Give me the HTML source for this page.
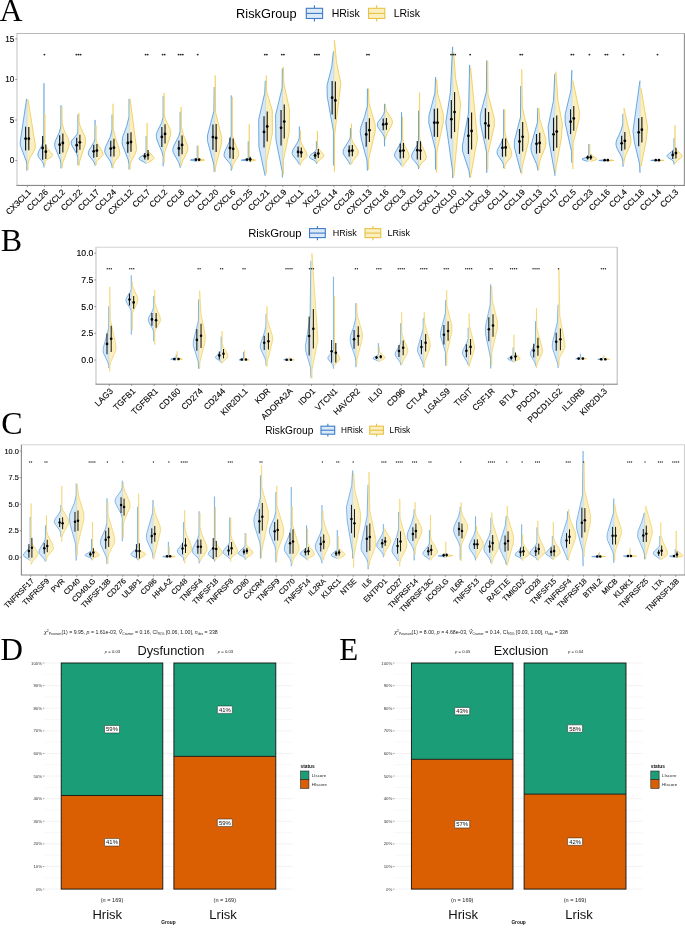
<!DOCTYPE html>
<html><head><meta charset="utf-8"><style>
html,body{margin:0;padding:0;background:#fff;width:685px;height:928px;overflow:hidden}
svg{display:block;font-family:"Liberation Sans", sans-serif}
</style></head><body>
<svg width="685" height="928" viewBox="0 0 685 928">
<rect width="685" height="928" fill="#fff"/>
<line x1="314.45" y1="5.24" x2="314.45" y2="21.56" stroke="#3c7cc8" stroke-width="1.1"/>
<rect x="306.3" y="8.3" width="16.3" height="10.2" fill="#dce9f7" stroke="#3c7cc8" stroke-width="1.1"/>
<line x1="306.3" y1="13.4" x2="322.6" y2="13.4" stroke="#3c7cc8" stroke-width="1.1"/>
<line x1="376.65" y1="5.24" x2="376.65" y2="21.56" stroke="#e8c244" stroke-width="1.1"/>
<rect x="368.5" y="8.3" width="16.3" height="10.2" fill="#f9efc0" stroke="#e8c244" stroke-width="1.1"/>
<line x1="368.5" y1="13.4" x2="384.8" y2="13.4" stroke="#e8c244" stroke-width="1.1"/>
<line x1="16.5" y1="33.5" x2="684.9" y2="33.5" stroke="#b8b8b8" stroke-width="1.1"/>
<line x1="17" y1="33.5" x2="17" y2="185.4" stroke="#c6c6c6" stroke-width="1.1"/>
<line x1="684.4" y1="33.5" x2="684.4" y2="185.4" stroke="#8f8f8f" stroke-width="1.1"/>
<line x1="16.5" y1="185.4" x2="684.9" y2="185.4" stroke="#7a7a7a" stroke-width="1.0"/>
<line x1="15.2" y1="160.5" x2="17" y2="160.5" stroke="#777" stroke-width="0.7"/>
<line x1="15.2" y1="120" x2="17" y2="120" stroke="#777" stroke-width="0.7"/>
<line x1="15.2" y1="79.5" x2="17" y2="79.5" stroke="#777" stroke-width="0.7"/>
<line x1="15.2" y1="38.9" x2="17" y2="38.9" stroke="#777" stroke-width="0.7"/>
<path d="M27.4 98.9L26.6 98.9L20.2 141.9L20.3 145.4L26.2 160.9L26.8 164.4L26.8 170.5L27.4 170.5Z" fill="#d5e8f8"/>
<path d="M26.6 98.9L20.2 141.9L20.3 145.4L26.2 160.9L26.8 164.4L26.8 170.5" fill="none" stroke="#3f8fd6" stroke-width="0.75" stroke-linejoin="round"/>
<line x1="27.25" y1="98.9" x2="27.25" y2="170.5" stroke="#3f8fd6" stroke-width="0.3" stroke-opacity="0.5"/>
<path d="M27.4 99.9L28.1 99.9L35.2 144.4L35.2 147.9L34.6 149.9L29.4 158.9L28 163.4L27.9 170L27.4 170Z" fill="#faefc2"/>
<path d="M28.1 99.9L35.2 144.4L35.2 147.9L34.6 149.9L29.4 158.9L28 163.4L27.9 170" fill="none" stroke="#efc63f" stroke-width="0.75" stroke-linejoin="round"/>
<line x1="27.55" y1="99.9" x2="27.55" y2="170" stroke="#efc63f" stroke-width="0.3" stroke-opacity="0.5"/>
<path d="M44.4 83.2L43.9 83.2L43.9 139.7L42.5 144.2L38.6 151.7L38 153.7L37.9 155.2L38.2 156.2L39 157.7L42.3 161.7L43.4 163.7L43.9 165.2L43.9 167.3L44.4 167.3Z" fill="#d5e8f8"/>
<path d="M43.9 83.2L43.9 139.7L42.5 144.2L38.6 151.7L38 153.7L37.9 155.2L38.2 156.2L39 157.7L42.3 161.7L43.4 163.7L43.9 165.2L43.9 167.3" fill="none" stroke="#3f8fd6" stroke-width="0.75" stroke-linejoin="round"/>
<line x1="44.28" y1="83.2" x2="44.28" y2="167.3" stroke="#3f8fd6" stroke-width="0.3" stroke-opacity="0.5"/>
<path d="M44.4 114L45 114L45 144.5L45.4 146L46.3 147.5L48 149.5L51.1 152.5L51.9 153.5L52.4 154.5L52.5 155.5L52.3 156L51.9 156.5L51.3 157L47.2 159.5L46 160.5L45.2 161.5L45 162L45 165L44.4 165Z" fill="#faefc2"/>
<path d="M45 114L45 144.5L45.4 146L46.3 147.5L48 149.5L51.1 152.5L51.9 153.5L52.4 154.5L52.5 155.5L52.3 156L51.9 156.5L51.3 157L47.2 159.5L46 160.5L45.2 161.5L45 162L45 165" fill="none" stroke="#efc63f" stroke-width="0.75" stroke-linejoin="round"/>
<line x1="44.58" y1="114" x2="44.58" y2="165" stroke="#efc63f" stroke-width="0.3" stroke-opacity="0.5"/>
<path d="M61.5 105.3L60.9 105.3L60.9 126.3L59.3 132.3L55.2 141.3L54.7 144.3L55 147.3L60 159.3L60.9 163.3L60.9 168.4L61.5 168.4Z" fill="#d5e8f8"/>
<path d="M60.9 105.3L60.9 126.3L59.3 132.3L55.2 141.3L54.7 144.3L55 147.3L60 159.3L60.9 163.3L60.9 168.4" fill="none" stroke="#3f8fd6" stroke-width="0.75" stroke-linejoin="round"/>
<line x1="61.31" y1="105.3" x2="61.31" y2="168.4" stroke="#3f8fd6" stroke-width="0.3" stroke-opacity="0.5"/>
<path d="M61.5 106.9L62 106.9L62.1 122.9L63.8 129.4L68.5 139.4L69.2 142.4L69.1 145.9L62.8 162.4L62 166.9L62 167.8L61.5 167.8Z" fill="#faefc2"/>
<path d="M62 106.9L62.1 122.9L63.8 129.4L68.5 139.4L69.2 142.4L69.1 145.9L62.8 162.4L62 166.9L62 167.8" fill="none" stroke="#efc63f" stroke-width="0.75" stroke-linejoin="round"/>
<line x1="61.61" y1="106.9" x2="61.61" y2="167.8" stroke="#efc63f" stroke-width="0.3" stroke-opacity="0.5"/>
<path d="M78.5 114.5L77.9 114.5L77.9 132L77.1 134L75.7 136L72.2 140L71.6 141L71.2 142L71.3 143.5L71.9 145.5L76.5 153.5L77.9 157.5L77.9 165.1L78.5 165.1Z" fill="#d5e8f8"/>
<path d="M77.9 114.5L77.9 132L77.1 134L75.7 136L72.2 140L71.6 141L71.2 142L71.3 143.5L71.9 145.5L76.5 153.5L77.9 157.5L77.9 165.1" fill="none" stroke="#3f8fd6" stroke-width="0.75" stroke-linejoin="round"/>
<line x1="78.34" y1="114.5" x2="78.34" y2="165.1" stroke="#3f8fd6" stroke-width="0.3" stroke-opacity="0.5"/>
<path d="M78.5 112.9L79 112.9L79.1 121.9L80.6 127.4L84.9 136.4L85.6 139.4L85.3 143.9L79.6 161.4L79 165.4L79 166.2L78.5 166.2Z" fill="#faefc2"/>
<path d="M79 112.9L79.1 121.9L80.6 127.4L84.9 136.4L85.6 139.4L85.3 143.9L79.6 161.4L79 165.4L79 166.2" fill="none" stroke="#efc63f" stroke-width="0.75" stroke-linejoin="round"/>
<line x1="78.64" y1="112.9" x2="78.64" y2="166.2" stroke="#efc63f" stroke-width="0.3" stroke-opacity="0.5"/>
<path d="M95.5 119.9L95 119.9L94.9 138.9L93.8 142.4L89 150.4L88.4 152.4L88.4 153.9L88.7 154.9L89.6 156.4L93.2 160.9L94.4 162.9L94.9 164.4L95 165.7L95.5 165.7Z" fill="#d5e8f8"/>
<path d="M95 119.9L94.9 138.9L93.8 142.4L89 150.4L88.4 152.4L88.4 153.9L88.7 154.9L89.6 156.4L93.2 160.9L94.4 162.9L94.9 164.4L95 165.7" fill="none" stroke="#3f8fd6" stroke-width="0.75" stroke-linejoin="round"/>
<line x1="95.37" y1="119.9" x2="95.37" y2="165.7" stroke="#3f8fd6" stroke-width="0.3" stroke-opacity="0.5"/>
<path d="M95.5 125.3L96.1 125.3L96.1 139.8L97.2 143.3L102.2 151.3L102.9 153.3L103 154.3L103 154.8L102.8 155.3L102.1 156.3L98 159.8L97.1 160.8L96.2 162.3L96.1 162.8L96.1 165.1L95.5 165.1Z" fill="#faefc2"/>
<path d="M96.1 125.3L96.1 139.8L97.2 143.3L102.2 151.3L102.9 153.3L103 154.3L103 154.8L102.8 155.3L102.1 156.3L98 159.8L97.1 160.8L96.2 162.3L96.1 162.8L96.1 165.1" fill="none" stroke="#efc63f" stroke-width="0.75" stroke-linejoin="round"/>
<line x1="95.67" y1="125.3" x2="95.67" y2="165.1" stroke="#efc63f" stroke-width="0.3" stroke-opacity="0.5"/>
<path d="M112.6 114.5L112 114.5L112 130L110.4 136.5L105.5 147L104.8 150L104.8 152L105.5 154L110.4 161.5L111.8 165L112 166L112 167.8L112.6 167.8Z" fill="#d5e8f8"/>
<path d="M112 114.5L112 130L110.4 136.5L105.5 147L104.8 150L104.8 152L105.5 154L110.4 161.5L111.8 165L112 166L112 167.8" fill="none" stroke="#3f8fd6" stroke-width="0.75" stroke-linejoin="round"/>
<line x1="112.4" y1="114.5" x2="112.4" y2="167.8" stroke="#3f8fd6" stroke-width="0.3" stroke-opacity="0.5"/>
<path d="M112.6 103.7L113.1 103.7L113.2 128.7L115.8 139.2L119.4 149.2L119.8 153.2L119.6 154.7L118.9 156.2L114.8 161.7L113.5 164.2L113.1 165.7L113.1 168.4L112.6 168.4Z" fill="#faefc2"/>
<path d="M113.1 103.7L113.2 128.7L115.8 139.2L119.4 149.2L119.8 153.2L119.6 154.7L118.9 156.2L114.8 161.7L113.5 164.2L113.1 165.7L113.1 168.4" fill="none" stroke="#efc63f" stroke-width="0.75" stroke-linejoin="round"/>
<line x1="112.7" y1="103.7" x2="112.7" y2="168.4" stroke="#efc63f" stroke-width="0.3" stroke-opacity="0.5"/>
<path d="M129.6 98.9L129 98.9L129 116.9L126.6 126.4L122.7 136.9L122.1 141.4L122.6 145.4L128.2 159.9L129 164.4L129 169.4L129.6 169.4Z" fill="#d5e8f8"/>
<path d="M129 98.9L129 116.9L126.6 126.4L122.7 136.9L122.1 141.4L122.6 145.4L128.2 159.9L129 164.4L129 169.4" fill="none" stroke="#3f8fd6" stroke-width="0.75" stroke-linejoin="round"/>
<line x1="129.43" y1="98.9" x2="129.43" y2="169.4" stroke="#3f8fd6" stroke-width="0.3" stroke-opacity="0.5"/>
<path d="M129.6 98.9L130.1 98.9L136.6 148.4L136.3 150.9L134.9 154.4L131.4 160.9L130.1 165.4L130.1 169.4L129.6 169.4Z" fill="#faefc2"/>
<path d="M130.1 98.9L136.6 148.4L136.3 150.9L134.9 154.4L131.4 160.9L130.1 165.4L130.1 169.4" fill="none" stroke="#efc63f" stroke-width="0.75" stroke-linejoin="round"/>
<line x1="129.73" y1="98.9" x2="129.73" y2="169.4" stroke="#efc63f" stroke-width="0.3" stroke-opacity="0.5"/>
<path d="M146.6 136L146.1 136L146.1 152L146 152.5L145.3 153.5L144.1 154.5L140.3 157L139.7 157.5L139.2 158L139 158.5L139.1 159L139.5 159.5L140.1 160L143.9 162L144.7 162.5L145.3 163L145.8 163.5L146.6 163.5Z" fill="#d5e8f8"/>
<path d="M146.1 136L146.1 152L146 152.5L145.3 153.5L144.1 154.5L140.3 157L139.7 157.5L139.2 158L139 158.5L139.1 159L139.5 159.5L140.1 160L143.9 162L144.7 162.5L145.3 163L145.8 163.5" fill="none" stroke="#3f8fd6" stroke-width="0.75" stroke-linejoin="round"/>
<line x1="146.46" y1="136" x2="146.46" y2="163.5" stroke="#3f8fd6" stroke-width="0.3" stroke-opacity="0.5"/>
<path d="M146.6 123.1L147.2 123.1L147.2 148.6L147.4 149.6L148.3 151.1L150 153.1L152.6 155.6L153.3 156.6L153.8 157.6L153.8 158.1L153.7 158.6L153.4 159.1L152.8 159.6L149.2 162.1L148.2 163L146.6 163Z" fill="#faefc2"/>
<path d="M147.2 123.1L147.2 148.6L147.4 149.6L148.3 151.1L150 153.1L152.6 155.6L153.3 156.6L153.8 157.6L153.8 158.1L153.7 158.6L153.4 159.1L152.8 159.6L149.2 162.1L148.2 163" fill="none" stroke="#efc63f" stroke-width="0.75" stroke-linejoin="round"/>
<line x1="146.76" y1="123.1" x2="146.76" y2="163" stroke="#efc63f" stroke-width="0.3" stroke-opacity="0.5"/>
<path d="M163.6 96.2L163.1 96.2L163.1 117.2L161.6 122.7L157 132.2L156.3 134.7L156.4 137.7L157.8 142.2L161.9 151.7L163.1 156.7L163.1 166.2L163.6 166.2Z" fill="#d5e8f8"/>
<path d="M163.1 96.2L163.1 117.2L161.6 122.7L157 132.2L156.3 134.7L156.4 137.7L157.8 142.2L161.9 151.7L163.1 156.7L163.1 166.2" fill="none" stroke="#3f8fd6" stroke-width="0.75" stroke-linejoin="round"/>
<line x1="163.49" y1="96.2" x2="163.49" y2="166.2" stroke="#3f8fd6" stroke-width="0.3" stroke-opacity="0.5"/>
<path d="M163.6 92.9L164.2 92.9L164.2 114.4L165.7 119.9L170 128.9L170.7 131.9L170.4 135.9L164.8 151.9L164.2 155.9L164.2 163L163.6 163Z" fill="#faefc2"/>
<path d="M164.2 92.9L164.2 114.4L165.7 119.9L170 128.9L170.7 131.9L170.4 135.9L164.8 151.9L164.2 155.9L164.2 163" fill="none" stroke="#efc63f" stroke-width="0.75" stroke-linejoin="round"/>
<line x1="163.79" y1="92.9" x2="163.79" y2="163" stroke="#efc63f" stroke-width="0.3" stroke-opacity="0.5"/>
<path d="M180.7 111.8L180.1 111.8L180.1 131.3L178.7 136.3L173.5 146.3L172.9 148.8L172.8 150.8L173.3 152.8L178.7 162.3L180.1 166.8L180.1 167.8L180.7 167.8Z" fill="#d5e8f8"/>
<path d="M180.1 111.8L180.1 131.3L178.7 136.3L173.5 146.3L172.9 148.8L172.8 150.8L173.3 152.8L178.7 162.3L180.1 166.8L180.1 167.8" fill="none" stroke="#3f8fd6" stroke-width="0.75" stroke-linejoin="round"/>
<line x1="180.52" y1="111.8" x2="180.52" y2="167.8" stroke="#3f8fd6" stroke-width="0.3" stroke-opacity="0.5"/>
<path d="M180.7 106.9L181.2 106.9L181.3 126.4L183.4 134.9L187.3 144.9L187.9 148.9L187.6 150.9L186.1 154.4L182.6 160.9L181.2 165.4L181.2 166.2L180.7 166.2Z" fill="#faefc2"/>
<path d="M181.2 106.9L181.3 126.4L183.4 134.9L187.3 144.9L187.9 148.9L187.6 150.9L186.1 154.4L182.6 160.9L181.2 165.4L181.2 166.2" fill="none" stroke="#efc63f" stroke-width="0.75" stroke-linejoin="round"/>
<line x1="180.82" y1="106.9" x2="180.82" y2="166.2" stroke="#efc63f" stroke-width="0.3" stroke-opacity="0.5"/>
<path d="M197.7 145.7L197.2 145.7L197.2 158.2L196.5 158.7L193.9 159.2L190.8 159.7L190.4 160.2L196.1 161.2L196.8 161.4L197.7 161.4Z" fill="#d5e8f8"/>
<path d="M197.2 145.7L197.2 158.2L196.5 158.7L193.9 159.2L190.8 159.7L190.4 160.2L196.1 161.2L196.8 161.4" fill="none" stroke="#3f8fd6" stroke-width="0.75" stroke-linejoin="round"/>
<line x1="197.55" y1="145.7" x2="197.55" y2="161.4" stroke="#3f8fd6" stroke-width="0.3" stroke-opacity="0.5"/>
<path d="M197.7 145.7L198.3 145.7L198.3 158.2L198.8 158.7L201.3 159.2L204.1 159.7L204.5 160.2L199.2 161.2L198.5 161.4L197.7 161.4Z" fill="#faefc2"/>
<path d="M198.3 145.7L198.3 158.2L198.8 158.7L201.3 159.2L204.1 159.7L204.5 160.2L199.2 161.2L198.5 161.4" fill="none" stroke="#efc63f" stroke-width="0.75" stroke-linejoin="round"/>
<line x1="197.85" y1="145.7" x2="197.85" y2="161.4" stroke="#efc63f" stroke-width="0.3" stroke-opacity="0.5"/>
<path d="M214.7 87L214.2 87L213.9 111L207.6 135L207.4 140.5L213.8 164.5L214.2 172.1L214.7 172.1Z" fill="#d5e8f8"/>
<path d="M214.2 87L213.9 111L207.6 135L207.4 140.5L213.8 164.5L214.2 172.1" fill="none" stroke="#3f8fd6" stroke-width="0.75" stroke-linejoin="round"/>
<line x1="214.58" y1="87" x2="214.58" y2="172.1" stroke="#3f8fd6" stroke-width="0.3" stroke-opacity="0.5"/>
<path d="M214.7 75.4L215.3 75.4L215.6 112.4L221.6 136.9L221.7 142.9L215.6 166.9L215.3 171.6L214.7 171.6Z" fill="#faefc2"/>
<path d="M215.3 75.4L215.6 112.4L221.6 136.9L221.7 142.9L215.6 166.9L215.3 171.6" fill="none" stroke="#efc63f" stroke-width="0.75" stroke-linejoin="round"/>
<line x1="214.88" y1="75.4" x2="214.88" y2="171.6" stroke="#efc63f" stroke-width="0.3" stroke-opacity="0.5"/>
<path d="M231.8 95.4L231.2 95.4L231.2 135.4L229.6 141.4L224.8 151.4L224.1 154.4L224.1 155.9L224.5 156.9L225.5 158.4L229.1 162.4L230.4 164.4L231.2 166.4L231.2 170.6L231.8 170.6Z" fill="#d5e8f8"/>
<path d="M231.2 95.4L231.2 135.4L229.6 141.4L224.8 151.4L224.1 154.4L224.1 155.9L224.5 156.9L225.5 158.4L229.1 162.4L230.4 164.4L231.2 166.4L231.2 170.6" fill="none" stroke="#3f8fd6" stroke-width="0.75" stroke-linejoin="round"/>
<line x1="231.61" y1="95.4" x2="231.61" y2="170.6" stroke="#3f8fd6" stroke-width="0.3" stroke-opacity="0.5"/>
<path d="M231.8 97.1L232.3 97.1L232.3 134.6L233.8 140.6L238.2 150.6L238.7 153.6L238.7 155.1L238.2 156.6L233.6 163.6L232.5 166.6L232.3 168.9L231.8 168.9Z" fill="#faefc2"/>
<path d="M232.3 97.1L232.3 134.6L233.8 140.6L238.2 150.6L238.7 153.6L238.7 155.1L238.2 156.6L233.6 163.6L232.5 166.6L232.3 168.9" fill="none" stroke="#efc63f" stroke-width="0.75" stroke-linejoin="round"/>
<line x1="231.91" y1="97.1" x2="231.91" y2="168.9" stroke="#efc63f" stroke-width="0.3" stroke-opacity="0.5"/>
<path d="M248.8 141.2L248.2 141.2L248.2 158.7L247.2 159.2L243.2 159.7L241.4 160.2L246 160.7L248 161L248.8 161Z" fill="#d5e8f8"/>
<path d="M248.2 141.2L248.2 158.7L247.2 159.2L243.2 159.7L241.4 160.2L246 160.7L248 161" fill="none" stroke="#3f8fd6" stroke-width="0.75" stroke-linejoin="round"/>
<line x1="248.64" y1="141.2" x2="248.64" y2="161" stroke="#3f8fd6" stroke-width="0.3" stroke-opacity="0.5"/>
<path d="M248.8 124.2L249.3 124.2L249.3 158.2L249.6 158.7L251.7 159.2L254.6 159.7L255.6 160.2L252.9 160.7L250 161.2L248.8 161.2Z" fill="#faefc2"/>
<path d="M249.3 124.2L249.3 158.2L249.6 158.7L251.7 159.2L254.6 159.7L255.6 160.2L252.9 160.7L250 161.2" fill="none" stroke="#efc63f" stroke-width="0.75" stroke-linejoin="round"/>
<line x1="248.94" y1="124.2" x2="248.94" y2="161.2" stroke="#efc63f" stroke-width="0.3" stroke-opacity="0.5"/>
<path d="M265.8 80.8L265.3 80.8L264.7 93.3L258.7 119.3L258.9 146.8L265.1 175.7L265.8 175.7Z" fill="#d5e8f8"/>
<path d="M265.3 80.8L264.7 93.3L258.7 119.3L258.9 146.8L265.1 175.7" fill="none" stroke="#3f8fd6" stroke-width="0.75" stroke-linejoin="round"/>
<line x1="265.67" y1="80.8" x2="265.67" y2="175.7" stroke="#3f8fd6" stroke-width="0.3" stroke-opacity="0.5"/>
<path d="M265.8 75.5L266.4 75.5L266.4 90.5L272.3 110.5L272.4 133.5L266.4 162L266.4 173.4L265.8 173.4Z" fill="#faefc2"/>
<path d="M266.4 75.5L266.4 90.5L272.3 110.5L272.4 133.5L266.4 162L266.4 173.4" fill="none" stroke="#efc63f" stroke-width="0.75" stroke-linejoin="round"/>
<line x1="265.97" y1="75.5" x2="265.97" y2="173.4" stroke="#efc63f" stroke-width="0.3" stroke-opacity="0.5"/>
<path d="M282.9 68.5L282.3 68.5L282.1 88L275.6 115L275.9 139.5L282.3 172L282.3 177.4L282.9 177.4Z" fill="#d5e8f8"/>
<path d="M282.3 68.5L282.1 88L275.6 115L275.9 139.5L282.3 172L282.3 177.4" fill="none" stroke="#3f8fd6" stroke-width="0.75" stroke-linejoin="round"/>
<line x1="282.7" y1="68.5" x2="282.7" y2="177.4" stroke="#3f8fd6" stroke-width="0.3" stroke-opacity="0.5"/>
<path d="M282.9 66.8L283.4 66.8L283.8 82.8L289.5 109.8L289.2 132.3L283.4 160.3L283.4 174.5L282.9 174.5Z" fill="#faefc2"/>
<path d="M283.4 66.8L283.8 82.8L289.5 109.8L289.2 132.3L283.4 160.3L283.4 174.5" fill="none" stroke="#efc63f" stroke-width="0.75" stroke-linejoin="round"/>
<line x1="283" y1="66.8" x2="283" y2="174.5" stroke="#efc63f" stroke-width="0.3" stroke-opacity="0.5"/>
<path d="M299.9 126.5L299.3 126.5L299.3 137.5L298.3 141L292.9 150L292.3 152L292.2 153.5L292.5 154.5L293.3 156L297.4 161L298.8 163.5L299.1 164.4L299.9 164.4Z" fill="#d5e8f8"/>
<path d="M299.3 126.5L299.3 137.5L298.3 141L292.9 150L292.3 152L292.2 153.5L292.5 154.5L293.3 156L297.4 161L298.8 163.5L299.1 164.4" fill="none" stroke="#3f8fd6" stroke-width="0.75" stroke-linejoin="round"/>
<line x1="299.73" y1="126.5" x2="299.73" y2="164.4" stroke="#3f8fd6" stroke-width="0.3" stroke-opacity="0.5"/>
<path d="M299.9 130.4L300.4 130.4L300.5 140.4L301.6 143.9L306.2 151.9L306.9 153.9L307.1 155.4L306.8 156.4L306.1 157.4L302.3 160.9L301.2 162.4L300.5 163.9L300.4 165.5L299.9 165.5Z" fill="#faefc2"/>
<path d="M300.4 130.4L300.5 140.4L301.6 143.9L306.2 151.9L306.9 153.9L307.1 155.4L306.8 156.4L306.1 157.4L302.3 160.9L301.2 162.4L300.5 163.9L300.4 165.5" fill="none" stroke="#efc63f" stroke-width="0.75" stroke-linejoin="round"/>
<line x1="300.03" y1="130.4" x2="300.03" y2="165.5" stroke="#efc63f" stroke-width="0.3" stroke-opacity="0.5"/>
<path d="M316.9 141.2L316.4 141.2L316.4 149.2L315.9 150.2L315.1 151.2L314.1 152.2L310.9 154.7L309.8 155.7L309.5 156.2L309.3 156.7L309.3 157.2L309.6 157.7L310.2 158.2L311 158.7L313.8 160.2L314.6 160.7L315.3 161.2L315.8 161.7L316.2 162.2L316.4 162.7L316.4 163.8L316.9 163.8Z" fill="#d5e8f8"/>
<path d="M316.4 141.2L316.4 149.2L315.9 150.2L315.1 151.2L314.1 152.2L310.9 154.7L309.8 155.7L309.5 156.2L309.3 156.7L309.3 157.2L309.6 157.7L310.2 158.2L311 158.7L313.8 160.2L314.6 160.7L315.3 161.2L315.8 161.7L316.2 162.2L316.4 162.7L316.4 163.8" fill="none" stroke="#3f8fd6" stroke-width="0.75" stroke-linejoin="round"/>
<line x1="316.76" y1="141.2" x2="316.76" y2="163.8" stroke="#3f8fd6" stroke-width="0.3" stroke-opacity="0.5"/>
<path d="M316.9 131L317.5 131L317.5 146L318 147.5L318.9 149L322.8 153.5L323.5 154.5L323.8 155.5L323.8 156L323.7 156.5L323.3 157L322.8 157.5L319.4 160L318.4 161L317.7 162L317.5 162.5L317.5 163.2L316.9 163.2Z" fill="#faefc2"/>
<path d="M317.5 131L317.5 146L318 147.5L318.9 149L322.8 153.5L323.5 154.5L323.8 155.5L323.8 156L323.7 156.5L323.3 157L322.8 157.5L319.4 160L318.4 161L317.7 162L317.5 162.5L317.5 163.2" fill="none" stroke="#efc63f" stroke-width="0.75" stroke-linejoin="round"/>
<line x1="317.06" y1="131" x2="317.06" y2="163.2" stroke="#efc63f" stroke-width="0.3" stroke-opacity="0.5"/>
<path d="M333.9 51.5L333.4 51.5L331.7 67L327 85.5L327.3 97L333.4 131L333.4 165.5L333.9 165.5Z" fill="#d5e8f8"/>
<path d="M333.4 51.5L331.7 67L327 85.5L327.3 97L333.4 131L333.4 165.5" fill="none" stroke="#3f8fd6" stroke-width="0.75" stroke-linejoin="round"/>
<line x1="333.79" y1="51.5" x2="333.79" y2="165.5" stroke="#3f8fd6" stroke-width="0.3" stroke-opacity="0.5"/>
<path d="M333.9 40.3L334.5 40.3L336.5 62.3L340.9 83.3L334.5 135.8L334.5 171.7L333.9 171.7Z" fill="#faefc2"/>
<path d="M334.5 40.3L336.5 62.3L340.9 83.3L334.5 135.8L334.5 171.7" fill="none" stroke="#efc63f" stroke-width="0.75" stroke-linejoin="round"/>
<line x1="334.09" y1="40.3" x2="334.09" y2="171.7" stroke="#efc63f" stroke-width="0.3" stroke-opacity="0.5"/>
<path d="M351 128.2L350.4 128.2L350.4 136.7L349.2 140.2L343.9 148.7L343.2 150.7L343.1 152.2L343.4 153.7L344.4 155.7L348.6 161.7L349.9 164.4L351 164.4Z" fill="#d5e8f8"/>
<path d="M350.4 128.2L350.4 136.7L349.2 140.2L343.9 148.7L343.2 150.7L343.1 152.2L343.4 153.7L344.4 155.7L348.6 161.7L349.9 164.4" fill="none" stroke="#3f8fd6" stroke-width="0.75" stroke-linejoin="round"/>
<line x1="350.82" y1="128.2" x2="350.82" y2="164.4" stroke="#3f8fd6" stroke-width="0.3" stroke-opacity="0.5"/>
<path d="M351 123.6L351.5 123.6L351.5 138.1L352.4 141.1L357.6 149.6L358.2 151.1L358.4 152.6L358.2 153.6L357.5 155.1L353.2 160.6L351.9 163.1L351.5 164.4L351 164.4Z" fill="#faefc2"/>
<path d="M351.5 123.6L351.5 138.1L352.4 141.1L357.6 149.6L358.2 151.1L358.4 152.6L358.2 153.6L357.5 155.1L353.2 160.6L351.9 163.1L351.5 164.4" fill="none" stroke="#efc63f" stroke-width="0.75" stroke-linejoin="round"/>
<line x1="351.12" y1="123.6" x2="351.12" y2="164.4" stroke="#efc63f" stroke-width="0.3" stroke-opacity="0.5"/>
<path d="M368 88.6L367.4 88.6L367.3 106.1L364.6 116.6L360.8 127.1L360.2 131.6L361.5 140.1L366.9 160.1L367.4 170.6L368 170.6Z" fill="#d5e8f8"/>
<path d="M367.4 88.6L367.3 106.1L364.6 116.6L360.8 127.1L360.2 131.6L361.5 140.1L366.9 160.1L367.4 170.6" fill="none" stroke="#3f8fd6" stroke-width="0.75" stroke-linejoin="round"/>
<line x1="367.85" y1="88.6" x2="367.85" y2="170.6" stroke="#3f8fd6" stroke-width="0.3" stroke-opacity="0.5"/>
<path d="M368 88.6L368.6 88.6L368.9 102.6L375.2 124.6L375.3 131.1L368.8 158.6L368.6 169.5L368 169.5Z" fill="#faefc2"/>
<path d="M368.6 88.6L368.9 102.6L375.2 124.6L375.3 131.1L368.8 158.6L368.6 169.5" fill="none" stroke="#efc63f" stroke-width="0.75" stroke-linejoin="round"/>
<line x1="368.15" y1="88.6" x2="368.15" y2="169.5" stroke="#efc63f" stroke-width="0.3" stroke-opacity="0.5"/>
<path d="M385 103.8L384.5 103.8L384.4 111.8L383.6 114.3L381.7 117.3L378.3 121.8L377.6 123.3L377.3 124.8L377.6 126.3L378.3 127.8L382.7 133.8L384 136.3L384.4 137.8L384.5 146.3L385 146.3Z" fill="#d5e8f8"/>
<path d="M384.5 103.8L384.4 111.8L383.6 114.3L381.7 117.3L378.3 121.8L377.6 123.3L377.3 124.8L377.6 126.3L378.3 127.8L382.7 133.8L384 136.3L384.4 137.8L384.5 146.3" fill="none" stroke="#3f8fd6" stroke-width="0.75" stroke-linejoin="round"/>
<line x1="384.88" y1="103.8" x2="384.88" y2="146.3" stroke="#3f8fd6" stroke-width="0.3" stroke-opacity="0.5"/>
<path d="M385 104.4L385.6 104.4L385.6 107.9L386.8 111.4L391.6 118.9L392.2 120.4L392.4 121.9L392.2 123.9L390.9 126.9L387.1 133.4L385.6 137.9L385.6 139.5L385 139.5Z" fill="#faefc2"/>
<path d="M385.6 104.4L385.6 107.9L386.8 111.4L391.6 118.9L392.2 120.4L392.4 121.9L392.2 123.9L390.9 126.9L387.1 133.4L385.6 137.9L385.6 139.5" fill="none" stroke="#efc63f" stroke-width="0.75" stroke-linejoin="round"/>
<line x1="385.18" y1="104.4" x2="385.18" y2="139.5" stroke="#efc63f" stroke-width="0.3" stroke-opacity="0.5"/>
<path d="M402.1 112.3L401.5 112.3L401.5 139.8L400.5 143.3L395.3 152.3L394.6 154.3L394.6 155.8L394.9 156.8L395.9 158.3L399.8 162.8L401 164.8L401.2 165.5L402.1 165.5Z" fill="#d5e8f8"/>
<path d="M401.5 112.3L401.5 139.8L400.5 143.3L395.3 152.3L394.6 154.3L394.6 155.8L394.9 156.8L395.9 158.3L399.8 162.8L401 164.8L401.2 165.5" fill="none" stroke="#3f8fd6" stroke-width="0.75" stroke-linejoin="round"/>
<line x1="401.91" y1="112.3" x2="401.91" y2="165.5" stroke="#3f8fd6" stroke-width="0.3" stroke-opacity="0.5"/>
<path d="M402.1 116.9L402.6 116.9L402.7 139.4L404.2 144.4L408.5 152.9L409.2 155.4L409.2 156.9L408.9 157.9L408 159.4L404.2 163.9L403.1 165.9L402.7 167.2L402.1 167.2Z" fill="#faefc2"/>
<path d="M402.6 116.9L402.7 139.4L404.2 144.4L408.5 152.9L409.2 155.4L409.2 156.9L408.9 157.9L408 159.4L404.2 163.9L403.1 165.9L402.7 167.2" fill="none" stroke="#efc63f" stroke-width="0.75" stroke-linejoin="round"/>
<line x1="402.21" y1="116.9" x2="402.21" y2="167.2" stroke="#efc63f" stroke-width="0.3" stroke-opacity="0.5"/>
<path d="M419.1 110.6L418.5 110.6L418.5 141.1L417.5 144.6L412.4 153.1L411.7 155.1L411.6 156.6L411.8 157.6L412.3 158.6L417 164.1L418.1 166.1L418.5 167.6L418.5 168.9L419.1 168.9Z" fill="#d5e8f8"/>
<path d="M418.5 110.6L418.5 141.1L417.5 144.6L412.4 153.1L411.7 155.1L411.6 156.6L411.8 157.6L412.3 158.6L417 164.1L418.1 166.1L418.5 167.6L418.5 168.9" fill="none" stroke="#3f8fd6" stroke-width="0.75" stroke-linejoin="round"/>
<line x1="418.94" y1="110.6" x2="418.94" y2="168.9" stroke="#3f8fd6" stroke-width="0.3" stroke-opacity="0.5"/>
<path d="M419.1 92.5L419.6 92.5L419.6 138L421.2 144L425.7 154L426.3 157L426.3 158L425.8 159L425 160L421.7 163L420.5 164.5L419.7 166L419.6 167.8L419.1 167.8Z" fill="#faefc2"/>
<path d="M419.6 92.5L419.6 138L421.2 144L425.7 154L426.3 157L426.3 158L425.8 159L425 160L421.7 163L420.5 164.5L419.7 166L419.6 167.8" fill="none" stroke="#efc63f" stroke-width="0.75" stroke-linejoin="round"/>
<line x1="419.24" y1="92.5" x2="419.24" y2="167.8" stroke="#efc63f" stroke-width="0.3" stroke-opacity="0.5"/>
<path d="M436.1 77L435.6 77L434.9 93L428.9 116L428.8 123L435.3 149.5L435.6 169.7L436.1 169.7Z" fill="#d5e8f8"/>
<path d="M435.6 77L434.9 93L428.9 116L428.8 123L435.3 149.5L435.6 169.7" fill="none" stroke="#3f8fd6" stroke-width="0.75" stroke-linejoin="round"/>
<line x1="435.97" y1="77" x2="435.97" y2="169.7" stroke="#3f8fd6" stroke-width="0.3" stroke-opacity="0.5"/>
<path d="M436.1 79.2L436.7 79.2L437.6 93.2L443.3 114.2L443.4 121.7L436.8 152.2L436.7 172.7L436.1 172.7Z" fill="#faefc2"/>
<path d="M436.7 79.2L437.6 93.2L443.3 114.2L443.4 121.7L436.8 152.2L436.7 172.7" fill="none" stroke="#efc63f" stroke-width="0.75" stroke-linejoin="round"/>
<line x1="436.27" y1="79.2" x2="436.27" y2="172.7" stroke="#efc63f" stroke-width="0.3" stroke-opacity="0.5"/>
<path d="M453.1 46.8L452.6 46.8L450.3 92.8L445.8 122.3L452.6 171.3L452.6 178L453.1 178Z" fill="#d5e8f8"/>
<path d="M452.6 46.8L450.3 92.8L445.8 122.3L452.6 171.3L452.6 178" fill="none" stroke="#3f8fd6" stroke-width="0.75" stroke-linejoin="round"/>
<line x1="453" y1="46.8" x2="453" y2="178" stroke="#3f8fd6" stroke-width="0.3" stroke-opacity="0.5"/>
<path d="M453.1 52L453.7 52L455.6 78.5L460.7 104L453.7 177.3L453.1 177.3Z" fill="#faefc2"/>
<path d="M453.7 52L455.6 78.5L460.7 104L453.7 177.3" fill="none" stroke="#efc63f" stroke-width="0.75" stroke-linejoin="round"/>
<line x1="453.3" y1="52" x2="453.3" y2="177.3" stroke="#efc63f" stroke-width="0.3" stroke-opacity="0.5"/>
<path d="M470.2 64.9L469.6 64.9L468.5 112.9L462.5 144.9L462.5 150.9L469 170.9L469.6 175.4L469.6 177.3L470.2 177.3Z" fill="#d5e8f8"/>
<path d="M469.6 64.9L468.5 112.9L462.5 144.9L462.5 150.9L469 170.9L469.6 175.4L469.6 177.3" fill="none" stroke="#3f8fd6" stroke-width="0.75" stroke-linejoin="round"/>
<line x1="470.03" y1="64.9" x2="470.03" y2="177.3" stroke="#3f8fd6" stroke-width="0.3" stroke-opacity="0.5"/>
<path d="M470.2 67.9L470.7 67.9L477.4 138.9L470.8 175.4L470.7 178L470.2 178Z" fill="#faefc2"/>
<path d="M470.7 67.9L477.4 138.9L470.8 175.4L470.7 178" fill="none" stroke="#efc63f" stroke-width="0.75" stroke-linejoin="round"/>
<line x1="470.33" y1="67.9" x2="470.33" y2="178" stroke="#efc63f" stroke-width="0.3" stroke-opacity="0.5"/>
<path d="M487.2 60.4L486.7 60.4L486.4 91.4L480.3 114.9L480.3 122.9L486.5 151.9L486.7 172.7L487.2 172.7Z" fill="#d5e8f8"/>
<path d="M486.7 60.4L486.4 91.4L480.3 114.9L480.3 122.9L486.5 151.9L486.7 172.7" fill="none" stroke="#3f8fd6" stroke-width="0.75" stroke-linejoin="round"/>
<line x1="487.06" y1="60.4" x2="487.06" y2="172.7" stroke="#3f8fd6" stroke-width="0.3" stroke-opacity="0.5"/>
<path d="M487.2 61.1L487.8 61.1L488 94.1L494.3 118.6L494.4 125.6L488 153.6L487.8 169.7L487.2 169.7Z" fill="#faefc2"/>
<path d="M487.8 61.1L488 94.1L494.3 118.6L494.4 125.6L488 153.6L487.8 169.7" fill="none" stroke="#efc63f" stroke-width="0.75" stroke-linejoin="round"/>
<line x1="487.36" y1="61.1" x2="487.36" y2="169.7" stroke="#efc63f" stroke-width="0.3" stroke-opacity="0.5"/>
<path d="M504.2 109.4L503.7 109.4L503.7 136.4L502.5 140.4L497.7 149.4L497.1 151.4L497.1 152.9L497.5 154.4L498.9 156.9L502.1 161.4L503.4 164.4L503.7 165.4L503.7 168.2L504.2 168.2Z" fill="#d5e8f8"/>
<path d="M503.7 109.4L503.7 136.4L502.5 140.4L497.7 149.4L497.1 151.4L497.1 152.9L497.5 154.4L498.9 156.9L502.1 161.4L503.4 164.4L503.7 165.4L503.7 168.2" fill="none" stroke="#3f8fd6" stroke-width="0.75" stroke-linejoin="round"/>
<line x1="504.09" y1="109.4" x2="504.09" y2="168.2" stroke="#3f8fd6" stroke-width="0.3" stroke-opacity="0.5"/>
<path d="M504.2 109.4L504.8 109.4L504.8 131.4L506.7 139.4L511.1 150.4L511.7 154.4L511.7 155.4L511 156.9L506.3 162.9L505.1 165.4L504.8 166.4L504.8 169L504.2 169Z" fill="#faefc2"/>
<path d="M504.8 109.4L504.8 131.4L506.7 139.4L511.1 150.4L511.7 154.4L511.7 155.4L511 156.9L506.3 162.9L505.1 165.4L504.8 166.4L504.8 169" fill="none" stroke="#efc63f" stroke-width="0.75" stroke-linejoin="round"/>
<line x1="504.39" y1="109.4" x2="504.39" y2="169" stroke="#efc63f" stroke-width="0.3" stroke-opacity="0.5"/>
<path d="M521.3 86L520.7 86L520.5 117L514.4 141L514.3 147L520.4 170.5L520.7 172.7L521.3 172.7Z" fill="#d5e8f8"/>
<path d="M520.7 86L520.5 117L514.4 141L514.3 147L520.4 170.5L520.7 172.7" fill="none" stroke="#3f8fd6" stroke-width="0.75" stroke-linejoin="round"/>
<line x1="521.12" y1="86" x2="521.12" y2="172.7" stroke="#3f8fd6" stroke-width="0.3" stroke-opacity="0.5"/>
<path d="M521.3 69.4L521.8 69.4L522.3 107.4L528.6 134.4L528.6 141.4L522.1 167.4L521.8 174.2L521.3 174.2Z" fill="#faefc2"/>
<path d="M521.8 69.4L522.3 107.4L528.6 134.4L528.6 141.4L522.1 167.4L521.8 174.2" fill="none" stroke="#efc63f" stroke-width="0.75" stroke-linejoin="round"/>
<line x1="521.42" y1="69.4" x2="521.42" y2="174.2" stroke="#efc63f" stroke-width="0.3" stroke-opacity="0.5"/>
<path d="M538.3 107.9L537.8 107.9L537.4 122.4L531.2 144.9L530.9 149.4L531.7 152.9L536.7 164.4L537.7 168.9L537.8 170.5L538.3 170.5Z" fill="#d5e8f8"/>
<path d="M537.8 107.9L537.4 122.4L531.2 144.9L530.9 149.4L531.7 152.9L536.7 164.4L537.7 168.9L537.8 170.5" fill="none" stroke="#3f8fd6" stroke-width="0.75" stroke-linejoin="round"/>
<line x1="538.15" y1="107.9" x2="538.15" y2="170.5" stroke="#3f8fd6" stroke-width="0.3" stroke-opacity="0.5"/>
<path d="M538.3 107.9L538.9 107.9L539.7 118.9L545.6 138.4L546 143.4L545 147.9L540 160.4L538.9 165.9L538.9 169.7L538.3 169.7Z" fill="#faefc2"/>
<path d="M538.9 107.9L539.7 118.9L545.6 138.4L546 143.4L545 147.9L540 160.4L538.9 165.9L538.9 169.7" fill="none" stroke="#efc63f" stroke-width="0.75" stroke-linejoin="round"/>
<line x1="538.45" y1="107.9" x2="538.45" y2="169.7" stroke="#efc63f" stroke-width="0.3" stroke-opacity="0.5"/>
<path d="M555.3 73.9L554.8 73.9L553.5 100.4L548.1 126.9L549.1 141.9L554.8 173.9L554.8 175.7L555.3 175.7Z" fill="#d5e8f8"/>
<path d="M554.8 73.9L553.5 100.4L548.1 126.9L549.1 141.9L554.8 173.9L554.8 175.7" fill="none" stroke="#3f8fd6" stroke-width="0.75" stroke-linejoin="round"/>
<line x1="555.18" y1="73.9" x2="555.18" y2="175.7" stroke="#3f8fd6" stroke-width="0.3" stroke-opacity="0.5"/>
<path d="M555.3 71.7L555.9 71.7L557.9 100.2L562.4 124.2L561.5 137.7L555.9 168.2L555.9 172.7L555.3 172.7Z" fill="#faefc2"/>
<path d="M555.9 71.7L557.9 100.2L562.4 124.2L561.5 137.7L555.9 168.2L555.9 172.7" fill="none" stroke="#efc63f" stroke-width="0.75" stroke-linejoin="round"/>
<line x1="555.48" y1="71.7" x2="555.48" y2="172.7" stroke="#efc63f" stroke-width="0.3" stroke-opacity="0.5"/>
<path d="M572.4 70.2L571.8 70.2L571 89.7L565.1 114.7L565.1 122.7L571.6 151.7L571.8 162.9L572.4 162.9Z" fill="#d5e8f8"/>
<path d="M571.8 70.2L571 89.7L565.1 114.7L565.1 122.7L571.6 151.7L571.8 162.9" fill="none" stroke="#3f8fd6" stroke-width="0.75" stroke-linejoin="round"/>
<line x1="572.21" y1="70.2" x2="572.21" y2="162.9" stroke="#3f8fd6" stroke-width="0.3" stroke-opacity="0.5"/>
<path d="M572.4 80.7L572.9 80.7L579.4 111.2L579.2 118.7L573.2 143.2L572.9 169L572.4 169Z" fill="#faefc2"/>
<path d="M572.9 80.7L579.4 111.2L579.2 118.7L573.2 143.2L572.9 169" fill="none" stroke="#efc63f" stroke-width="0.75" stroke-linejoin="round"/>
<line x1="572.51" y1="80.7" x2="572.51" y2="169" stroke="#efc63f" stroke-width="0.3" stroke-opacity="0.5"/>
<path d="M589.4 144.1L588.8 144.1L588.8 156.1L588.2 156.6L587.1 157.1L585.7 157.6L584.1 158.1L582.7 158.6L582 159.1L582.3 159.6L583.6 160.1L587 161.1L587.7 161.4L589.4 161.4Z" fill="#d5e8f8"/>
<path d="M588.8 144.1L588.8 156.1L588.2 156.6L587.1 157.1L585.7 157.6L584.1 158.1L582.7 158.6L582 159.1L582.3 159.6L583.6 160.1L587 161.1L587.7 161.4" fill="none" stroke="#3f8fd6" stroke-width="0.75" stroke-linejoin="round"/>
<line x1="589.24" y1="144.1" x2="589.24" y2="161.4" stroke="#3f8fd6" stroke-width="0.3" stroke-opacity="0.5"/>
<path d="M589.4 144.1L589.9 144.1L589.9 153.1L590.2 153.6L591 154.6L592.3 155.6L595.6 157.6L596.3 158.1L596.7 158.6L596.9 159.1L596.5 159.6L595.2 160.1L591.9 161.1L591.1 161.4L589.4 161.4Z" fill="#faefc2"/>
<path d="M589.9 144.1L589.9 153.1L590.2 153.6L591 154.6L592.3 155.6L595.6 157.6L596.3 158.1L596.7 158.6L596.9 159.1L596.5 159.6L595.2 160.1L591.9 161.1L591.1 161.4" fill="none" stroke="#efc63f" stroke-width="0.75" stroke-linejoin="round"/>
<line x1="589.54" y1="144.1" x2="589.54" y2="161.4" stroke="#efc63f" stroke-width="0.3" stroke-opacity="0.5"/>
<path d="M606.4 159.9L602.7 159.9L598.9 160.4L602.7 160.9L603.7 161L606.4 161Z" fill="#d5e8f8"/>
<path d="M602.7 159.9L598.9 160.4L602.7 160.9L603.7 161" fill="none" stroke="#3f8fd6" stroke-width="0.75" stroke-linejoin="round"/>
<line x1="606.27" y1="159.9" x2="606.27" y2="161" stroke="#3f8fd6" stroke-width="0.3" stroke-opacity="0.5"/>
<path d="M606.4 159.9L610.2 159.9L613.9 160.4L610.2 160.9L609.2 161L606.4 161Z" fill="#faefc2"/>
<path d="M610.2 159.9L613.9 160.4L610.2 160.9L609.2 161" fill="none" stroke="#efc63f" stroke-width="0.75" stroke-linejoin="round"/>
<line x1="606.57" y1="159.9" x2="606.57" y2="161" stroke="#efc63f" stroke-width="0.3" stroke-opacity="0.5"/>
<path d="M623.5 113.9L622.9 113.9L622.8 123.9L621.1 130.4L616.7 139.9L616 142.9L616.1 145.4L616.8 147.9L621.6 156.9L622.9 161.4L622.9 166.7L623.5 166.7Z" fill="#d5e8f8"/>
<path d="M622.9 113.9L622.8 123.9L621.1 130.4L616.7 139.9L616 142.9L616.1 145.4L616.8 147.9L621.6 156.9L622.9 161.4L622.9 166.7" fill="none" stroke="#3f8fd6" stroke-width="0.75" stroke-linejoin="round"/>
<line x1="623.3" y1="113.9" x2="623.3" y2="166.7" stroke="#3f8fd6" stroke-width="0.3" stroke-opacity="0.5"/>
<path d="M623.5 107.9L624 107.9L630.8 138.4L630.9 142.4L629.9 145.9L625.2 156.4L624 161.4L624 163.7L623.5 163.7Z" fill="#faefc2"/>
<path d="M624 107.9L630.8 138.4L630.9 142.4L629.9 145.9L625.2 156.4L624 161.4L624 163.7" fill="none" stroke="#efc63f" stroke-width="0.75" stroke-linejoin="round"/>
<line x1="623.6" y1="107.9" x2="623.6" y2="163.7" stroke="#efc63f" stroke-width="0.3" stroke-opacity="0.5"/>
<path d="M640.5 80.7L639.9 80.7L633 131.2L634.3 141.7L639.6 164.2L639.9 172.7L640.5 172.7Z" fill="#d5e8f8"/>
<path d="M639.9 80.7L633 131.2L634.3 141.7L639.6 164.2L639.9 172.7" fill="none" stroke="#3f8fd6" stroke-width="0.75" stroke-linejoin="round"/>
<line x1="640.33" y1="80.7" x2="640.33" y2="172.7" stroke="#3f8fd6" stroke-width="0.3" stroke-opacity="0.5"/>
<path d="M640.5 88.3L641 88.3L647.6 127.3L646.2 140.3L641 166.7L640.5 166.7Z" fill="#faefc2"/>
<path d="M641 88.3L647.6 127.3L646.2 140.3L641 166.7" fill="none" stroke="#efc63f" stroke-width="0.75" stroke-linejoin="round"/>
<line x1="640.63" y1="88.3" x2="640.63" y2="166.7" stroke="#efc63f" stroke-width="0.3" stroke-opacity="0.5"/>
<path d="M657.5 159.9L653.8 159.9L650.8 160.4L654.7 160.8L657.5 160.8Z" fill="#d5e8f8"/>
<path d="M653.8 159.9L650.8 160.4L654.7 160.8" fill="none" stroke="#3f8fd6" stroke-width="0.75" stroke-linejoin="round"/>
<line x1="657.36" y1="159.9" x2="657.36" y2="160.8" stroke="#3f8fd6" stroke-width="0.3" stroke-opacity="0.5"/>
<path d="M657.5 159.9L661.1 159.9L664 160.4L660.2 160.8L657.5 160.8Z" fill="#faefc2"/>
<path d="M661.1 159.9L664 160.4L660.2 160.8" fill="none" stroke="#efc63f" stroke-width="0.75" stroke-linejoin="round"/>
<line x1="657.66" y1="159.9" x2="657.66" y2="160.8" stroke="#efc63f" stroke-width="0.3" stroke-opacity="0.5"/>
<path d="M674.5 138L674 138L674 149L673.4 150L672.5 151L671.3 152L668.5 154L668 154.5L667.5 155L667.2 155.5L667 156L667.1 156.5L667.5 157L668 157.5L672 160L673.2 161L673.9 162L674 164.4L674.5 164.4Z" fill="#d5e8f8"/>
<path d="M674 138L674 149L673.4 150L672.5 151L671.3 152L668.5 154L668 154.5L667.5 155L667.2 155.5L667 156L667.1 156.5L667.5 157L668 157.5L672 160L673.2 161L673.9 162L674 164.4" fill="none" stroke="#3f8fd6" stroke-width="0.75" stroke-linejoin="round"/>
<line x1="674.39" y1="138" x2="674.39" y2="164.4" stroke="#3f8fd6" stroke-width="0.3" stroke-opacity="0.5"/>
<path d="M674.5 125.2L675.1 125.2L675.1 147.2L675.4 148.2L676.4 149.7L677.8 151.2L680.7 153.7L681.6 154.7L682 155.7L682 156.2L681.9 156.7L681.6 157.2L680.6 158.2L677.3 160.7L676.2 161.7L675.5 162.7L675.2 163.2L675.1 163.7L674.5 163.7Z" fill="#faefc2"/>
<path d="M675.1 125.2L675.1 147.2L675.4 148.2L676.4 149.7L677.8 151.2L680.7 153.7L681.6 154.7L682 155.7L682 156.2L681.9 156.7L681.6 157.2L680.6 158.2L677.3 160.7L676.2 161.7L675.5 162.7L675.2 163.2L675.1 163.7" fill="none" stroke="#efc63f" stroke-width="0.75" stroke-linejoin="round"/>
<line x1="674.69" y1="125.2" x2="674.69" y2="163.7" stroke="#efc63f" stroke-width="0.3" stroke-opacity="0.5"/>
<line x1="25.6" y1="126.8" x2="25.6" y2="150.6" stroke="#000" stroke-width="1.15" stroke-opacity="0.9"/>
<circle cx="25.6" cy="138.7" r="1.4" fill="#000"/>
<line x1="28.8" y1="127.1" x2="28.8" y2="150.3" stroke="#000" stroke-width="1.15" stroke-opacity="0.9"/>
<circle cx="28.8" cy="138.7" r="1.4" fill="#000"/>
<line x1="42.63" y1="136.1" x2="42.63" y2="159.7" stroke="#000" stroke-width="1.15" stroke-opacity="0.9"/>
<circle cx="42.63" cy="147.9" r="1.4" fill="#000"/>
<line x1="45.83" y1="144.4" x2="45.83" y2="159" stroke="#000" stroke-width="1.15" stroke-opacity="0.9"/>
<circle cx="45.83" cy="151.7" r="1.4" fill="#000"/>
<line x1="59.66" y1="135.3" x2="59.66" y2="154.1" stroke="#000" stroke-width="1.15" stroke-opacity="0.9"/>
<circle cx="59.66" cy="144.7" r="1.4" fill="#000"/>
<line x1="62.86" y1="133.6" x2="62.86" y2="152.4" stroke="#000" stroke-width="1.15" stroke-opacity="0.9"/>
<circle cx="62.86" cy="143" r="1.4" fill="#000"/>
<line x1="76.69" y1="137.7" x2="76.69" y2="152.7" stroke="#000" stroke-width="1.15" stroke-opacity="0.9"/>
<circle cx="76.69" cy="145.2" r="1.4" fill="#000"/>
<line x1="79.89" y1="134.8" x2="79.89" y2="149.8" stroke="#000" stroke-width="1.15" stroke-opacity="0.9"/>
<circle cx="79.89" cy="142.3" r="1.4" fill="#000"/>
<line x1="93.72" y1="144.8" x2="93.72" y2="157.8" stroke="#000" stroke-width="1.15" stroke-opacity="0.9"/>
<circle cx="93.72" cy="151.3" r="1.4" fill="#000"/>
<line x1="96.92" y1="144.1" x2="96.92" y2="157.1" stroke="#000" stroke-width="1.15" stroke-opacity="0.9"/>
<circle cx="96.92" cy="150.6" r="1.4" fill="#000"/>
<line x1="110.75" y1="140.8" x2="110.75" y2="156.4" stroke="#000" stroke-width="1.15" stroke-opacity="0.9"/>
<circle cx="110.75" cy="148.6" r="1.4" fill="#000"/>
<line x1="113.95" y1="138.8" x2="113.95" y2="156.6" stroke="#000" stroke-width="1.15" stroke-opacity="0.9"/>
<circle cx="113.95" cy="147.7" r="1.4" fill="#000"/>
<line x1="127.78" y1="133.3" x2="127.78" y2="152.7" stroke="#000" stroke-width="1.15" stroke-opacity="0.9"/>
<circle cx="127.78" cy="143" r="1.4" fill="#000"/>
<line x1="130.98" y1="132.3" x2="130.98" y2="151.7" stroke="#000" stroke-width="1.15" stroke-opacity="0.9"/>
<circle cx="130.98" cy="142" r="1.4" fill="#000"/>
<line x1="144.81" y1="153.1" x2="144.81" y2="159.5" stroke="#000" stroke-width="1.15" stroke-opacity="0.9"/>
<circle cx="144.81" cy="156.3" r="1.4" fill="#000"/>
<line x1="148.01" y1="150.1" x2="148.01" y2="159.7" stroke="#000" stroke-width="1.15" stroke-opacity="0.9"/>
<circle cx="148.01" cy="154.9" r="1.4" fill="#000"/>
<line x1="161.84" y1="126.9" x2="161.84" y2="146.9" stroke="#000" stroke-width="1.15" stroke-opacity="0.9"/>
<circle cx="161.84" cy="136.9" r="1.4" fill="#000"/>
<line x1="165.04" y1="124.2" x2="165.04" y2="143.6" stroke="#000" stroke-width="1.15" stroke-opacity="0.9"/>
<circle cx="165.04" cy="133.9" r="1.4" fill="#000"/>
<line x1="178.87" y1="140.6" x2="178.87" y2="156.2" stroke="#000" stroke-width="1.15" stroke-opacity="0.9"/>
<circle cx="178.87" cy="148.4" r="1.4" fill="#000"/>
<line x1="182.07" y1="135.5" x2="182.07" y2="154.3" stroke="#000" stroke-width="1.15" stroke-opacity="0.9"/>
<circle cx="182.07" cy="144.9" r="1.4" fill="#000"/>
<circle cx="195.9" cy="159.7" r="1.4" fill="#000"/>
<circle cx="199.1" cy="159.7" r="1.4" fill="#000"/>
<line x1="212.93" y1="124.4" x2="212.93" y2="149.8" stroke="#000" stroke-width="1.15" stroke-opacity="0.9"/>
<circle cx="212.93" cy="137.1" r="1.4" fill="#000"/>
<line x1="216.13" y1="124" x2="216.13" y2="152" stroke="#000" stroke-width="1.15" stroke-opacity="0.9"/>
<circle cx="216.13" cy="138" r="1.4" fill="#000"/>
<line x1="229.96" y1="137.8" x2="229.96" y2="158.2" stroke="#000" stroke-width="1.15" stroke-opacity="0.9"/>
<circle cx="229.96" cy="148" r="1.4" fill="#000"/>
<line x1="233.16" y1="138.6" x2="233.16" y2="159" stroke="#000" stroke-width="1.15" stroke-opacity="0.9"/>
<circle cx="233.16" cy="148.8" r="1.4" fill="#000"/>
<circle cx="246.99" cy="159.6" r="1.4" fill="#000"/>
<line x1="250.19" y1="156.8" x2="250.19" y2="161.8" stroke="#000" stroke-width="1.15" stroke-opacity="0.9"/>
<circle cx="250.19" cy="159.3" r="1.4" fill="#000"/>
<line x1="264.02" y1="116.3" x2="264.02" y2="147.5" stroke="#000" stroke-width="1.15" stroke-opacity="0.9"/>
<circle cx="264.02" cy="131.9" r="1.4" fill="#000"/>
<line x1="267.22" y1="111.5" x2="267.22" y2="141.5" stroke="#000" stroke-width="1.15" stroke-opacity="0.9"/>
<circle cx="267.22" cy="126.5" r="1.4" fill="#000"/>
<line x1="281.05" y1="110" x2="281.05" y2="145.6" stroke="#000" stroke-width="1.15" stroke-opacity="0.9"/>
<circle cx="281.05" cy="127.8" r="1.4" fill="#000"/>
<line x1="284.25" y1="104.6" x2="284.25" y2="138.6" stroke="#000" stroke-width="1.15" stroke-opacity="0.9"/>
<circle cx="284.25" cy="121.6" r="1.4" fill="#000"/>
<line x1="298.08" y1="146.5" x2="298.08" y2="157.3" stroke="#000" stroke-width="1.15" stroke-opacity="0.9"/>
<circle cx="298.08" cy="151.9" r="1.4" fill="#000"/>
<line x1="301.28" y1="147.4" x2="301.28" y2="157.6" stroke="#000" stroke-width="1.15" stroke-opacity="0.9"/>
<circle cx="301.28" cy="152.5" r="1.4" fill="#000"/>
<line x1="315.11" y1="152" x2="315.11" y2="159" stroke="#000" stroke-width="1.15" stroke-opacity="0.9"/>
<circle cx="315.11" cy="155.5" r="1.4" fill="#000"/>
<line x1="318.31" y1="149.1" x2="318.31" y2="158.1" stroke="#000" stroke-width="1.15" stroke-opacity="0.9"/>
<circle cx="318.31" cy="153.6" r="1.4" fill="#000"/>
<line x1="332.14" y1="80.9" x2="332.14" y2="114.5" stroke="#000" stroke-width="1.15" stroke-opacity="0.9"/>
<circle cx="332.14" cy="97.7" r="1.4" fill="#000"/>
<line x1="335.34" y1="81.6" x2="335.34" y2="119.2" stroke="#000" stroke-width="1.15" stroke-opacity="0.9"/>
<circle cx="335.34" cy="100.4" r="1.4" fill="#000"/>
<line x1="349.17" y1="145.6" x2="349.17" y2="156.4" stroke="#000" stroke-width="1.15" stroke-opacity="0.9"/>
<circle cx="349.17" cy="151" r="1.4" fill="#000"/>
<line x1="352.37" y1="144.9" x2="352.37" y2="156.3" stroke="#000" stroke-width="1.15" stroke-opacity="0.9"/>
<circle cx="352.37" cy="150.6" r="1.4" fill="#000"/>
<line x1="366.2" y1="122" x2="366.2" y2="146.8" stroke="#000" stroke-width="1.15" stroke-opacity="0.9"/>
<circle cx="366.2" cy="134.4" r="1.4" fill="#000"/>
<line x1="369.4" y1="118.3" x2="369.4" y2="142.1" stroke="#000" stroke-width="1.15" stroke-opacity="0.9"/>
<circle cx="369.4" cy="130.2" r="1.4" fill="#000"/>
<line x1="383.23" y1="118.5" x2="383.23" y2="130.3" stroke="#000" stroke-width="1.15" stroke-opacity="0.9"/>
<circle cx="383.23" cy="124.4" r="1.4" fill="#000"/>
<line x1="386.43" y1="118" x2="386.43" y2="129.8" stroke="#000" stroke-width="1.15" stroke-opacity="0.9"/>
<circle cx="386.43" cy="123.9" r="1.4" fill="#000"/>
<line x1="400.26" y1="143.4" x2="400.26" y2="158.6" stroke="#000" stroke-width="1.15" stroke-opacity="0.9"/>
<circle cx="400.26" cy="151" r="1.4" fill="#000"/>
<line x1="403.46" y1="143" x2="403.46" y2="158.2" stroke="#000" stroke-width="1.15" stroke-opacity="0.9"/>
<circle cx="403.46" cy="150.6" r="1.4" fill="#000"/>
<line x1="417.29" y1="140.9" x2="417.29" y2="159.5" stroke="#000" stroke-width="1.15" stroke-opacity="0.9"/>
<circle cx="417.29" cy="150.2" r="1.4" fill="#000"/>
<line x1="420.49" y1="141.3" x2="420.49" y2="159.9" stroke="#000" stroke-width="1.15" stroke-opacity="0.9"/>
<circle cx="420.49" cy="150.6" r="1.4" fill="#000"/>
<line x1="434.32" y1="108.7" x2="434.32" y2="136.7" stroke="#000" stroke-width="1.15" stroke-opacity="0.9"/>
<circle cx="434.32" cy="122.7" r="1.4" fill="#000"/>
<line x1="437.52" y1="108.4" x2="437.52" y2="137" stroke="#000" stroke-width="1.15" stroke-opacity="0.9"/>
<circle cx="437.52" cy="122.7" r="1.4" fill="#000"/>
<line x1="451.35" y1="100" x2="451.35" y2="138.4" stroke="#000" stroke-width="1.15" stroke-opacity="0.9"/>
<circle cx="451.35" cy="119.2" r="1.4" fill="#000"/>
<line x1="454.55" y1="92.1" x2="454.55" y2="132.1" stroke="#000" stroke-width="1.15" stroke-opacity="0.9"/>
<circle cx="454.55" cy="112.1" r="1.4" fill="#000"/>
<line x1="468.38" y1="117.7" x2="468.38" y2="153.9" stroke="#000" stroke-width="1.15" stroke-opacity="0.9"/>
<circle cx="468.38" cy="135.8" r="1.4" fill="#000"/>
<line x1="471.58" y1="112.4" x2="471.58" y2="149.6" stroke="#000" stroke-width="1.15" stroke-opacity="0.9"/>
<circle cx="471.58" cy="131" r="1.4" fill="#000"/>
<line x1="485.41" y1="108.2" x2="485.41" y2="138.4" stroke="#000" stroke-width="1.15" stroke-opacity="0.9"/>
<circle cx="485.41" cy="123.3" r="1.4" fill="#000"/>
<line x1="488.61" y1="112" x2="488.61" y2="139.4" stroke="#000" stroke-width="1.15" stroke-opacity="0.9"/>
<circle cx="488.61" cy="125.7" r="1.4" fill="#000"/>
<line x1="502.44" y1="138.8" x2="502.44" y2="156.8" stroke="#000" stroke-width="1.15" stroke-opacity="0.9"/>
<circle cx="502.44" cy="147.8" r="1.4" fill="#000"/>
<line x1="505.64" y1="138.5" x2="505.64" y2="156.5" stroke="#000" stroke-width="1.15" stroke-opacity="0.9"/>
<circle cx="505.64" cy="147.5" r="1.4" fill="#000"/>
<line x1="519.47" y1="129" x2="519.47" y2="153.8" stroke="#000" stroke-width="1.15" stroke-opacity="0.9"/>
<circle cx="519.47" cy="141.4" r="1.4" fill="#000"/>
<line x1="522.67" y1="122.1" x2="522.67" y2="151.5" stroke="#000" stroke-width="1.15" stroke-opacity="0.9"/>
<circle cx="522.67" cy="136.8" r="1.4" fill="#000"/>
<line x1="536.5" y1="134" x2="536.5" y2="153.6" stroke="#000" stroke-width="1.15" stroke-opacity="0.9"/>
<circle cx="536.5" cy="143.8" r="1.4" fill="#000"/>
<line x1="539.7" y1="132.7" x2="539.7" y2="153.1" stroke="#000" stroke-width="1.15" stroke-opacity="0.9"/>
<circle cx="539.7" cy="142.9" r="1.4" fill="#000"/>
<line x1="553.53" y1="117.7" x2="553.53" y2="150.9" stroke="#000" stroke-width="1.15" stroke-opacity="0.9"/>
<circle cx="553.53" cy="134.3" r="1.4" fill="#000"/>
<line x1="556.73" y1="115.5" x2="556.73" y2="147.7" stroke="#000" stroke-width="1.15" stroke-opacity="0.9"/>
<circle cx="556.73" cy="131.6" r="1.4" fill="#000"/>
<line x1="570.56" y1="109.3" x2="570.56" y2="134.1" stroke="#000" stroke-width="1.15" stroke-opacity="0.9"/>
<circle cx="570.56" cy="121.7" r="1.4" fill="#000"/>
<line x1="573.76" y1="106" x2="573.76" y2="130.8" stroke="#000" stroke-width="1.15" stroke-opacity="0.9"/>
<circle cx="573.76" cy="118.4" r="1.4" fill="#000"/>
<line x1="587.59" y1="155.6" x2="587.59" y2="159.6" stroke="#000" stroke-width="1.15" stroke-opacity="0.9"/>
<circle cx="587.59" cy="157.6" r="1.4" fill="#000"/>
<line x1="590.79" y1="154.8" x2="590.79" y2="159.8" stroke="#000" stroke-width="1.15" stroke-opacity="0.9"/>
<circle cx="590.79" cy="157.3" r="1.4" fill="#000"/>
<circle cx="604.62" cy="160.2" r="1.4" fill="#000"/>
<circle cx="607.82" cy="160.2" r="1.4" fill="#000"/>
<line x1="621.65" y1="135.8" x2="621.65" y2="150.8" stroke="#000" stroke-width="1.15" stroke-opacity="0.9"/>
<circle cx="621.65" cy="143.3" r="1.4" fill="#000"/>
<line x1="624.85" y1="132.1" x2="624.85" y2="149.5" stroke="#000" stroke-width="1.15" stroke-opacity="0.9"/>
<circle cx="624.85" cy="140.8" r="1.4" fill="#000"/>
<line x1="638.68" y1="118.3" x2="638.68" y2="146.3" stroke="#000" stroke-width="1.15" stroke-opacity="0.9"/>
<circle cx="638.68" cy="132.3" r="1.4" fill="#000"/>
<line x1="641.88" y1="116.9" x2="641.88" y2="142.5" stroke="#000" stroke-width="1.15" stroke-opacity="0.9"/>
<circle cx="641.88" cy="129.7" r="1.4" fill="#000"/>
<circle cx="655.71" cy="160.2" r="1.4" fill="#000"/>
<circle cx="658.91" cy="160.2" r="1.4" fill="#000"/>
<line x1="672.74" y1="150.8" x2="672.74" y2="159" stroke="#000" stroke-width="1.15" stroke-opacity="0.9"/>
<circle cx="672.74" cy="154.9" r="1.4" fill="#000"/>
<line x1="675.94" y1="147.8" x2="675.94" y2="158.4" stroke="#000" stroke-width="1.15" stroke-opacity="0.9"/>
<circle cx="675.94" cy="153.1" r="1.4" fill="#000"/>
<ellipse cx="44.43" cy="54.6" rx="0.95" ry="0.855" fill="#262626"/>
<ellipse cx="76.39" cy="54.6" rx="0.95" ry="0.855" fill="#262626"/>
<ellipse cx="78.49" cy="54.6" rx="0.95" ry="0.855" fill="#262626"/>
<ellipse cx="80.59" cy="54.6" rx="0.95" ry="0.855" fill="#262626"/>
<ellipse cx="145.56" cy="54.6" rx="0.95" ry="0.855" fill="#262626"/>
<ellipse cx="147.66" cy="54.6" rx="0.95" ry="0.855" fill="#262626"/>
<ellipse cx="162.59" cy="54.6" rx="0.95" ry="0.855" fill="#262626"/>
<ellipse cx="164.69" cy="54.6" rx="0.95" ry="0.855" fill="#262626"/>
<ellipse cx="178.57" cy="54.6" rx="0.95" ry="0.855" fill="#262626"/>
<ellipse cx="180.67" cy="54.6" rx="0.95" ry="0.855" fill="#262626"/>
<ellipse cx="182.77" cy="54.6" rx="0.95" ry="0.855" fill="#262626"/>
<ellipse cx="197.7" cy="54.6" rx="0.95" ry="0.855" fill="#262626"/>
<ellipse cx="264.77" cy="54.6" rx="0.95" ry="0.855" fill="#262626"/>
<ellipse cx="266.87" cy="54.6" rx="0.95" ry="0.855" fill="#262626"/>
<ellipse cx="281.8" cy="54.6" rx="0.95" ry="0.855" fill="#262626"/>
<ellipse cx="283.9" cy="54.6" rx="0.95" ry="0.855" fill="#262626"/>
<ellipse cx="314.81" cy="54.6" rx="0.95" ry="0.855" fill="#262626"/>
<ellipse cx="316.91" cy="54.6" rx="0.95" ry="0.855" fill="#262626"/>
<ellipse cx="319.01" cy="54.6" rx="0.95" ry="0.855" fill="#262626"/>
<ellipse cx="366.95" cy="54.6" rx="0.95" ry="0.855" fill="#262626"/>
<ellipse cx="369.05" cy="54.6" rx="0.95" ry="0.855" fill="#262626"/>
<ellipse cx="451.05" cy="54.6" rx="0.95" ry="0.855" fill="#262626"/>
<ellipse cx="453.15" cy="54.6" rx="0.95" ry="0.855" fill="#262626"/>
<ellipse cx="455.25" cy="54.6" rx="0.95" ry="0.855" fill="#262626"/>
<ellipse cx="470.18" cy="54.6" rx="0.95" ry="0.855" fill="#262626"/>
<ellipse cx="520.22" cy="54.6" rx="0.95" ry="0.855" fill="#262626"/>
<ellipse cx="522.32" cy="54.6" rx="0.95" ry="0.855" fill="#262626"/>
<ellipse cx="571.31" cy="54.6" rx="0.95" ry="0.855" fill="#262626"/>
<ellipse cx="573.41" cy="54.6" rx="0.95" ry="0.855" fill="#262626"/>
<ellipse cx="589.39" cy="54.6" rx="0.95" ry="0.855" fill="#262626"/>
<ellipse cx="605.37" cy="54.6" rx="0.95" ry="0.855" fill="#262626"/>
<ellipse cx="607.47" cy="54.6" rx="0.95" ry="0.855" fill="#262626"/>
<ellipse cx="623.45" cy="54.6" rx="0.95" ry="0.855" fill="#262626"/>
<ellipse cx="657.51" cy="54.6" rx="0.95" ry="0.855" fill="#262626"/>
<line x1="27.4" y1="185.4" x2="27.4" y2="187.2" stroke="#777" stroke-width="0.7"/>
<line x1="44.43" y1="185.4" x2="44.43" y2="187.2" stroke="#777" stroke-width="0.7"/>
<line x1="61.46" y1="185.4" x2="61.46" y2="187.2" stroke="#777" stroke-width="0.7"/>
<line x1="78.49" y1="185.4" x2="78.49" y2="187.2" stroke="#777" stroke-width="0.7"/>
<line x1="95.52" y1="185.4" x2="95.52" y2="187.2" stroke="#777" stroke-width="0.7"/>
<line x1="112.55" y1="185.4" x2="112.55" y2="187.2" stroke="#777" stroke-width="0.7"/>
<line x1="129.58" y1="185.4" x2="129.58" y2="187.2" stroke="#777" stroke-width="0.7"/>
<line x1="146.61" y1="185.4" x2="146.61" y2="187.2" stroke="#777" stroke-width="0.7"/>
<line x1="163.64" y1="185.4" x2="163.64" y2="187.2" stroke="#777" stroke-width="0.7"/>
<line x1="180.67" y1="185.4" x2="180.67" y2="187.2" stroke="#777" stroke-width="0.7"/>
<line x1="197.7" y1="185.4" x2="197.7" y2="187.2" stroke="#777" stroke-width="0.7"/>
<line x1="214.73" y1="185.4" x2="214.73" y2="187.2" stroke="#777" stroke-width="0.7"/>
<line x1="231.76" y1="185.4" x2="231.76" y2="187.2" stroke="#777" stroke-width="0.7"/>
<line x1="248.79" y1="185.4" x2="248.79" y2="187.2" stroke="#777" stroke-width="0.7"/>
<line x1="265.82" y1="185.4" x2="265.82" y2="187.2" stroke="#777" stroke-width="0.7"/>
<line x1="282.85" y1="185.4" x2="282.85" y2="187.2" stroke="#777" stroke-width="0.7"/>
<line x1="299.88" y1="185.4" x2="299.88" y2="187.2" stroke="#777" stroke-width="0.7"/>
<line x1="316.91" y1="185.4" x2="316.91" y2="187.2" stroke="#777" stroke-width="0.7"/>
<line x1="333.94" y1="185.4" x2="333.94" y2="187.2" stroke="#777" stroke-width="0.7"/>
<line x1="350.97" y1="185.4" x2="350.97" y2="187.2" stroke="#777" stroke-width="0.7"/>
<line x1="368" y1="185.4" x2="368" y2="187.2" stroke="#777" stroke-width="0.7"/>
<line x1="385.03" y1="185.4" x2="385.03" y2="187.2" stroke="#777" stroke-width="0.7"/>
<line x1="402.06" y1="185.4" x2="402.06" y2="187.2" stroke="#777" stroke-width="0.7"/>
<line x1="419.09" y1="185.4" x2="419.09" y2="187.2" stroke="#777" stroke-width="0.7"/>
<line x1="436.12" y1="185.4" x2="436.12" y2="187.2" stroke="#777" stroke-width="0.7"/>
<line x1="453.15" y1="185.4" x2="453.15" y2="187.2" stroke="#777" stroke-width="0.7"/>
<line x1="470.18" y1="185.4" x2="470.18" y2="187.2" stroke="#777" stroke-width="0.7"/>
<line x1="487.21" y1="185.4" x2="487.21" y2="187.2" stroke="#777" stroke-width="0.7"/>
<line x1="504.24" y1="185.4" x2="504.24" y2="187.2" stroke="#777" stroke-width="0.7"/>
<line x1="521.27" y1="185.4" x2="521.27" y2="187.2" stroke="#777" stroke-width="0.7"/>
<line x1="538.3" y1="185.4" x2="538.3" y2="187.2" stroke="#777" stroke-width="0.7"/>
<line x1="555.33" y1="185.4" x2="555.33" y2="187.2" stroke="#777" stroke-width="0.7"/>
<line x1="572.36" y1="185.4" x2="572.36" y2="187.2" stroke="#777" stroke-width="0.7"/>
<line x1="589.39" y1="185.4" x2="589.39" y2="187.2" stroke="#777" stroke-width="0.7"/>
<line x1="606.42" y1="185.4" x2="606.42" y2="187.2" stroke="#777" stroke-width="0.7"/>
<line x1="623.45" y1="185.4" x2="623.45" y2="187.2" stroke="#777" stroke-width="0.7"/>
<line x1="640.48" y1="185.4" x2="640.48" y2="187.2" stroke="#777" stroke-width="0.7"/>
<line x1="657.51" y1="185.4" x2="657.51" y2="187.2" stroke="#777" stroke-width="0.7"/>
<line x1="674.54" y1="185.4" x2="674.54" y2="187.2" stroke="#777" stroke-width="0.7"/>
<line x1="317.4" y1="225.9" x2="317.4" y2="240.3" stroke="#3c7cc8" stroke-width="1.1"/>
<rect x="309.5" y="228.6" width="15.8" height="9" fill="#dce9f7" stroke="#3c7cc8" stroke-width="1.1"/>
<line x1="309.5" y1="233.1" x2="325.3" y2="233.1" stroke="#3c7cc8" stroke-width="1.1"/>
<line x1="372.9" y1="225.9" x2="372.9" y2="240.3" stroke="#e8c244" stroke-width="1.1"/>
<rect x="365" y="228.6" width="15.8" height="9" fill="#f9efc0" stroke="#e8c244" stroke-width="1.1"/>
<line x1="365" y1="233.1" x2="380.8" y2="233.1" stroke="#e8c244" stroke-width="1.1"/>
<line x1="95.5" y1="247.2" x2="617.7" y2="247.2" stroke="#d2d2d2" stroke-width="1.1"/>
<line x1="96" y1="247.2" x2="96" y2="384.2" stroke="#c2c2c2" stroke-width="1.1"/>
<line x1="617.2" y1="247.2" x2="617.2" y2="384.2" stroke="#bcbcbc" stroke-width="1.1"/>
<line x1="95.5" y1="384.2" x2="617.7" y2="384.2" stroke="#7c7c7c" stroke-width="1.0"/>
<line x1="94.2" y1="360" x2="96" y2="360" stroke="#777" stroke-width="0.7"/>
<line x1="94.2" y1="333.3" x2="96" y2="333.3" stroke="#777" stroke-width="0.7"/>
<line x1="94.2" y1="306.6" x2="96" y2="306.6" stroke="#777" stroke-width="0.7"/>
<line x1="94.2" y1="279.9" x2="96" y2="279.9" stroke="#777" stroke-width="0.7"/>
<line x1="94.2" y1="253.2" x2="96" y2="253.2" stroke="#777" stroke-width="0.7"/>
<path d="M109.3 306.2L108.8 306.2L108.7 328.2L103.3 347.7L103.1 351.2L103.7 353.7L107.8 362.2L108.7 365.7L108.8 368.1L109.3 368.1Z" fill="#d5e8f8"/>
<path d="M108.8 306.2L108.7 328.2L103.3 347.7L103.1 351.2L103.7 353.7L107.8 362.2L108.7 365.7L108.8 368.1" fill="none" stroke="#3f8fd6" stroke-width="0.6" stroke-linejoin="round"/>
<line x1="109.15" y1="306.2" x2="109.15" y2="368.1" stroke="#3f8fd6" stroke-width="0.3" stroke-opacity="0.5"/>
<path d="M109.3 286.7L109.8 286.7L110.3 319.2L115.8 344.7L116 348.7L115.3 351.7L110.9 361.7L109.9 365.7L109.8 371.5L109.3 371.5Z" fill="#faefc2"/>
<path d="M109.8 286.7L110.3 319.2L115.8 344.7L116 348.7L115.3 351.7L110.9 361.7L109.9 365.7L109.8 371.5" fill="none" stroke="#efc63f" stroke-width="0.6" stroke-linejoin="round"/>
<line x1="109.45" y1="286.7" x2="109.45" y2="371.5" stroke="#efc63f" stroke-width="0.3" stroke-opacity="0.5"/>
<path d="M131.8 275.2L131.2 275.2L131.2 289.2L130.3 291.7L126.6 297.7L126 299.2L126 300.7L126.4 302.2L130.3 308.7L131.2 311.2L131.2 334.5L131.8 334.5Z" fill="#d5e8f8"/>
<path d="M131.2 275.2L131.2 289.2L130.3 291.7L126.6 297.7L126 299.2L126 300.7L126.4 302.2L130.3 308.7L131.2 311.2L131.2 334.5" fill="none" stroke="#3f8fd6" stroke-width="0.6" stroke-linejoin="round"/>
<line x1="131.61" y1="275.2" x2="131.61" y2="334.5" stroke="#3f8fd6" stroke-width="0.3" stroke-opacity="0.5"/>
<path d="M131.8 281.3L132.3 281.3L132.3 284.3L133.6 288.8L137.2 296.3L137.8 298.8L137.7 300.8L136.8 303.8L133.3 310.8L132.3 314.3L132.3 330.4L131.8 330.4Z" fill="#faefc2"/>
<path d="M132.3 281.3L132.3 284.3L133.6 288.8L137.2 296.3L137.8 298.8L137.7 300.8L136.8 303.8L133.3 310.8L132.3 314.3L132.3 330.4" fill="none" stroke="#efc63f" stroke-width="0.6" stroke-linejoin="round"/>
<line x1="131.91" y1="281.3" x2="131.91" y2="330.4" stroke="#efc63f" stroke-width="0.3" stroke-opacity="0.5"/>
<path d="M154.2 296.1L153.7 296.1L153.7 307.1L152.5 310.6L148.9 317.1L148.4 319.1L148.4 320.6L149 322.6L152.7 329.1L153.7 332.1L153.7 341.2L154.2 341.2Z" fill="#d5e8f8"/>
<path d="M153.7 296.1L153.7 307.1L152.5 310.6L148.9 317.1L148.4 319.1L148.4 320.6L149 322.6L152.7 329.1L153.7 332.1L153.7 341.2" fill="none" stroke="#3f8fd6" stroke-width="0.6" stroke-linejoin="round"/>
<line x1="154.07" y1="296.1" x2="154.07" y2="341.2" stroke="#3f8fd6" stroke-width="0.3" stroke-opacity="0.5"/>
<path d="M154.2 290L154.8 290L154.8 302L156.4 308L160 316.5L160.4 319.5L160.3 321L159.5 323L155.9 329L154.8 332L154.8 344.6L154.2 344.6Z" fill="#faefc2"/>
<path d="M154.8 290L154.8 302L156.4 308L160 316.5L160.4 319.5L160.3 321L159.5 323L155.9 329L154.8 332L154.8 344.6" fill="none" stroke="#efc63f" stroke-width="0.6" stroke-linejoin="round"/>
<line x1="154.37" y1="290" x2="154.37" y2="344.6" stroke="#efc63f" stroke-width="0.3" stroke-opacity="0.5"/>
<path d="M176.7 354.7L176.1 354.7L176.1 357.7L174.7 358.2L171.8 358.7L170.7 359.2L173 359.7L175.6 360.2L175.9 360.3L176.7 360.3Z" fill="#d5e8f8"/>
<path d="M176.1 354.7L176.1 357.7L174.7 358.2L171.8 358.7L170.7 359.2L173 359.7L175.6 360.2L175.9 360.3" fill="none" stroke="#3f8fd6" stroke-width="0.6" stroke-linejoin="round"/>
<line x1="176.53" y1="354.7" x2="176.53" y2="360.3" stroke="#3f8fd6" stroke-width="0.3" stroke-opacity="0.5"/>
<path d="M176.7 351.3L177.2 351.3L177.2 357.8L179.1 358.3L182.1 358.8L182.4 359.3L179.7 359.8L177.5 360.3L176.7 360.3Z" fill="#faefc2"/>
<path d="M177.2 351.3L177.2 357.8L179.1 358.3L182.1 358.8L182.4 359.3L179.7 359.8L177.5 360.3" fill="none" stroke="#efc63f" stroke-width="0.6" stroke-linejoin="round"/>
<line x1="176.83" y1="351.3" x2="176.83" y2="360.3" stroke="#efc63f" stroke-width="0.3" stroke-opacity="0.5"/>
<path d="M199.1 299.5L198.6 299.5L198.4 320.5L193.4 341L193.3 345.5L198.3 362L198.6 368.8L199.1 368.8Z" fill="#d5e8f8"/>
<path d="M198.6 299.5L198.4 320.5L193.4 341L193.3 345.5L198.3 362L198.6 368.8" fill="none" stroke="#3f8fd6" stroke-width="0.6" stroke-linejoin="round"/>
<line x1="198.99" y1="299.5" x2="198.99" y2="368.8" stroke="#3f8fd6" stroke-width="0.3" stroke-opacity="0.5"/>
<path d="M199.1 290.7L199.7 290.7L200.9 313.2L205.2 335.2L205.1 341.7L199.9 362.2L199.7 368.8L199.1 368.8Z" fill="#faefc2"/>
<path d="M199.7 290.7L200.9 313.2L205.2 335.2L205.1 341.7L199.9 362.2L199.7 368.8" fill="none" stroke="#efc63f" stroke-width="0.6" stroke-linejoin="round"/>
<line x1="199.29" y1="290.7" x2="199.29" y2="368.8" stroke="#efc63f" stroke-width="0.3" stroke-opacity="0.5"/>
<path d="M221.6 336.5L221.1 336.5L221.1 351L220.5 352L219.7 353L216.7 355.5L216.2 356L215.8 356.5L215.6 357L215.5 357.5L215.7 358L216.2 358.5L219.2 360.5L219.8 361L220.4 361.5L220.8 362L221.1 362.5L221.1 362.8L221.6 362.8Z" fill="#d5e8f8"/>
<path d="M221.1 336.5L221.1 351L220.5 352L219.7 353L216.7 355.5L216.2 356L215.8 356.5L215.6 357L215.5 357.5L215.7 358L216.2 358.5L219.2 360.5L219.8 361L220.4 361.5L220.8 362L221.1 362.5L221.1 362.8" fill="none" stroke="#3f8fd6" stroke-width="0.6" stroke-linejoin="round"/>
<line x1="221.45" y1="336.5" x2="221.45" y2="362.8" stroke="#3f8fd6" stroke-width="0.3" stroke-opacity="0.5"/>
<path d="M221.6 331.1L222.2 331.1L222.2 343.6L223.2 346.6L227.1 353.1L227.7 354.6L227.9 356.1L227.8 356.6L227.3 357.6L223.8 361.1L222.6 362.6L222.3 363.4L221.6 363.4Z" fill="#faefc2"/>
<path d="M222.2 331.1L222.2 343.6L223.2 346.6L227.1 353.1L227.7 354.6L227.9 356.1L227.8 356.6L227.3 357.6L223.8 361.1L222.6 362.6L222.3 363.4" fill="none" stroke="#efc63f" stroke-width="0.6" stroke-linejoin="round"/>
<line x1="221.75" y1="331.1" x2="221.75" y2="363.4" stroke="#efc63f" stroke-width="0.3" stroke-opacity="0.5"/>
<path d="M244.1 352L243.5 352L243.5 358.5L243.1 359L239.6 359.5L239 360L242.6 360.5L243.5 360.7L244.1 360.7Z" fill="#d5e8f8"/>
<path d="M243.5 352L243.5 358.5L243.1 359L239.6 359.5L239 360L242.6 360.5L243.5 360.7" fill="none" stroke="#3f8fd6" stroke-width="0.6" stroke-linejoin="round"/>
<line x1="243.91" y1="352" x2="243.91" y2="360.7" stroke="#3f8fd6" stroke-width="0.3" stroke-opacity="0.5"/>
<path d="M244.1 350L244.6 350L244.6 358.5L245 359L248.6 359.5L249.3 360L245.6 360.5L244.7 360.7L244.1 360.7Z" fill="#faefc2"/>
<path d="M244.6 350L244.6 358.5L245 359L248.6 359.5L249.3 360L245.6 360.5L244.7 360.7" fill="none" stroke="#efc63f" stroke-width="0.6" stroke-linejoin="round"/>
<line x1="244.21" y1="350" x2="244.21" y2="360.7" stroke="#efc63f" stroke-width="0.3" stroke-opacity="0.5"/>
<path d="M266.5 313.6L266 313.6L265.9 326.6L263.6 335.1L260.7 343.1L260.2 346.6L260.5 348.6L265.1 358.6L265.9 361.6L266 365.5L266.5 365.5Z" fill="#d5e8f8"/>
<path d="M266 313.6L265.9 326.6L263.6 335.1L260.7 343.1L260.2 346.6L260.5 348.6L265.1 358.6L265.9 361.6L266 365.5" fill="none" stroke="#3f8fd6" stroke-width="0.6" stroke-linejoin="round"/>
<line x1="266.37" y1="313.6" x2="266.37" y2="365.5" stroke="#3f8fd6" stroke-width="0.3" stroke-opacity="0.5"/>
<path d="M266.5 306.2L267.1 306.2L267.1 318.7L272.4 335.7L272.7 340.2L267.2 362.7L267.1 366.8L266.5 366.8Z" fill="#faefc2"/>
<path d="M267.1 306.2L267.1 318.7L272.4 335.7L272.7 340.2L267.2 362.7L267.1 366.8" fill="none" stroke="#efc63f" stroke-width="0.6" stroke-linejoin="round"/>
<line x1="266.67" y1="306.2" x2="266.67" y2="366.8" stroke="#efc63f" stroke-width="0.3" stroke-opacity="0.5"/>
<path d="M289 358.7L288.4 358.7L287.8 359.2L283.7 359.7L286.2 360.2L288.4 360.7L289 360.7Z" fill="#d5e8f8"/>
<path d="M288.4 358.7L287.8 359.2L283.7 359.7L286.2 360.2L288.4 360.7" fill="none" stroke="#3f8fd6" stroke-width="0.6" stroke-linejoin="round"/>
<line x1="288.83" y1="358.7" x2="288.83" y2="360.7" stroke="#3f8fd6" stroke-width="0.3" stroke-opacity="0.5"/>
<path d="M289 357.4L289.5 357.4L289.5 358.9L291.8 359.4L294.4 359.9L290.2 360.4L289.5 360.7L289 360.7Z" fill="#faefc2"/>
<path d="M289.5 357.4L289.5 358.9L291.8 359.4L294.4 359.9L290.2 360.4L289.5 360.7" fill="none" stroke="#efc63f" stroke-width="0.6" stroke-linejoin="round"/>
<line x1="289.13" y1="357.4" x2="289.13" y2="360.7" stroke="#efc63f" stroke-width="0.3" stroke-opacity="0.5"/>
<path d="M311.4 260.8L310.9 260.8L310 317.3L305.5 345.3L305.7 350.8L310.6 367.8L310.9 377.7L311.4 377.7Z" fill="#d5e8f8"/>
<path d="M310.9 260.8L310 317.3L305.5 345.3L305.7 350.8L310.6 367.8L310.9 377.7" fill="none" stroke="#3f8fd6" stroke-width="0.6" stroke-linejoin="round"/>
<line x1="311.29" y1="260.8" x2="311.29" y2="377.7" stroke="#3f8fd6" stroke-width="0.3" stroke-opacity="0.5"/>
<path d="M311.4 253.3L312 253.3L317.9 340.3L312 369.8L312 378.5L311.4 378.5Z" fill="#faefc2"/>
<path d="M312 253.3L317.9 340.3L312 369.8L312 378.5" fill="none" stroke="#efc63f" stroke-width="0.6" stroke-linejoin="round"/>
<line x1="311.59" y1="253.3" x2="311.59" y2="378.5" stroke="#efc63f" stroke-width="0.3" stroke-opacity="0.5"/>
<path d="M333.9 276.7L333.4 276.7L333.4 349.7L332.7 351.2L331.7 352.7L329 355.7L328.3 356.7L327.9 357.7L328 358.7L328.4 359.7L332.2 364.2L333.1 365.7L333.4 366.7L333.4 368.7L333.9 368.7Z" fill="#d5e8f8"/>
<path d="M333.4 276.7L333.4 349.7L332.7 351.2L331.7 352.7L329 355.7L328.3 356.7L327.9 357.7L328 358.7L328.4 359.7L332.2 364.2L333.1 365.7L333.4 366.7L333.4 368.7" fill="none" stroke="#3f8fd6" stroke-width="0.6" stroke-linejoin="round"/>
<line x1="333.75" y1="276.7" x2="333.75" y2="368.7" stroke="#3f8fd6" stroke-width="0.3" stroke-opacity="0.5"/>
<path d="M333.9 296.3L334.5 296.3L334.5 348.8L334.9 350.3L335.9 352.3L339 356.3L339.7 357.8L339.9 358.8L339.9 359.3L339.7 359.8L338.9 360.8L336.2 363.3L335.3 364.3L334.5 365.7L333.9 365.7Z" fill="#faefc2"/>
<path d="M334.5 296.3L334.5 348.8L334.9 350.3L335.9 352.3L339 356.3L339.7 357.8L339.9 358.8L339.9 359.3L339.7 359.8L338.9 360.8L336.2 363.3L335.3 364.3L334.5 365.7" fill="none" stroke="#efc63f" stroke-width="0.6" stroke-linejoin="round"/>
<line x1="334.05" y1="296.3" x2="334.05" y2="365.7" stroke="#efc63f" stroke-width="0.3" stroke-opacity="0.5"/>
<path d="M356.4 303.1L355.8 303.1L355.8 318.1L353.4 327.6L350.5 335.6L350.1 339.6L350.8 344.1L355.2 357.1L355.8 360.6L355.8 367.2L356.4 367.2Z" fill="#d5e8f8"/>
<path d="M355.8 303.1L355.8 318.1L353.4 327.6L350.5 335.6L350.1 339.6L350.8 344.1L355.2 357.1L355.8 360.6L355.8 367.2" fill="none" stroke="#3f8fd6" stroke-width="0.6" stroke-linejoin="round"/>
<line x1="356.21" y1="303.1" x2="356.21" y2="367.2" stroke="#3f8fd6" stroke-width="0.3" stroke-opacity="0.5"/>
<path d="M356.4 303.8L356.9 303.8L357 313.8L362.3 332.8L362.4 337.8L357 359.8L356.9 365.7L356.4 365.7Z" fill="#faefc2"/>
<path d="M356.9 303.8L357 313.8L362.3 332.8L362.4 337.8L357 359.8L356.9 365.7" fill="none" stroke="#efc63f" stroke-width="0.6" stroke-linejoin="round"/>
<line x1="356.51" y1="303.8" x2="356.51" y2="365.7" stroke="#efc63f" stroke-width="0.3" stroke-opacity="0.5"/>
<path d="M378.8 343.2L378.3 343.2L378.3 354.2L378 354.7L377.5 355.2L376.7 355.7L374 357.2L373.3 357.7L373 358.2L373.1 358.7L373.9 359.2L376.4 360.2L377.4 360.7L378.2 361.3L378.8 361.3Z" fill="#d5e8f8"/>
<path d="M378.3 343.2L378.3 354.2L378 354.7L377.5 355.2L376.7 355.7L374 357.2L373.3 357.7L373 358.2L373.1 358.7L373.9 359.2L376.4 360.2L377.4 360.7L378.2 361.3" fill="none" stroke="#3f8fd6" stroke-width="0.6" stroke-linejoin="round"/>
<line x1="378.67" y1="343.2" x2="378.67" y2="361.3" stroke="#3f8fd6" stroke-width="0.3" stroke-opacity="0.5"/>
<path d="M378.8 346.5L379.4 346.5L379.4 351L379.8 352L380.6 353L383.9 356L384.4 356.5L384.7 357L384.9 357.5L384.9 358L384.5 358.5L383.8 359L381 360.5L380.2 361L379.7 361.5L379.4 362L378.8 362Z" fill="#faefc2"/>
<path d="M379.4 346.5L379.4 351L379.8 352L380.6 353L383.9 356L384.4 356.5L384.7 357L384.9 357.5L384.9 358L384.5 358.5L383.8 359L381 360.5L380.2 361L379.7 361.5L379.4 362" fill="none" stroke="#efc63f" stroke-width="0.6" stroke-linejoin="round"/>
<line x1="378.97" y1="346.5" x2="378.97" y2="362" stroke="#efc63f" stroke-width="0.3" stroke-opacity="0.5"/>
<path d="M401.3 323.2L400.7 323.2L400.7 342.2L399.7 345.2L395.8 351.7L395.3 353.2L395.2 354.2L395.3 355.2L396.1 356.7L399.5 361.2L400.5 363.2L400.7 364.2L400.7 365.2L401.3 365.2Z" fill="#d5e8f8"/>
<path d="M400.7 323.2L400.7 342.2L399.7 345.2L395.8 351.7L395.3 353.2L395.2 354.2L395.3 355.2L396.1 356.7L399.5 361.2L400.5 363.2L400.7 364.2L400.7 365.2" fill="none" stroke="#3f8fd6" stroke-width="0.6" stroke-linejoin="round"/>
<line x1="401.13" y1="323.2" x2="401.13" y2="365.2" stroke="#3f8fd6" stroke-width="0.3" stroke-opacity="0.5"/>
<path d="M401.3 312.2L401.8 312.2L401.8 332.7L403.4 338.7L407.3 347.7L407.8 350.7L407.7 352.2L406.9 354.2L403.1 360.7L401.9 364.2L401.8 365.2L401.3 365.2Z" fill="#faefc2"/>
<path d="M401.8 312.2L401.8 332.7L403.4 338.7L407.3 347.7L407.8 350.7L407.7 352.2L406.9 354.2L403.1 360.7L401.9 364.2L401.8 365.2" fill="none" stroke="#efc63f" stroke-width="0.6" stroke-linejoin="round"/>
<line x1="401.43" y1="312.2" x2="401.43" y2="365.2" stroke="#efc63f" stroke-width="0.3" stroke-opacity="0.5"/>
<path d="M423.7 318L423.2 318L423.1 329L417.8 347.5L417.5 350.5L417.9 352.5L422.4 362L423.2 365L423.2 367.2L423.7 367.2Z" fill="#d5e8f8"/>
<path d="M423.2 318L423.1 329L417.8 347.5L417.5 350.5L417.9 352.5L422.4 362L423.2 365L423.2 367.2" fill="none" stroke="#3f8fd6" stroke-width="0.6" stroke-linejoin="round"/>
<line x1="423.59" y1="318" x2="423.59" y2="367.2" stroke="#3f8fd6" stroke-width="0.3" stroke-opacity="0.5"/>
<path d="M423.7 312.2L424.3 312.2L424.6 322.7L430 342.2L430.2 346.2L429.3 350.2L425.1 360.7L424.3 364.7L424.3 367.8L423.7 367.8Z" fill="#faefc2"/>
<path d="M424.3 312.2L424.6 322.7L430 342.2L430.2 346.2L429.3 350.2L425.1 360.7L424.3 364.7L424.3 367.8" fill="none" stroke="#efc63f" stroke-width="0.6" stroke-linejoin="round"/>
<line x1="423.89" y1="312.2" x2="423.89" y2="367.8" stroke="#efc63f" stroke-width="0.3" stroke-opacity="0.5"/>
<path d="M446.2 299.9L445.7 299.9L445.5 312.4L440.6 331.9L440.4 335.9L445.4 352.4L445.7 365.9L446.2 365.9Z" fill="#d5e8f8"/>
<path d="M445.7 299.9L445.5 312.4L440.6 331.9L440.4 335.9L445.4 352.4L445.7 365.9" fill="none" stroke="#3f8fd6" stroke-width="0.6" stroke-linejoin="round"/>
<line x1="446.05" y1="299.9" x2="446.05" y2="365.9" stroke="#3f8fd6" stroke-width="0.3" stroke-opacity="0.5"/>
<path d="M446.2 290.2L446.8 290.2L446.9 305.7L451.9 325.7L451.9 331.7L446.8 354.2L446.8 365.2L446.2 365.2Z" fill="#faefc2"/>
<path d="M446.8 290.2L446.9 305.7L451.9 325.7L451.9 331.7L446.8 354.2L446.8 365.2" fill="none" stroke="#efc63f" stroke-width="0.6" stroke-linejoin="round"/>
<line x1="446.35" y1="290.2" x2="446.35" y2="365.2" stroke="#efc63f" stroke-width="0.3" stroke-opacity="0.5"/>
<path d="M468.7 327.7L468.1 327.7L468.1 338.7L466.8 342.7L463.2 349.7L462.6 351.7L462.5 353.2L462.8 354.7L467.2 362.2L468 364.7L468.1 365.2L468.7 365.2Z" fill="#d5e8f8"/>
<path d="M468.1 327.7L468.1 338.7L466.8 342.7L463.2 349.7L462.6 351.7L462.5 353.2L462.8 354.7L467.2 362.2L468 364.7L468.1 365.2" fill="none" stroke="#3f8fd6" stroke-width="0.6" stroke-linejoin="round"/>
<line x1="468.51" y1="327.7" x2="468.51" y2="365.2" stroke="#3f8fd6" stroke-width="0.3" stroke-opacity="0.5"/>
<path d="M468.7 313.5L469.2 313.5L469.4 325.5L474.3 345L474.4 349L469.5 365L469.2 367.2L468.7 367.2Z" fill="#faefc2"/>
<path d="M469.2 313.5L469.4 325.5L474.3 345L474.4 349L469.5 365L469.2 367.2" fill="none" stroke="#efc63f" stroke-width="0.6" stroke-linejoin="round"/>
<line x1="468.81" y1="313.5" x2="468.81" y2="367.2" stroke="#efc63f" stroke-width="0.3" stroke-opacity="0.5"/>
<path d="M491.1 284.4L490.6 284.4L490.1 304.9L485.4 326.9L485.7 334.9L490.6 358.4L490.6 368.5L491.1 368.5Z" fill="#d5e8f8"/>
<path d="M490.6 284.4L490.1 304.9L485.4 326.9L485.7 334.9L490.6 358.4L490.6 368.5" fill="none" stroke="#3f8fd6" stroke-width="0.6" stroke-linejoin="round"/>
<line x1="490.97" y1="284.4" x2="490.97" y2="368.5" stroke="#3f8fd6" stroke-width="0.3" stroke-opacity="0.5"/>
<path d="M491.1 286.3L491.7 286.3L492.3 300.3L497.4 321.3L497.4 328.3L491.8 352.8L491.7 365.9L491.1 365.9Z" fill="#faefc2"/>
<path d="M491.7 286.3L492.3 300.3L497.4 321.3L497.4 328.3L491.8 352.8L491.7 365.9" fill="none" stroke="#efc63f" stroke-width="0.6" stroke-linejoin="round"/>
<line x1="491.27" y1="286.3" x2="491.27" y2="365.9" stroke="#efc63f" stroke-width="0.3" stroke-opacity="0.5"/>
<path d="M513.6 347.6L513 347.6L513 354.6L512.7 355.1L512.2 355.6L511.5 356.1L508.9 357.6L508.2 358.1L507.7 358.6L507.8 359.1L508.5 359.6L511.2 360.6L512.3 361.1L513 361.6L513 361.9L513.6 361.9Z" fill="#d5e8f8"/>
<path d="M513 347.6L513 354.6L512.7 355.1L512.2 355.6L511.5 356.1L508.9 357.6L508.2 358.1L507.7 358.6L507.8 359.1L508.5 359.6L511.2 360.6L512.3 361.1L513 361.6L513 361.9" fill="none" stroke="#3f8fd6" stroke-width="0.6" stroke-linejoin="round"/>
<line x1="513.43" y1="347.6" x2="513.43" y2="361.9" stroke="#3f8fd6" stroke-width="0.3" stroke-opacity="0.5"/>
<path d="M513.6 334.7L514.1 334.7L514.1 352.2L514.7 353.2L515.7 354.2L519 356.7L519.5 357.2L519.9 357.7L520.1 358.2L520 358.7L519.4 359.2L518.4 359.7L516.2 360.7L515.3 361.2L514.6 361.7L514.1 362.2L514.1 362.6L513.6 362.6Z" fill="#faefc2"/>
<path d="M514.1 334.7L514.1 352.2L514.7 353.2L515.7 354.2L519 356.7L519.5 357.2L519.9 357.7L520.1 358.2L520 358.7L519.4 359.2L518.4 359.7L516.2 360.7L515.3 361.2L514.6 361.7L514.1 362.2L514.1 362.6" fill="none" stroke="#efc63f" stroke-width="0.6" stroke-linejoin="round"/>
<line x1="513.73" y1="334.7" x2="513.73" y2="362.6" stroke="#efc63f" stroke-width="0.3" stroke-opacity="0.5"/>
<path d="M536 321.2L535.5 321.2L535.5 342.7L534.3 345.7L530.9 351.2L530.4 352.7L530.4 354.2L530.8 355.7L534.7 362.2L535.5 364.7L535.5 365.7L536 365.7Z" fill="#d5e8f8"/>
<path d="M535.5 321.2L535.5 342.7L534.3 345.7L530.9 351.2L530.4 352.7L530.4 354.2L530.8 355.7L534.7 362.2L535.5 364.7L535.5 365.7" fill="none" stroke="#3f8fd6" stroke-width="0.6" stroke-linejoin="round"/>
<line x1="535.89" y1="321.2" x2="535.89" y2="365.7" stroke="#3f8fd6" stroke-width="0.3" stroke-opacity="0.5"/>
<path d="M536 308.3L536.6 308.3L536.7 327.8L542.3 348.3L542.5 351.8L542.1 353.8L537.6 362.3L536.7 365.3L536.6 367.9L536 367.9Z" fill="#faefc2"/>
<path d="M536.6 308.3L536.7 327.8L542.3 348.3L542.5 351.8L542.1 353.8L537.6 362.3L536.7 365.3L536.6 367.9" fill="none" stroke="#efc63f" stroke-width="0.6" stroke-linejoin="round"/>
<line x1="536.19" y1="308.3" x2="536.19" y2="367.9" stroke="#efc63f" stroke-width="0.3" stroke-opacity="0.5"/>
<path d="M558.5 304.6L558 304.6L557.5 321.6L552.4 343.1L552.3 347.6L557.5 363.1L558 366.1L558 367.9L558.5 367.9Z" fill="#d5e8f8"/>
<path d="M558 304.6L557.5 321.6L552.4 343.1L552.3 347.6L557.5 363.1L558 366.1L558 367.9" fill="none" stroke="#3f8fd6" stroke-width="0.6" stroke-linejoin="round"/>
<line x1="558.35" y1="304.6" x2="558.35" y2="367.9" stroke="#3f8fd6" stroke-width="0.3" stroke-opacity="0.5"/>
<path d="M558.5 268.4L559 268.4L559.8 315.9L564.9 343.4L564.9 346.9L564.4 348.9L560 356.9L559.1 359.9L559 365.7L558.5 365.7Z" fill="#faefc2"/>
<path d="M559 268.4L559.8 315.9L564.9 343.4L564.9 346.9L564.4 348.9L560 356.9L559.1 359.9L559 365.7" fill="none" stroke="#efc63f" stroke-width="0.6" stroke-linejoin="round"/>
<line x1="558.65" y1="268.4" x2="558.65" y2="365.7" stroke="#efc63f" stroke-width="0.3" stroke-opacity="0.5"/>
<path d="M581 353.8L580.4 353.8L580.4 357.8L577 358.3L575.7 358.8L579.4 359.3L580.4 359.8L581 359.8Z" fill="#d5e8f8"/>
<path d="M580.4 353.8L580.4 357.8L577 358.3L575.7 358.8L579.4 359.3L580.4 359.8" fill="none" stroke="#3f8fd6" stroke-width="0.6" stroke-linejoin="round"/>
<line x1="580.81" y1="353.8" x2="580.81" y2="359.8" stroke="#3f8fd6" stroke-width="0.3" stroke-opacity="0.5"/>
<path d="M581 357.2L581.5 357.2L581.5 357.7L583.8 358.2L586.5 358.7L583.1 359.2L581.5 359.7L581.5 359.8L581 359.8Z" fill="#faefc2"/>
<path d="M581.5 357.2L581.5 357.7L583.8 358.2L586.5 358.7L583.1 359.2L581.5 359.7L581.5 359.8" fill="none" stroke="#efc63f" stroke-width="0.6" stroke-linejoin="round"/>
<line x1="581.11" y1="357.2" x2="581.11" y2="359.8" stroke="#efc63f" stroke-width="0.3" stroke-opacity="0.5"/>
<path d="M603.4 357.2L602.9 357.2L602.9 358.2L602.2 358.7L597.8 359.2L600.5 359.7L602.9 360.2L603.4 360.2Z" fill="#d5e8f8"/>
<path d="M602.9 357.2L602.9 358.2L602.2 358.7L597.8 359.2L600.5 359.7L602.9 360.2" fill="none" stroke="#3f8fd6" stroke-width="0.6" stroke-linejoin="round"/>
<line x1="603.27" y1="357.2" x2="603.27" y2="360.2" stroke="#3f8fd6" stroke-width="0.3" stroke-opacity="0.5"/>
<path d="M603.4 355.2L604 355.2L604 358.2L604.8 358.7L609.6 359.2L606.7 359.7L604 360.2L603.4 360.2Z" fill="#faefc2"/>
<path d="M604 355.2L604 358.2L604.8 358.7L609.6 359.2L606.7 359.7L604 360.2" fill="none" stroke="#efc63f" stroke-width="0.6" stroke-linejoin="round"/>
<line x1="603.57" y1="355.2" x2="603.57" y2="360.2" stroke="#efc63f" stroke-width="0.3" stroke-opacity="0.5"/>
<line x1="107" y1="333.5" x2="107" y2="354.3" stroke="#000" stroke-width="1.05" stroke-opacity="0.9"/>
<circle cx="107" cy="343.9" r="1.3" fill="#000"/>
<line x1="111.2" y1="325.7" x2="111.2" y2="351.9" stroke="#000" stroke-width="1.05" stroke-opacity="0.9"/>
<circle cx="111.2" cy="338.8" r="1.3" fill="#000"/>
<line x1="129.46" y1="293.4" x2="129.46" y2="305.6" stroke="#000" stroke-width="1.05" stroke-opacity="0.9"/>
<circle cx="129.46" cy="299.5" r="1.3" fill="#000"/>
<line x1="133.66" y1="296" x2="133.66" y2="308.8" stroke="#000" stroke-width="1.05" stroke-opacity="0.9"/>
<circle cx="133.66" cy="302.4" r="1.3" fill="#000"/>
<line x1="151.92" y1="313" x2="151.92" y2="325.8" stroke="#000" stroke-width="1.05" stroke-opacity="0.9"/>
<circle cx="151.92" cy="319.4" r="1.3" fill="#000"/>
<line x1="156.12" y1="312.9" x2="156.12" y2="327.7" stroke="#000" stroke-width="1.05" stroke-opacity="0.9"/>
<circle cx="156.12" cy="320.3" r="1.3" fill="#000"/>
<circle cx="174.38" cy="359" r="1.3" fill="#000"/>
<circle cx="178.58" cy="359" r="1.3" fill="#000"/>
<line x1="196.84" y1="329.1" x2="196.84" y2="350.7" stroke="#000" stroke-width="1.05" stroke-opacity="0.9"/>
<circle cx="196.84" cy="339.9" r="1.3" fill="#000"/>
<line x1="201.04" y1="323.7" x2="201.04" y2="347.9" stroke="#000" stroke-width="1.05" stroke-opacity="0.9"/>
<circle cx="201.04" cy="335.8" r="1.3" fill="#000"/>
<line x1="219.3" y1="351.4" x2="219.3" y2="359.4" stroke="#000" stroke-width="1.05" stroke-opacity="0.9"/>
<circle cx="219.3" cy="355.4" r="1.3" fill="#000"/>
<line x1="223.5" y1="349" x2="223.5" y2="358.4" stroke="#000" stroke-width="1.05" stroke-opacity="0.9"/>
<circle cx="223.5" cy="353.7" r="1.3" fill="#000"/>
<circle cx="241.76" cy="359.5" r="1.3" fill="#000"/>
<circle cx="245.96" cy="359.5" r="1.3" fill="#000"/>
<line x1="264.22" y1="335.7" x2="264.22" y2="349.9" stroke="#000" stroke-width="1.05" stroke-opacity="0.9"/>
<circle cx="264.22" cy="342.8" r="1.3" fill="#000"/>
<line x1="268.42" y1="332.8" x2="268.42" y2="349.6" stroke="#000" stroke-width="1.05" stroke-opacity="0.9"/>
<circle cx="268.42" cy="341.2" r="1.3" fill="#000"/>
<circle cx="286.68" cy="359.8" r="1.3" fill="#000"/>
<circle cx="290.88" cy="359.8" r="1.3" fill="#000"/>
<line x1="309.14" y1="316.6" x2="309.14" y2="355.4" stroke="#000" stroke-width="1.05" stroke-opacity="0.9"/>
<circle cx="309.14" cy="336" r="1.3" fill="#000"/>
<line x1="313.34" y1="308.9" x2="313.34" y2="348.5" stroke="#000" stroke-width="1.05" stroke-opacity="0.9"/>
<circle cx="313.34" cy="328.7" r="1.3" fill="#000"/>
<line x1="331.6" y1="340" x2="331.6" y2="362.6" stroke="#000" stroke-width="1.05" stroke-opacity="0.9"/>
<circle cx="331.6" cy="351.3" r="1.3" fill="#000"/>
<line x1="335.8" y1="343" x2="335.8" y2="362.6" stroke="#000" stroke-width="1.05" stroke-opacity="0.9"/>
<circle cx="335.8" cy="352.8" r="1.3" fill="#000"/>
<line x1="354.06" y1="329.9" x2="354.06" y2="348.7" stroke="#000" stroke-width="1.05" stroke-opacity="0.9"/>
<circle cx="354.06" cy="339.3" r="1.3" fill="#000"/>
<line x1="358.26" y1="326.3" x2="358.26" y2="345.7" stroke="#000" stroke-width="1.05" stroke-opacity="0.9"/>
<circle cx="358.26" cy="336" r="1.3" fill="#000"/>
<line x1="376.52" y1="356" x2="376.52" y2="359" stroke="#000" stroke-width="1.05" stroke-opacity="0.9"/>
<circle cx="376.52" cy="357.5" r="1.3" fill="#000"/>
<line x1="380.72" y1="355" x2="380.72" y2="358.6" stroke="#000" stroke-width="1.05" stroke-opacity="0.9"/>
<circle cx="380.72" cy="356.8" r="1.3" fill="#000"/>
<line x1="398.98" y1="344.9" x2="398.98" y2="357.1" stroke="#000" stroke-width="1.05" stroke-opacity="0.9"/>
<circle cx="398.98" cy="351" r="1.3" fill="#000"/>
<line x1="403.18" y1="340.4" x2="403.18" y2="355.2" stroke="#000" stroke-width="1.05" stroke-opacity="0.9"/>
<circle cx="403.18" cy="347.8" r="1.3" fill="#000"/>
<line x1="421.44" y1="340" x2="421.44" y2="354.2" stroke="#000" stroke-width="1.05" stroke-opacity="0.9"/>
<circle cx="421.44" cy="347.1" r="1.3" fill="#000"/>
<line x1="425.64" y1="334.1" x2="425.64" y2="351.5" stroke="#000" stroke-width="1.05" stroke-opacity="0.9"/>
<circle cx="425.64" cy="342.8" r="1.3" fill="#000"/>
<line x1="443.9" y1="325.1" x2="443.9" y2="344.5" stroke="#000" stroke-width="1.05" stroke-opacity="0.9"/>
<circle cx="443.9" cy="334.8" r="1.3" fill="#000"/>
<line x1="448.1" y1="321.3" x2="448.1" y2="340.7" stroke="#000" stroke-width="1.05" stroke-opacity="0.9"/>
<circle cx="448.1" cy="331" r="1.3" fill="#000"/>
<line x1="466.36" y1="344.2" x2="466.36" y2="357.2" stroke="#000" stroke-width="1.05" stroke-opacity="0.9"/>
<circle cx="466.36" cy="350.7" r="1.3" fill="#000"/>
<line x1="470.56" y1="339.1" x2="470.56" y2="354.7" stroke="#000" stroke-width="1.05" stroke-opacity="0.9"/>
<circle cx="470.56" cy="346.9" r="1.3" fill="#000"/>
<line x1="488.82" y1="317.3" x2="488.82" y2="341.3" stroke="#000" stroke-width="1.05" stroke-opacity="0.9"/>
<circle cx="488.82" cy="329.3" r="1.3" fill="#000"/>
<line x1="493.02" y1="314.2" x2="493.02" y2="336.8" stroke="#000" stroke-width="1.05" stroke-opacity="0.9"/>
<circle cx="493.02" cy="325.5" r="1.3" fill="#000"/>
<line x1="511.28" y1="355.8" x2="511.28" y2="359.8" stroke="#000" stroke-width="1.05" stroke-opacity="0.9"/>
<circle cx="511.28" cy="357.8" r="1.3" fill="#000"/>
<line x1="515.48" y1="352.5" x2="515.48" y2="360.7" stroke="#000" stroke-width="1.05" stroke-opacity="0.9"/>
<circle cx="515.48" cy="356.6" r="1.3" fill="#000"/>
<line x1="533.74" y1="343.8" x2="533.74" y2="357.4" stroke="#000" stroke-width="1.05" stroke-opacity="0.9"/>
<circle cx="533.74" cy="350.6" r="1.3" fill="#000"/>
<line x1="537.94" y1="337.8" x2="537.94" y2="355.8" stroke="#000" stroke-width="1.05" stroke-opacity="0.9"/>
<circle cx="537.94" cy="346.8" r="1.3" fill="#000"/>
<line x1="556.2" y1="332.8" x2="556.2" y2="350.8" stroke="#000" stroke-width="1.05" stroke-opacity="0.9"/>
<circle cx="556.2" cy="341.8" r="1.3" fill="#000"/>
<line x1="560.4" y1="328.4" x2="560.4" y2="350.2" stroke="#000" stroke-width="1.05" stroke-opacity="0.9"/>
<circle cx="560.4" cy="339.3" r="1.3" fill="#000"/>
<circle cx="578.66" cy="358.6" r="1.3" fill="#000"/>
<circle cx="582.86" cy="358.6" r="1.3" fill="#000"/>
<circle cx="601.12" cy="359.3" r="1.3" fill="#000"/>
<circle cx="605.32" cy="359.3" r="1.3" fill="#000"/>
<ellipse cx="107.3" cy="268.7" rx="0.75" ry="0.675" fill="#262626"/>
<ellipse cx="109.3" cy="268.7" rx="0.75" ry="0.675" fill="#262626"/>
<ellipse cx="111.3" cy="268.7" rx="0.75" ry="0.675" fill="#262626"/>
<ellipse cx="129.76" cy="268.7" rx="0.75" ry="0.675" fill="#262626"/>
<ellipse cx="131.76" cy="268.7" rx="0.75" ry="0.675" fill="#262626"/>
<ellipse cx="133.76" cy="268.7" rx="0.75" ry="0.675" fill="#262626"/>
<ellipse cx="198.14" cy="268.7" rx="0.75" ry="0.675" fill="#262626"/>
<ellipse cx="200.14" cy="268.7" rx="0.75" ry="0.675" fill="#262626"/>
<ellipse cx="220.6" cy="268.7" rx="0.75" ry="0.675" fill="#262626"/>
<ellipse cx="222.6" cy="268.7" rx="0.75" ry="0.675" fill="#262626"/>
<ellipse cx="243.06" cy="268.7" rx="0.75" ry="0.675" fill="#262626"/>
<ellipse cx="245.06" cy="268.7" rx="0.75" ry="0.675" fill="#262626"/>
<ellipse cx="285.98" cy="268.7" rx="0.75" ry="0.675" fill="#262626"/>
<ellipse cx="287.98" cy="268.7" rx="0.75" ry="0.675" fill="#262626"/>
<ellipse cx="289.98" cy="268.7" rx="0.75" ry="0.675" fill="#262626"/>
<ellipse cx="291.98" cy="268.7" rx="0.75" ry="0.675" fill="#262626"/>
<ellipse cx="309.44" cy="268.7" rx="0.75" ry="0.675" fill="#262626"/>
<ellipse cx="311.44" cy="268.7" rx="0.75" ry="0.675" fill="#262626"/>
<ellipse cx="313.44" cy="268.7" rx="0.75" ry="0.675" fill="#262626"/>
<ellipse cx="355.36" cy="268.7" rx="0.75" ry="0.675" fill="#262626"/>
<ellipse cx="357.36" cy="268.7" rx="0.75" ry="0.675" fill="#262626"/>
<ellipse cx="376.82" cy="268.7" rx="0.75" ry="0.675" fill="#262626"/>
<ellipse cx="378.82" cy="268.7" rx="0.75" ry="0.675" fill="#262626"/>
<ellipse cx="380.82" cy="268.7" rx="0.75" ry="0.675" fill="#262626"/>
<ellipse cx="398.28" cy="268.7" rx="0.75" ry="0.675" fill="#262626"/>
<ellipse cx="400.28" cy="268.7" rx="0.75" ry="0.675" fill="#262626"/>
<ellipse cx="402.28" cy="268.7" rx="0.75" ry="0.675" fill="#262626"/>
<ellipse cx="404.28" cy="268.7" rx="0.75" ry="0.675" fill="#262626"/>
<ellipse cx="420.74" cy="268.7" rx="0.75" ry="0.675" fill="#262626"/>
<ellipse cx="422.74" cy="268.7" rx="0.75" ry="0.675" fill="#262626"/>
<ellipse cx="424.74" cy="268.7" rx="0.75" ry="0.675" fill="#262626"/>
<ellipse cx="426.74" cy="268.7" rx="0.75" ry="0.675" fill="#262626"/>
<ellipse cx="444.2" cy="268.7" rx="0.75" ry="0.675" fill="#262626"/>
<ellipse cx="446.2" cy="268.7" rx="0.75" ry="0.675" fill="#262626"/>
<ellipse cx="448.2" cy="268.7" rx="0.75" ry="0.675" fill="#262626"/>
<ellipse cx="465.66" cy="268.7" rx="0.75" ry="0.675" fill="#262626"/>
<ellipse cx="467.66" cy="268.7" rx="0.75" ry="0.675" fill="#262626"/>
<ellipse cx="469.66" cy="268.7" rx="0.75" ry="0.675" fill="#262626"/>
<ellipse cx="471.66" cy="268.7" rx="0.75" ry="0.675" fill="#262626"/>
<ellipse cx="490.12" cy="268.7" rx="0.75" ry="0.675" fill="#262626"/>
<ellipse cx="492.12" cy="268.7" rx="0.75" ry="0.675" fill="#262626"/>
<ellipse cx="510.58" cy="268.7" rx="0.75" ry="0.675" fill="#262626"/>
<ellipse cx="512.58" cy="268.7" rx="0.75" ry="0.675" fill="#262626"/>
<ellipse cx="514.58" cy="268.7" rx="0.75" ry="0.675" fill="#262626"/>
<ellipse cx="516.58" cy="268.7" rx="0.75" ry="0.675" fill="#262626"/>
<ellipse cx="533.04" cy="268.7" rx="0.75" ry="0.675" fill="#262626"/>
<ellipse cx="535.04" cy="268.7" rx="0.75" ry="0.675" fill="#262626"/>
<ellipse cx="537.04" cy="268.7" rx="0.75" ry="0.675" fill="#262626"/>
<ellipse cx="539.04" cy="268.7" rx="0.75" ry="0.675" fill="#262626"/>
<ellipse cx="558.5" cy="268.7" rx="0.75" ry="0.675" fill="#262626"/>
<ellipse cx="601.42" cy="268.7" rx="0.75" ry="0.675" fill="#262626"/>
<ellipse cx="603.42" cy="268.7" rx="0.75" ry="0.675" fill="#262626"/>
<ellipse cx="605.42" cy="268.7" rx="0.75" ry="0.675" fill="#262626"/>
<line x1="109.3" y1="384.2" x2="109.3" y2="386" stroke="#777" stroke-width="0.7"/>
<line x1="131.76" y1="384.2" x2="131.76" y2="386" stroke="#777" stroke-width="0.7"/>
<line x1="154.22" y1="384.2" x2="154.22" y2="386" stroke="#777" stroke-width="0.7"/>
<line x1="176.68" y1="384.2" x2="176.68" y2="386" stroke="#777" stroke-width="0.7"/>
<line x1="199.14" y1="384.2" x2="199.14" y2="386" stroke="#777" stroke-width="0.7"/>
<line x1="221.6" y1="384.2" x2="221.6" y2="386" stroke="#777" stroke-width="0.7"/>
<line x1="244.06" y1="384.2" x2="244.06" y2="386" stroke="#777" stroke-width="0.7"/>
<line x1="266.52" y1="384.2" x2="266.52" y2="386" stroke="#777" stroke-width="0.7"/>
<line x1="288.98" y1="384.2" x2="288.98" y2="386" stroke="#777" stroke-width="0.7"/>
<line x1="311.44" y1="384.2" x2="311.44" y2="386" stroke="#777" stroke-width="0.7"/>
<line x1="333.9" y1="384.2" x2="333.9" y2="386" stroke="#777" stroke-width="0.7"/>
<line x1="356.36" y1="384.2" x2="356.36" y2="386" stroke="#777" stroke-width="0.7"/>
<line x1="378.82" y1="384.2" x2="378.82" y2="386" stroke="#777" stroke-width="0.7"/>
<line x1="401.28" y1="384.2" x2="401.28" y2="386" stroke="#777" stroke-width="0.7"/>
<line x1="423.74" y1="384.2" x2="423.74" y2="386" stroke="#777" stroke-width="0.7"/>
<line x1="446.2" y1="384.2" x2="446.2" y2="386" stroke="#777" stroke-width="0.7"/>
<line x1="468.66" y1="384.2" x2="468.66" y2="386" stroke="#777" stroke-width="0.7"/>
<line x1="491.12" y1="384.2" x2="491.12" y2="386" stroke="#777" stroke-width="0.7"/>
<line x1="513.58" y1="384.2" x2="513.58" y2="386" stroke="#777" stroke-width="0.7"/>
<line x1="536.04" y1="384.2" x2="536.04" y2="386" stroke="#777" stroke-width="0.7"/>
<line x1="558.5" y1="384.2" x2="558.5" y2="386" stroke="#777" stroke-width="0.7"/>
<line x1="580.96" y1="384.2" x2="580.96" y2="386" stroke="#777" stroke-width="0.7"/>
<line x1="603.42" y1="384.2" x2="603.42" y2="386" stroke="#777" stroke-width="0.7"/>
<line x1="327.85" y1="423.8" x2="327.85" y2="436.6" stroke="#3c7cc8" stroke-width="1.1"/>
<rect x="321" y="426.2" width="13.7" height="8" fill="#dce9f7" stroke="#3c7cc8" stroke-width="1.1"/>
<line x1="321" y1="430.2" x2="334.7" y2="430.2" stroke="#3c7cc8" stroke-width="1.1"/>
<line x1="376.55" y1="423.8" x2="376.55" y2="436.6" stroke="#e8c244" stroke-width="1.1"/>
<rect x="369.7" y="426.2" width="13.7" height="8" fill="#f9efc0" stroke="#e8c244" stroke-width="1.1"/>
<line x1="369.7" y1="430.2" x2="383.4" y2="430.2" stroke="#e8c244" stroke-width="1.1"/>
<line x1="20.9" y1="444.8" x2="685" y2="444.8" stroke="#d4d4d4" stroke-width="1.1"/>
<line x1="21.4" y1="444.8" x2="21.4" y2="575" stroke="#8a8a8a" stroke-width="1.1"/>
<line x1="684.5" y1="444.8" x2="684.5" y2="575" stroke="#cfcfcf" stroke-width="1.1"/>
<line x1="20.9" y1="575" x2="685" y2="575" stroke="#858585" stroke-width="1.0"/>
<line x1="19.6" y1="557.2" x2="21.4" y2="557.2" stroke="#777" stroke-width="0.7"/>
<line x1="19.6" y1="530.7" x2="21.4" y2="530.7" stroke="#777" stroke-width="0.7"/>
<line x1="19.6" y1="504.2" x2="21.4" y2="504.2" stroke="#777" stroke-width="0.7"/>
<line x1="19.6" y1="477.6" x2="21.4" y2="477.6" stroke="#777" stroke-width="0.7"/>
<line x1="19.6" y1="451" x2="21.4" y2="451" stroke="#777" stroke-width="0.7"/>
<path d="M30.6 517L30.1 517L30.1 545.5L29.5 547L28.6 548.5L24.4 553L23.8 554L23.4 555L23.4 555.5L23.6 556L24.1 556.5L24.8 557L28.1 559L28.8 559.5L29.3 560L29.8 560.5L30.6 560.5Z" fill="#d5e8f8"/>
<path d="M30.1 517L30.1 545.5L29.5 547L28.6 548.5L24.4 553L23.8 554L23.4 555L23.4 555.5L23.6 556L24.1 556.5L24.8 557L28.1 559L28.8 559.5L29.3 560L29.8 560.5" fill="none" stroke="#3f8fd6" stroke-width="0.6" stroke-linejoin="round"/>
<line x1="30.45" y1="517" x2="30.45" y2="560.5" stroke="#3f8fd6" stroke-width="0.3" stroke-opacity="0.5"/>
<path d="M30.6 503.4L31.2 503.4L31.2 540.4L31.9 542.9L33.5 545.9L36.7 550.4L37.5 551.9L37.8 553.4L37.7 554.4L37.4 555.4L36.4 556.9L33 560.9L31.8 562.9L31.2 564.5L30.6 564.5Z" fill="#faefc2"/>
<path d="M31.2 503.4L31.2 540.4L31.9 542.9L33.5 545.9L36.7 550.4L37.5 551.9L37.8 553.4L37.7 554.4L37.4 555.4L36.4 556.9L33 560.9L31.8 562.9L31.2 564.5" fill="none" stroke="#efc63f" stroke-width="0.6" stroke-linejoin="round"/>
<line x1="30.75" y1="503.4" x2="30.75" y2="564.5" stroke="#efc63f" stroke-width="0.3" stroke-opacity="0.5"/>
<path d="M46 525.4L45.4 525.4L45.4 537.9L44.6 540.9L39.8 548.9L39.1 550.9L39 552.4L39.3 553.4L40.4 554.9L43.6 558.4L44.6 559.9L45.4 561.6L46 561.6Z" fill="#d5e8f8"/>
<path d="M45.4 525.4L45.4 537.9L44.6 540.9L39.8 548.9L39.1 550.9L39 552.4L39.3 553.4L40.4 554.9L43.6 558.4L44.6 559.9L45.4 561.6" fill="none" stroke="#3f8fd6" stroke-width="0.6" stroke-linejoin="round"/>
<line x1="45.81" y1="525.4" x2="45.81" y2="561.6" stroke="#3f8fd6" stroke-width="0.3" stroke-opacity="0.5"/>
<path d="M46 515.3L46.5 515.3L46.5 530.3L47.7 534.8L52.8 544.8L53.4 547.3L53.5 548.3L53.2 549.3L52.7 550.3L48.3 555.3L47.1 557.3L46.6 558.8L46.5 560.5L46 560.5Z" fill="#faefc2"/>
<path d="M46.5 515.3L46.5 530.3L47.7 534.8L52.8 544.8L53.4 547.3L53.5 548.3L53.2 549.3L52.7 550.3L48.3 555.3L47.1 557.3L46.6 558.8L46.5 560.5" fill="none" stroke="#efc63f" stroke-width="0.6" stroke-linejoin="round"/>
<line x1="46.11" y1="515.3" x2="46.11" y2="560.5" stroke="#efc63f" stroke-width="0.3" stroke-opacity="0.5"/>
<path d="M61.3 505.1L60.8 505.1L60.8 509.6L59.9 512.1L58 515.1L55.3 518.6L54.6 520.1L54.3 521.1L54.4 522.1L54.9 523.6L59.5 530.1L60.6 532.6L60.8 533.6L60.8 536.8L61.3 536.8Z" fill="#d5e8f8"/>
<path d="M60.8 505.1L60.8 509.6L59.9 512.1L58 515.1L55.3 518.6L54.6 520.1L54.3 521.1L54.4 522.1L54.9 523.6L59.5 530.1L60.6 532.6L60.8 533.6L60.8 536.8" fill="none" stroke="#3f8fd6" stroke-width="0.6" stroke-linejoin="round"/>
<line x1="61.17" y1="505.1" x2="61.17" y2="536.8" stroke="#3f8fd6" stroke-width="0.3" stroke-opacity="0.5"/>
<path d="M61.3 485.8L61.9 485.8L61.9 506.8L63 510.3L68 518.8L68.7 520.8L68.8 522.3L68.4 524.3L63.2 533.3L61.9 537.3L61.9 541.8L61.3 541.8Z" fill="#faefc2"/>
<path d="M61.9 485.8L61.9 506.8L63 510.3L68 518.8L68.7 520.8L68.8 522.3L68.4 524.3L63.2 533.3L61.9 537.3L61.9 541.8" fill="none" stroke="#efc63f" stroke-width="0.6" stroke-linejoin="round"/>
<line x1="61.47" y1="485.8" x2="61.47" y2="541.8" stroke="#efc63f" stroke-width="0.3" stroke-opacity="0.5"/>
<path d="M76.7 483.6L76.1 483.6L76.1 495.6L74.5 502.6L69.9 513.6L69.3 517.1L70.2 524.6L75.6 544.1L76.1 560.5L76.7 560.5Z" fill="#d5e8f8"/>
<path d="M76.1 483.6L76.1 495.6L74.5 502.6L69.9 513.6L69.3 517.1L70.2 524.6L75.6 544.1L76.1 560.5" fill="none" stroke="#3f8fd6" stroke-width="0.6" stroke-linejoin="round"/>
<line x1="76.53" y1="483.6" x2="76.53" y2="560.5" stroke="#3f8fd6" stroke-width="0.3" stroke-opacity="0.5"/>
<path d="M76.7 483.6L77.2 483.6L78.6 495.6L83.7 513.1L84 519.1L77.5 546.1L77.2 556L76.7 556Z" fill="#faefc2"/>
<path d="M77.2 483.6L78.6 495.6L83.7 513.1L84 519.1L77.5 546.1L77.2 556" fill="none" stroke="#efc63f" stroke-width="0.6" stroke-linejoin="round"/>
<line x1="76.83" y1="483.6" x2="76.83" y2="556" stroke="#efc63f" stroke-width="0.3" stroke-opacity="0.5"/>
<path d="M92 539L91.5 539L91.5 550L91.2 550.5L90.8 551L90.2 551.5L88.8 552.5L86.2 554L85.6 554.5L85.2 555L85.2 555.5L85.7 556L86.9 556.5L89.6 557.5L90.7 558L91.4 558.5L91.5 559L91.5 559.4L92 559.4Z" fill="#d5e8f8"/>
<path d="M91.5 539L91.5 550L91.2 550.5L90.8 551L90.2 551.5L88.8 552.5L86.2 554L85.6 554.5L85.2 555L85.2 555.5L85.7 556L86.9 556.5L89.6 557.5L90.7 558L91.4 558.5L91.5 559L91.5 559.4" fill="none" stroke="#3f8fd6" stroke-width="0.6" stroke-linejoin="round"/>
<line x1="91.89" y1="539" x2="91.89" y2="559.4" stroke="#3f8fd6" stroke-width="0.3" stroke-opacity="0.5"/>
<path d="M92 522L92.6 522L92.6 548L92.7 548.5L93.3 549.5L94.3 550.5L97.8 553L98.4 553.5L98.9 554L99.2 554.5L99.2 555L98.9 555.5L98.1 556L94.8 557.5L93.9 558L93.2 558.5L92.7 559L92.6 560.5L92 560.5Z" fill="#faefc2"/>
<path d="M92.6 522L92.6 548L92.7 548.5L93.3 549.5L94.3 550.5L97.8 553L98.4 553.5L98.9 554L99.2 554.5L99.2 555L98.9 555.5L98.1 556L94.8 557.5L93.9 558L93.2 558.5L92.7 559L92.6 560.5" fill="none" stroke="#efc63f" stroke-width="0.6" stroke-linejoin="round"/>
<line x1="92.19" y1="522" x2="92.19" y2="560.5" stroke="#efc63f" stroke-width="0.3" stroke-opacity="0.5"/>
<path d="M107.4 498.3L106.9 498.3L106.9 522.8L105.4 528.8L101 538.8L100.4 541.8L100.6 544.3L106 556.3L106.8 559.8L106.9 563.9L107.4 563.9Z" fill="#d5e8f8"/>
<path d="M106.9 498.3L106.9 522.8L105.4 528.8L101 538.8L100.4 541.8L100.6 544.3L106 556.3L106.8 559.8L106.9 563.9" fill="none" stroke="#3f8fd6" stroke-width="0.6" stroke-linejoin="round"/>
<line x1="107.25" y1="498.3" x2="107.25" y2="563.9" stroke="#3f8fd6" stroke-width="0.3" stroke-opacity="0.5"/>
<path d="M107.4 501.7L108 501.7L108.1 515.2L114.6 537.2L114.8 540.7L114.3 543.2L109.1 553.2L108 557.7L108 563.9L107.4 563.9Z" fill="#faefc2"/>
<path d="M108 501.7L108.1 515.2L114.6 537.2L114.8 540.7L114.3 543.2L109.1 553.2L108 557.7L108 563.9" fill="none" stroke="#efc63f" stroke-width="0.6" stroke-linejoin="round"/>
<line x1="107.55" y1="501.7" x2="107.55" y2="563.9" stroke="#efc63f" stroke-width="0.3" stroke-opacity="0.5"/>
<path d="M122.8 480.7L122.2 480.7L122.1 487.7L121.3 490.2L119.4 493.2L116.3 497.2L115.4 498.7L115.1 500.2L115.2 502.2L116.4 505.2L120.8 513.2L122.2 518.2L122.2 541.3L122.8 541.3Z" fill="#d5e8f8"/>
<path d="M122.2 480.7L122.1 487.7L121.3 490.2L119.4 493.2L116.3 497.2L115.4 498.7L115.1 500.2L115.2 502.2L116.4 505.2L120.8 513.2L122.2 518.2L122.2 541.3" fill="none" stroke="#3f8fd6" stroke-width="0.6" stroke-linejoin="round"/>
<line x1="122.61" y1="480.7" x2="122.61" y2="541.3" stroke="#3f8fd6" stroke-width="0.3" stroke-opacity="0.5"/>
<path d="M122.8 482.4L123.3 482.4L123.3 485.4L124.9 491.4L129.5 501.4L130.1 504.4L129.9 507.4L124.2 520.9L123.3 524.9L123.3 537.9L122.8 537.9Z" fill="#faefc2"/>
<path d="M123.3 482.4L123.3 485.4L124.9 491.4L129.5 501.4L130.1 504.4L129.9 507.4L124.2 520.9L123.3 524.9L123.3 537.9" fill="none" stroke="#efc63f" stroke-width="0.6" stroke-linejoin="round"/>
<line x1="122.91" y1="482.4" x2="122.91" y2="537.9" stroke="#efc63f" stroke-width="0.3" stroke-opacity="0.5"/>
<path d="M138.1 506.8L137.6 506.8L137.6 546.3L137.5 546.8L137 547.8L136.2 548.8L134.6 550.3L132.1 552.3L131.3 553.3L131.1 553.8L131 554.3L131.2 554.8L131.6 555.3L132.3 555.8L135.7 557.8L136.4 558.3L136.9 558.8L137.3 559.3L137.6 559.8L137.6 560L138.1 560Z" fill="#d5e8f8"/>
<path d="M137.6 506.8L137.6 546.3L137.5 546.8L137 547.8L136.2 548.8L134.6 550.3L132.1 552.3L131.3 553.3L131.1 553.8L131 554.3L131.2 554.8L131.6 555.3L132.3 555.8L135.7 557.8L136.4 558.3L136.9 558.8L137.3 559.3L137.6 559.8L137.6 560" fill="none" stroke="#3f8fd6" stroke-width="0.6" stroke-linejoin="round"/>
<line x1="137.97" y1="506.8" x2="137.97" y2="560" stroke="#3f8fd6" stroke-width="0.3" stroke-opacity="0.5"/>
<path d="M138.1 493.8L138.7 493.8L138.7 548.8L139 549.3L139.4 549.8L140 550.3L140.7 550.8L144.3 552.8L145.1 553.3L145.6 553.8L145.7 554.3L145.6 554.8L145.1 555.3L144.3 555.8L140.7 557.8L140 558.3L139.4 558.8L139 559.3L138.7 559.8L138.7 560.5L138.1 560.5Z" fill="#faefc2"/>
<path d="M138.7 493.8L138.7 548.8L139 549.3L139.4 549.8L140 550.3L140.7 550.8L144.3 552.8L145.1 553.3L145.6 553.8L145.7 554.3L145.6 554.8L145.1 555.3L144.3 555.8L140.7 557.8L140 558.3L139.4 558.8L139 559.3L138.7 559.8L138.7 560.5" fill="none" stroke="#efc63f" stroke-width="0.6" stroke-linejoin="round"/>
<line x1="138.27" y1="493.8" x2="138.27" y2="560.5" stroke="#efc63f" stroke-width="0.3" stroke-opacity="0.5"/>
<path d="M153.5 500L152.9 500L152.7 512.5L146.7 533.5L146.4 537.5L147 540.5L152 552L152.9 556L152.9 558.3L153.5 558.3Z" fill="#d5e8f8"/>
<path d="M152.9 500L152.7 512.5L146.7 533.5L146.4 537.5L147 540.5L152 552L152.9 556L152.9 558.3" fill="none" stroke="#3f8fd6" stroke-width="0.6" stroke-linejoin="round"/>
<line x1="153.33" y1="500" x2="153.33" y2="558.3" stroke="#3f8fd6" stroke-width="0.3" stroke-opacity="0.5"/>
<path d="M153.5 506.2L154 506.2L154.8 512.2L160.2 526.7L160.6 530.7L154.2 556.7L154 559.4L153.5 559.4Z" fill="#faefc2"/>
<path d="M154 506.2L154.8 512.2L160.2 526.7L160.6 530.7L154.2 556.7L154 559.4" fill="none" stroke="#efc63f" stroke-width="0.6" stroke-linejoin="round"/>
<line x1="153.63" y1="506.2" x2="153.63" y2="559.4" stroke="#efc63f" stroke-width="0.3" stroke-opacity="0.5"/>
<path d="M168.8 541.8L168.3 541.8L168.3 555.3L166.9 555.8L163.1 556.3L162.8 556.8L167.1 557.3L168.3 557.6L168.8 557.6Z" fill="#d5e8f8"/>
<path d="M168.3 541.8L168.3 555.3L166.9 555.8L163.1 556.3L162.8 556.8L167.1 557.3L168.3 557.6" fill="none" stroke="#3f8fd6" stroke-width="0.6" stroke-linejoin="round"/>
<line x1="168.69" y1="541.8" x2="168.69" y2="557.6" stroke="#3f8fd6" stroke-width="0.3" stroke-opacity="0.5"/>
<path d="M168.8 546.4L169.4 546.4L169.4 555.4L171.6 555.9L175.3 556.4L174.3 556.9L170 557.4L169.4 557.6L168.8 557.6Z" fill="#faefc2"/>
<path d="M169.4 546.4L169.4 555.4L171.6 555.9L175.3 556.4L174.3 556.9L170 557.4L169.4 557.6" fill="none" stroke="#efc63f" stroke-width="0.6" stroke-linejoin="round"/>
<line x1="168.99" y1="546.4" x2="168.99" y2="557.6" stroke="#efc63f" stroke-width="0.3" stroke-opacity="0.5"/>
<path d="M184.2 522L183.6 522L183.6 540.5L183 542.5L181.8 544.5L178.2 549L177.6 550L177.3 551L177.4 552L177.6 552.5L178.4 553.5L182 556.5L182.9 557.5L183.5 558.5L183.6 559L183.6 560.5L184.2 560.5Z" fill="#d5e8f8"/>
<path d="M183.6 522L183.6 540.5L183 542.5L181.8 544.5L178.2 549L177.6 550L177.3 551L177.4 552L177.6 552.5L178.4 553.5L182 556.5L182.9 557.5L183.5 558.5L183.6 559L183.6 560.5" fill="none" stroke="#3f8fd6" stroke-width="0.6" stroke-linejoin="round"/>
<line x1="184.05" y1="522" x2="184.05" y2="560.5" stroke="#3f8fd6" stroke-width="0.3" stroke-opacity="0.5"/>
<path d="M184.2 510.2L184.8 510.2L184.8 527.7L186.6 534.7L191.1 545.2L191.7 548.7L191.7 549.7L191.3 550.7L190.4 552.2L186.5 556.7L185.3 558.7L184.8 560.2L184.8 563.3L184.2 563.3Z" fill="#faefc2"/>
<path d="M184.8 510.2L184.8 527.7L186.6 534.7L191.1 545.2L191.7 548.7L191.7 549.7L191.3 550.7L190.4 552.2L186.5 556.7L185.3 558.7L184.8 560.2L184.8 563.3" fill="none" stroke="#efc63f" stroke-width="0.6" stroke-linejoin="round"/>
<line x1="184.35" y1="510.2" x2="184.35" y2="563.3" stroke="#efc63f" stroke-width="0.3" stroke-opacity="0.5"/>
<path d="M199.6 511.3L199 511.3L199 534.3L197.5 539.3L193.1 547.8L192.4 550.3L192.4 551.8L192.8 552.8L193.6 553.8L197.3 557.3L198.4 558.8L198.9 559.8L199 560.3L199 563.3L199.6 563.3Z" fill="#d5e8f8"/>
<path d="M199 511.3L199 534.3L197.5 539.3L193.1 547.8L192.4 550.3L192.4 551.8L192.8 552.8L193.6 553.8L197.3 557.3L198.4 558.8L198.9 559.8L199 560.3L199 563.3" fill="none" stroke="#3f8fd6" stroke-width="0.6" stroke-linejoin="round"/>
<line x1="199.41" y1="511.3" x2="199.41" y2="563.3" stroke="#3f8fd6" stroke-width="0.3" stroke-opacity="0.5"/>
<path d="M199.6 513L200.1 513L200.1 527.5L201.9 534.5L206.4 545L207 548.5L207 550L206.5 551.5L201.6 558.5L200.3 561.6L199.6 561.6Z" fill="#faefc2"/>
<path d="M200.1 513L200.1 527.5L201.9 534.5L206.4 545L207 548.5L207 550L206.5 551.5L201.6 558.5L200.3 561.6" fill="none" stroke="#efc63f" stroke-width="0.6" stroke-linejoin="round"/>
<line x1="199.71" y1="513" x2="199.71" y2="561.6" stroke="#efc63f" stroke-width="0.3" stroke-opacity="0.5"/>
<path d="M214.9 496.6L214.4 496.6L214.4 544.6L213.8 546.1L212.9 547.6L209.4 551.6L208.7 552.6L208.3 553.6L208.2 554.1L208.3 554.6L208.6 555.1L209.1 555.6L212.7 558.1L213.7 559.1L214.4 560.1L214.4 561.6L214.9 561.6Z" fill="#d5e8f8"/>
<path d="M214.4 496.6L214.4 544.6L213.8 546.1L212.9 547.6L209.4 551.6L208.7 552.6L208.3 553.6L208.2 554.1L208.3 554.6L208.6 555.1L209.1 555.6L212.7 558.1L213.7 559.1L214.4 560.1L214.4 561.6" fill="none" stroke="#3f8fd6" stroke-width="0.6" stroke-linejoin="round"/>
<line x1="214.77" y1="496.6" x2="214.77" y2="561.6" stroke="#3f8fd6" stroke-width="0.3" stroke-opacity="0.5"/>
<path d="M214.9 507.1L215.5 507.1L215.5 541.1L216.5 543.6L218.5 546.6L221.3 550.1L222.1 551.6L222.3 552.6L222.3 553.1L222.1 553.6L221.8 554.1L220.8 555.1L217.5 557.6L216.5 558.6L215.8 559.6L215.5 560.4L214.9 560.4Z" fill="#faefc2"/>
<path d="M215.5 507.1L215.5 541.1L216.5 543.6L218.5 546.6L221.3 550.1L222.1 551.6L222.3 552.6L222.3 553.1L222.1 553.6L221.8 554.1L220.8 555.1L217.5 557.6L216.5 558.6L215.8 559.6L215.5 560.4" fill="none" stroke="#efc63f" stroke-width="0.6" stroke-linejoin="round"/>
<line x1="215.07" y1="507.1" x2="215.07" y2="560.4" stroke="#efc63f" stroke-width="0.3" stroke-opacity="0.5"/>
<path d="M230.3 517.6L229.7 517.6L229.7 541.6L228.9 543.6L227.6 545.6L224.2 549.6L223.5 550.6L223.2 551.6L223.1 552.6L223.3 553.1L223.7 553.6L224.8 554.6L227.5 556.6L228.5 557.6L229.3 558.6L229.6 559.1L230.3 559.1Z" fill="#d5e8f8"/>
<path d="M229.7 517.6L229.7 541.6L228.9 543.6L227.6 545.6L224.2 549.6L223.5 550.6L223.2 551.6L223.1 552.6L223.3 553.1L223.7 553.6L224.8 554.6L227.5 556.6L228.5 557.6L229.3 558.6L229.6 559.1" fill="none" stroke="#3f8fd6" stroke-width="0.6" stroke-linejoin="round"/>
<line x1="230.13" y1="517.6" x2="230.13" y2="559.1" stroke="#3f8fd6" stroke-width="0.3" stroke-opacity="0.5"/>
<path d="M230.3 517.6L230.8 517.6L230.9 535.1L232.2 539.6L236.9 548.1L237.6 550.6L237.7 551.6L237.6 552.1L237.4 552.6L237 553.1L235.8 554.1L233.1 556.1L232 557.1L231.2 558.1L230.9 558.6L230.8 561.6L230.3 561.6Z" fill="#faefc2"/>
<path d="M230.8 517.6L230.9 535.1L232.2 539.6L236.9 548.1L237.6 550.6L237.7 551.6L237.6 552.1L237.4 552.6L237 553.1L235.8 554.1L233.1 556.1L232 557.1L231.2 558.1L230.9 558.6L230.8 561.6" fill="none" stroke="#efc63f" stroke-width="0.6" stroke-linejoin="round"/>
<line x1="230.43" y1="517.6" x2="230.43" y2="561.6" stroke="#efc63f" stroke-width="0.3" stroke-opacity="0.5"/>
<path d="M245.6 533.1L245.1 533.1L245.1 545.1L244.4 546.6L243.2 548.1L239.8 551.1L238.9 552.1L238.4 553.1L238.3 553.6L238.6 554.1L239.2 554.6L240.1 555.1L242.2 556.1L243.2 556.6L244 557.1L244.6 557.6L245 558.1L245.1 559.8L245.6 559.8Z" fill="#d5e8f8"/>
<path d="M245.1 533.1L245.1 545.1L244.4 546.6L243.2 548.1L239.8 551.1L238.9 552.1L238.4 553.1L238.3 553.6L238.6 554.1L239.2 554.6L240.1 555.1L242.2 556.1L243.2 556.6L244 557.1L244.6 557.6L245 558.1L245.1 559.8" fill="none" stroke="#3f8fd6" stroke-width="0.6" stroke-linejoin="round"/>
<line x1="245.49" y1="533.1" x2="245.49" y2="559.8" stroke="#3f8fd6" stroke-width="0.3" stroke-opacity="0.5"/>
<path d="M245.6 533.7L246.2 533.7L246.2 543.2L246.5 544.2L247.3 545.7L249 547.7L251.6 550.2L252.4 551.2L252.8 552.2L252.9 552.7L252.9 553.2L252.6 553.7L252.1 554.2L250.6 555.2L248.2 556.7L247 557.7L246.3 558.7L246.2 559.1L245.6 559.1Z" fill="#faefc2"/>
<path d="M246.2 533.7L246.2 543.2L246.5 544.2L247.3 545.7L249 547.7L251.6 550.2L252.4 551.2L252.8 552.2L252.9 552.7L252.9 553.2L252.6 553.7L252.1 554.2L250.6 555.2L248.2 556.7L247 557.7L246.3 558.7L246.2 559.1" fill="none" stroke="#efc63f" stroke-width="0.6" stroke-linejoin="round"/>
<line x1="245.79" y1="533.7" x2="245.79" y2="559.1" stroke="#efc63f" stroke-width="0.3" stroke-opacity="0.5"/>
<path d="M261 475.5L260.4 475.5L260.4 497L258.3 506L254.4 516.5L253.8 520.5L254.5 526L259.8 542.5L260.4 547L260.4 558.5L261 558.5Z" fill="#d5e8f8"/>
<path d="M260.4 475.5L260.4 497L258.3 506L254.4 516.5L253.8 520.5L254.5 526L259.8 542.5L260.4 547L260.4 558.5" fill="none" stroke="#3f8fd6" stroke-width="0.6" stroke-linejoin="round"/>
<line x1="260.85" y1="475.5" x2="260.85" y2="558.5" stroke="#3f8fd6" stroke-width="0.3" stroke-opacity="0.5"/>
<path d="M261 465L261.6 465L261.8 487.5L268.4 511L268.4 519.5L261.6 552L261.6 557.9L261 557.9Z" fill="#faefc2"/>
<path d="M261.6 465L261.8 487.5L268.4 511L268.4 519.5L261.6 552L261.6 557.9" fill="none" stroke="#efc63f" stroke-width="0.6" stroke-linejoin="round"/>
<line x1="261.15" y1="465" x2="261.15" y2="557.9" stroke="#efc63f" stroke-width="0.3" stroke-opacity="0.5"/>
<path d="M276.4 492.1L275.8 492.1L275.8 511.6L274.1 518.1L270.1 527.1L269.4 530.1L269.5 533.1L275.1 547.1L275.8 550.6L275.8 562.2L276.4 562.2Z" fill="#d5e8f8"/>
<path d="M275.8 492.1L275.8 511.6L274.1 518.1L270.1 527.1L269.4 530.1L269.5 533.1L275.1 547.1L275.8 550.6L275.8 562.2" fill="none" stroke="#3f8fd6" stroke-width="0.6" stroke-linejoin="round"/>
<line x1="276.21" y1="492.1" x2="276.21" y2="562.2" stroke="#3f8fd6" stroke-width="0.3" stroke-opacity="0.5"/>
<path d="M276.4 485.8L276.9 485.8L277 505.8L283.6 527.8L283.8 532.3L282.7 537.3L277.9 549.8L276.9 555.3L276.9 562.2L276.4 562.2Z" fill="#faefc2"/>
<path d="M276.9 485.8L277 505.8L283.6 527.8L283.8 532.3L282.7 537.3L277.9 549.8L276.9 555.3L276.9 562.2" fill="none" stroke="#efc63f" stroke-width="0.6" stroke-linejoin="round"/>
<line x1="276.51" y1="485.8" x2="276.51" y2="562.2" stroke="#efc63f" stroke-width="0.3" stroke-opacity="0.5"/>
<path d="M291.7 487L291.2 487L291.1 527.5L289.4 534.5L285 545L284.3 548.5L284.4 550L284.9 551.5L289.7 558.5L291 561.5L291.2 562.5L291.2 566.2L291.7 566.2Z" fill="#d5e8f8"/>
<path d="M291.2 487L291.1 527.5L289.4 534.5L285 545L284.3 548.5L284.4 550L284.9 551.5L289.7 558.5L291 561.5L291.2 562.5L291.2 566.2" fill="none" stroke="#3f8fd6" stroke-width="0.6" stroke-linejoin="round"/>
<line x1="291.57" y1="487" x2="291.57" y2="566.2" stroke="#3f8fd6" stroke-width="0.3" stroke-opacity="0.5"/>
<path d="M291.7 506.2L292.3 506.2L292.4 524.2L298.9 546.2L299.1 549.7L298.7 551.2L297.2 553.7L293.9 558.2L292.6 561.2L292.3 562.2L292.3 563.9L291.7 563.9Z" fill="#faefc2"/>
<path d="M292.3 506.2L292.4 524.2L298.9 546.2L299.1 549.7L298.7 551.2L297.2 553.7L293.9 558.2L292.6 561.2L292.3 562.2L292.3 563.9" fill="none" stroke="#efc63f" stroke-width="0.6" stroke-linejoin="round"/>
<line x1="291.87" y1="506.2" x2="291.87" y2="563.9" stroke="#efc63f" stroke-width="0.3" stroke-opacity="0.5"/>
<path d="M307.1 525.4L306.5 525.4L306.5 546.9L306.4 547.4L305.8 548.4L304.8 549.4L301.4 551.9L300.8 552.4L300.4 552.9L300.2 553.4L300.2 553.9L300.5 554.4L301 554.9L302.4 555.9L304.1 556.9L305.5 557.9L306 558.4L306.3 558.9L306.5 559.4L307.1 559.4Z" fill="#d5e8f8"/>
<path d="M306.5 525.4L306.5 546.9L306.4 547.4L305.8 548.4L304.8 549.4L301.4 551.9L300.8 552.4L300.4 552.9L300.2 553.4L300.2 553.9L300.5 554.4L301 554.9L302.4 555.9L304.1 556.9L305.5 557.9L306 558.4L306.3 558.9L306.5 559.4" fill="none" stroke="#3f8fd6" stroke-width="0.6" stroke-linejoin="round"/>
<line x1="306.93" y1="525.4" x2="306.93" y2="559.4" stroke="#3f8fd6" stroke-width="0.3" stroke-opacity="0.5"/>
<path d="M307.1 528.8L307.6 528.8L307.6 542.3L308.5 544.8L310.1 547.3L313.2 551.3L314 552.8L314.2 553.8L314.3 554.3L314.1 554.8L313.7 555.3L313 555.8L309.5 557.8L308.8 558.3L308.3 558.8L307.9 559.3L307.6 559.8L307.6 560.5L307.1 560.5Z" fill="#faefc2"/>
<path d="M307.6 528.8L307.6 542.3L308.5 544.8L310.1 547.3L313.2 551.3L314 552.8L314.2 553.8L314.3 554.3L314.1 554.8L313.7 555.3L313 555.8L309.5 557.8L308.8 558.3L308.3 558.8L307.9 559.3L307.6 559.8L307.6 560.5" fill="none" stroke="#efc63f" stroke-width="0.6" stroke-linejoin="round"/>
<line x1="307.23" y1="528.8" x2="307.23" y2="560.5" stroke="#efc63f" stroke-width="0.3" stroke-opacity="0.5"/>
<path d="M322.4 505.1L321.9 505.1L321.9 527.6L320.3 533.6L315.9 543.1L315.3 546.1L315.4 548.1L316 550.1L320.6 558.1L321.9 562.1L321.9 563.3L322.4 563.3Z" fill="#d5e8f8"/>
<path d="M321.9 505.1L321.9 527.6L320.3 533.6L315.9 543.1L315.3 546.1L315.4 548.1L316 550.1L320.6 558.1L321.9 562.1L321.9 563.3" fill="none" stroke="#3f8fd6" stroke-width="0.6" stroke-linejoin="round"/>
<line x1="322.29" y1="505.1" x2="322.29" y2="563.3" stroke="#3f8fd6" stroke-width="0.3" stroke-opacity="0.5"/>
<path d="M322.4 510.7L323 510.7L323.1 518.2L325.7 527.7L329.4 537.2L329.9 541.2L329.5 544.2L324 556.7L323.1 560.5L322.4 560.5Z" fill="#faefc2"/>
<path d="M323 510.7L323.1 518.2L325.7 527.7L329.4 537.2L329.9 541.2L329.5 544.2L324 556.7L323.1 560.5" fill="none" stroke="#efc63f" stroke-width="0.6" stroke-linejoin="round"/>
<line x1="322.59" y1="510.7" x2="322.59" y2="560.5" stroke="#efc63f" stroke-width="0.3" stroke-opacity="0.5"/>
<path d="M337.8 530L337.2 530L337.2 549L337.1 549.5L336.3 550.5L335.1 551.5L332.3 553.5L331.7 554L331.3 554.5L331.1 555L331.2 555.5L331.8 556L332.8 556.5L335.1 557.5L336.1 558L336.8 558.5L337.8 558.5Z" fill="#d5e8f8"/>
<path d="M337.2 530L337.2 549L337.1 549.5L336.3 550.5L335.1 551.5L332.3 553.5L331.7 554L331.3 554.5L331.1 555L331.2 555.5L331.8 556L332.8 556.5L335.1 557.5L336.1 558L336.8 558.5" fill="none" stroke="#3f8fd6" stroke-width="0.6" stroke-linejoin="round"/>
<line x1="337.65" y1="530" x2="337.65" y2="558.5" stroke="#3f8fd6" stroke-width="0.3" stroke-opacity="0.5"/>
<path d="M337.8 536.5L338.4 536.5L338.4 547L338.8 548L339.5 549L340.5 550L343.6 552.5L344.5 553.5L344.8 554L344.9 554.5L344.8 555L344.3 555.5L343.6 556L340.8 557.5L340 558L339.3 558.5L338.7 559.1L337.8 559.1Z" fill="#faefc2"/>
<path d="M338.4 536.5L338.4 547L338.8 548L339.5 549L340.5 550L343.6 552.5L344.5 553.5L344.8 554L344.9 554.5L344.8 555L344.3 555.5L343.6 556L340.8 557.5L340 558L339.3 558.5L338.7 559.1" fill="none" stroke="#efc63f" stroke-width="0.6" stroke-linejoin="round"/>
<line x1="337.95" y1="536.5" x2="337.95" y2="559.1" stroke="#efc63f" stroke-width="0.3" stroke-opacity="0.5"/>
<path d="M353.2 470.5L352.6 470.5L351.7 485.5L346.4 507L347.2 521L352.6 552.5L352.6 558.5L353.2 558.5Z" fill="#d5e8f8"/>
<path d="M352.6 470.5L351.7 485.5L346.4 507L347.2 521L352.6 552.5L352.6 558.5" fill="none" stroke="#3f8fd6" stroke-width="0.6" stroke-linejoin="round"/>
<line x1="353.01" y1="470.5" x2="353.01" y2="558.5" stroke="#3f8fd6" stroke-width="0.3" stroke-opacity="0.5"/>
<path d="M353.2 473.1L353.7 473.1L354.8 490.1L360.5 513.1L360.3 523.1L353.7 557.1L353.7 567.5L353.2 567.5Z" fill="#faefc2"/>
<path d="M353.7 473.1L354.8 490.1L360.5 513.1L360.3 523.1L353.7 557.1L353.7 567.5" fill="none" stroke="#efc63f" stroke-width="0.6" stroke-linejoin="round"/>
<line x1="353.31" y1="473.1" x2="353.31" y2="567.5" stroke="#efc63f" stroke-width="0.3" stroke-opacity="0.5"/>
<path d="M368.5 484.7L368 484.7L367.1 516.2L361.2 544.2L361.1 548.7L361.6 550.7L366.7 559.2L368 563.2L368 569.4L368.5 569.4Z" fill="#d5e8f8"/>
<path d="M368 484.7L367.1 516.2L361.2 544.2L361.1 548.7L361.6 550.7L366.7 559.2L368 563.2L368 569.4" fill="none" stroke="#3f8fd6" stroke-width="0.6" stroke-linejoin="round"/>
<line x1="368.37" y1="484.7" x2="368.37" y2="569.4" stroke="#3f8fd6" stroke-width="0.3" stroke-opacity="0.5"/>
<path d="M368.5 471.8L369.1 471.8L369.8 510.3L375.8 539.3L375.8 544.3L374.5 549.3L370.1 560.3L369.1 565.3L369.1 566.2L368.5 566.2Z" fill="#faefc2"/>
<path d="M369.1 471.8L369.8 510.3L375.8 539.3L375.8 544.3L374.5 549.3L370.1 560.3L369.1 565.3L369.1 566.2" fill="none" stroke="#efc63f" stroke-width="0.6" stroke-linejoin="round"/>
<line x1="368.67" y1="471.8" x2="368.67" y2="566.2" stroke="#efc63f" stroke-width="0.3" stroke-opacity="0.5"/>
<path d="M383.9 524.2L383.3 524.2L383.3 530.7L382.3 534.2L377.6 542.2L376.9 544.2L376.8 545.7L377 546.7L377.6 547.7L381.6 552.2L382.9 554.2L383.2 555.2L383.3 557.2L383.9 557.2Z" fill="#d5e8f8"/>
<path d="M383.3 524.2L383.3 530.7L382.3 534.2L377.6 542.2L376.9 544.2L376.8 545.7L377 546.7L377.6 547.7L381.6 552.2L382.9 554.2L383.2 555.2L383.3 557.2" fill="none" stroke="#3f8fd6" stroke-width="0.6" stroke-linejoin="round"/>
<line x1="383.73" y1="524.2" x2="383.73" y2="557.2" stroke="#3f8fd6" stroke-width="0.3" stroke-opacity="0.5"/>
<path d="M383.9 528.7L384.7 528.7L386 531.7L389.8 537.7L390.6 539.7L390.8 541.2L390.5 542.7L389.3 545.2L385.8 550.7L384.5 554.2L384.4 555.9L383.9 555.9Z" fill="#faefc2"/>
<path d="M384.7 528.7L386 531.7L389.8 537.7L390.6 539.7L390.8 541.2L390.5 542.7L389.3 545.2L385.8 550.7L384.5 554.2L384.4 555.9" fill="none" stroke="#efc63f" stroke-width="0.6" stroke-linejoin="round"/>
<line x1="384.03" y1="528.7" x2="384.03" y2="555.9" stroke="#efc63f" stroke-width="0.3" stroke-opacity="0.5"/>
<path d="M399.2 511.9L398.7 511.9L398.7 528.4L396.7 536.4L392.7 546.4L392.1 549.9L392.1 551.4L392.6 552.9L397.2 559.4L398 561L399.2 561Z" fill="#d5e8f8"/>
<path d="M398.7 511.9L398.7 528.4L396.7 536.4L392.7 546.4L392.1 549.9L392.1 551.4L392.6 552.9L397.2 559.4L398 561" fill="none" stroke="#3f8fd6" stroke-width="0.6" stroke-linejoin="round"/>
<line x1="399.09" y1="511.9" x2="399.09" y2="561" stroke="#3f8fd6" stroke-width="0.3" stroke-opacity="0.5"/>
<path d="M399.2 499L399.8 499L400.1 518L406.6 542L406.8 546L406.3 548.5L401.1 558.5L399.8 563L399.8 566.2L399.2 566.2Z" fill="#faefc2"/>
<path d="M399.8 499L400.1 518L406.6 542L406.8 546L406.3 548.5L401.1 558.5L399.8 563L399.8 566.2" fill="none" stroke="#efc63f" stroke-width="0.6" stroke-linejoin="round"/>
<line x1="399.39" y1="499" x2="399.39" y2="566.2" stroke="#efc63f" stroke-width="0.3" stroke-opacity="0.5"/>
<path d="M414.6 509.3L414.1 509.3L413.9 514.8L411.7 522.8L407.8 532.3L407.2 535.8L407.3 537.8L408.1 539.8L412.7 547.3L414 551.3L414.1 560.4L414.6 560.4Z" fill="#d5e8f8"/>
<path d="M414.1 509.3L413.9 514.8L411.7 522.8L407.8 532.3L407.2 535.8L407.3 537.8L408.1 539.8L412.7 547.3L414 551.3L414.1 560.4" fill="none" stroke="#3f8fd6" stroke-width="0.6" stroke-linejoin="round"/>
<line x1="414.45" y1="509.3" x2="414.45" y2="560.4" stroke="#3f8fd6" stroke-width="0.3" stroke-opacity="0.5"/>
<path d="M414.6 502.2L415.2 502.2L415.2 512.7L416.4 517.2L421.3 526.7L422 529.2L421.9 531.7L420.6 535.7L416.4 544.7L415.2 549.7L415.2 554.6L414.6 554.6Z" fill="#faefc2"/>
<path d="M415.2 502.2L415.2 512.7L416.4 517.2L421.3 526.7L422 529.2L421.9 531.7L420.6 535.7L416.4 544.7L415.2 549.7L415.2 554.6" fill="none" stroke="#efc63f" stroke-width="0.6" stroke-linejoin="round"/>
<line x1="414.75" y1="502.2" x2="414.75" y2="554.6" stroke="#efc63f" stroke-width="0.3" stroke-opacity="0.5"/>
<path d="M430 530L429.4 530L429.4 543L428.6 545L427 547.5L424.1 551L423.2 552.5L423 553.5L423 554L423.1 554.5L423.5 555L424 555.5L427.6 558L428.6 559L429.1 559.7L430 559.7Z" fill="#d5e8f8"/>
<path d="M429.4 530L429.4 543L428.6 545L427 547.5L424.1 551L423.2 552.5L423 553.5L423 554L423.1 554.5L423.5 555L424 555.5L427.6 558L428.6 559L429.1 559.7" fill="none" stroke="#3f8fd6" stroke-width="0.6" stroke-linejoin="round"/>
<line x1="429.81" y1="530" x2="429.81" y2="559.7" stroke="#3f8fd6" stroke-width="0.3" stroke-opacity="0.5"/>
<path d="M430 515.1L430.5 515.1L430.6 537.1L431.7 540.6L436.5 548.6L437.3 550.6L437.5 552.1L437.4 552.6L436.8 553.6L435.9 554.6L432.5 557.6L431.3 559.1L430.6 560.4L430 560.4Z" fill="#faefc2"/>
<path d="M430.5 515.1L430.6 537.1L431.7 540.6L436.5 548.6L437.3 550.6L437.5 552.1L437.4 552.6L436.8 553.6L435.9 554.6L432.5 557.6L431.3 559.1L430.6 560.4" fill="none" stroke="#efc63f" stroke-width="0.6" stroke-linejoin="round"/>
<line x1="430.11" y1="515.1" x2="430.11" y2="560.4" stroke="#efc63f" stroke-width="0.3" stroke-opacity="0.5"/>
<path d="M445.3 553.3L444.8 553.3L444.8 554.3L444.6 554.8L441.6 555.3L438.1 555.8L439.9 556.3L443.8 556.8L444.8 557.2L445.3 557.2Z" fill="#d5e8f8"/>
<path d="M444.8 553.3L444.8 554.3L444.6 554.8L441.6 555.3L438.1 555.8L439.9 556.3L443.8 556.8L444.8 557.2" fill="none" stroke="#3f8fd6" stroke-width="0.6" stroke-linejoin="round"/>
<line x1="445.17" y1="553.3" x2="445.17" y2="557.2" stroke="#3f8fd6" stroke-width="0.3" stroke-opacity="0.5"/>
<path d="M445.3 541.6L445.9 541.6L445.9 554.1L446.4 554.6L450 555.1L452.8 555.6L450.6 556.1L447.1 556.6L445.9 557.1L445.9 557.4L445.3 557.4Z" fill="#faefc2"/>
<path d="M445.9 541.6L445.9 554.1L446.4 554.6L450 555.1L452.8 555.6L450.6 556.1L447.1 556.6L445.9 557.1L445.9 557.4" fill="none" stroke="#efc63f" stroke-width="0.6" stroke-linejoin="round"/>
<line x1="445.47" y1="541.6" x2="445.47" y2="557.4" stroke="#efc63f" stroke-width="0.3" stroke-opacity="0.5"/>
<path d="M460.7 506.7L460.1 506.7L460.1 510.2L458.4 516.7L454.2 526.2L453.6 529.2L453.7 531.7L455 535.2L458.8 542.7L460.1 547.2L460.1 559.7L460.7 559.7Z" fill="#d5e8f8"/>
<path d="M460.1 506.7L460.1 510.2L458.4 516.7L454.2 526.2L453.6 529.2L453.7 531.7L455 535.2L458.8 542.7L460.1 547.2L460.1 559.7" fill="none" stroke="#3f8fd6" stroke-width="0.6" stroke-linejoin="round"/>
<line x1="460.53" y1="506.7" x2="460.53" y2="559.7" stroke="#3f8fd6" stroke-width="0.3" stroke-opacity="0.5"/>
<path d="M460.7 502.2L461.2 502.2L461.2 510.2L462.7 515.2L467 523.7L467.7 526.2L467.6 529.2L462 543.7L461.3 547.2L461.2 561L460.7 561Z" fill="#faefc2"/>
<path d="M461.2 502.2L461.2 510.2L462.7 515.2L467 523.7L467.7 526.2L467.6 529.2L462 543.7L461.3 547.2L461.2 561" fill="none" stroke="#efc63f" stroke-width="0.6" stroke-linejoin="round"/>
<line x1="460.83" y1="502.2" x2="460.83" y2="561" stroke="#efc63f" stroke-width="0.3" stroke-opacity="0.5"/>
<path d="M476 516.4L475.5 516.4L475.4 529.9L474 534.9L469.8 543.4L469.2 545.9L469.2 547.4L469.6 548.9L474.3 555.9L475.4 558.9L475.5 560.4L476 560.4Z" fill="#d5e8f8"/>
<path d="M475.5 516.4L475.4 529.9L474 534.9L469.8 543.4L469.2 545.9L469.2 547.4L469.6 548.9L474.3 555.9L475.4 558.9L475.5 560.4" fill="none" stroke="#3f8fd6" stroke-width="0.6" stroke-linejoin="round"/>
<line x1="475.89" y1="516.4" x2="475.89" y2="560.4" stroke="#3f8fd6" stroke-width="0.3" stroke-opacity="0.5"/>
<path d="M476 526.1L476.6 526.1L476.7 529.6L477.8 533.1L482.7 541.1L483.3 543.1L483.4 544.6L483 546.6L478 555.1L476.8 558.5L476 558.5Z" fill="#faefc2"/>
<path d="M476.6 526.1L476.7 529.6L477.8 533.1L482.7 541.1L483.3 543.1L483.4 544.6L483 546.6L478 555.1L476.8 558.5" fill="none" stroke="#efc63f" stroke-width="0.6" stroke-linejoin="round"/>
<line x1="476.19" y1="526.1" x2="476.19" y2="558.5" stroke="#efc63f" stroke-width="0.3" stroke-opacity="0.5"/>
<path d="M491.4 517.7L490.8 517.7L490.8 529.7L489.2 535.7L484.6 545.7L484 548.7L484.1 550.2L484.6 551.7L489.3 558.2L490.5 560.7L490.8 562.2L490.8 563L491.4 563Z" fill="#d5e8f8"/>
<path d="M490.8 517.7L490.8 529.7L489.2 535.7L484.6 545.7L484 548.7L484.1 550.2L484.6 551.7L489.3 558.2L490.5 560.7L490.8 562.2L490.8 563" fill="none" stroke="#3f8fd6" stroke-width="0.6" stroke-linejoin="round"/>
<line x1="491.25" y1="517.7" x2="491.25" y2="563" stroke="#3f8fd6" stroke-width="0.3" stroke-opacity="0.5"/>
<path d="M491.4 512.5L491.9 512.5L492.5 522L498.6 542L498.9 546L498.4 548.5L493.2 558.5L492 563L491.9 564.3L491.4 564.3Z" fill="#faefc2"/>
<path d="M491.9 512.5L492.5 522L498.6 542L498.9 546L498.4 548.5L493.2 558.5L492 563L491.9 564.3" fill="none" stroke="#efc63f" stroke-width="0.6" stroke-linejoin="round"/>
<line x1="491.55" y1="512.5" x2="491.55" y2="564.3" stroke="#efc63f" stroke-width="0.3" stroke-opacity="0.5"/>
<path d="M506.8 515.8L506.2 515.8L505.2 525.8L499.9 542.8L499.6 547.3L500.1 549.8L505.2 560.3L506.2 564.3L506.2 564.9L506.8 564.9Z" fill="#d5e8f8"/>
<path d="M506.2 515.8L505.2 525.8L499.9 542.8L499.6 547.3L500.1 549.8L505.2 560.3L506.2 564.3L506.2 564.9" fill="none" stroke="#3f8fd6" stroke-width="0.6" stroke-linejoin="round"/>
<line x1="506.61" y1="515.8" x2="506.61" y2="564.9" stroke="#3f8fd6" stroke-width="0.3" stroke-opacity="0.5"/>
<path d="M506.8 506.1L507.3 506.1L507.5 515.6L513.5 536.1L513.7 541.1L507.6 564.1L507.4 565.6L506.8 565.6Z" fill="#faefc2"/>
<path d="M507.3 506.1L507.5 515.6L513.5 536.1L513.7 541.1L507.6 564.1L507.4 565.6" fill="none" stroke="#efc63f" stroke-width="0.6" stroke-linejoin="round"/>
<line x1="506.91" y1="506.1" x2="506.91" y2="565.6" stroke="#efc63f" stroke-width="0.3" stroke-opacity="0.5"/>
<path d="M522.1 524.4L521.6 524.4L521.6 546.4L521.5 546.9L520.7 548.4L519.4 549.9L516.1 552.9L515.4 553.9L515.2 554.4L515.1 554.9L515.4 555.4L516.1 555.9L517 556.4L519.3 557.4L520.2 557.9L520.9 558.4L521.4 558.9L521.6 559.3L522.1 559.3Z" fill="#d5e8f8"/>
<path d="M521.6 524.4L521.6 546.4L521.5 546.9L520.7 548.4L519.4 549.9L516.1 552.9L515.4 553.9L515.2 554.4L515.1 554.9L515.4 555.4L516.1 555.9L517 556.4L519.3 557.4L520.2 557.9L520.9 558.4L521.4 558.9L521.6 559.3" fill="none" stroke="#3f8fd6" stroke-width="0.6" stroke-linejoin="round"/>
<line x1="521.97" y1="524.4" x2="521.97" y2="559.3" stroke="#3f8fd6" stroke-width="0.3" stroke-opacity="0.5"/>
<path d="M522.1 534.6L522.7 534.6L522.7 541.6L523.5 544.1L525.2 547.1L528.2 551.1L528.9 552.6L529.2 554.1L529.1 554.6L528.8 555.1L528.2 555.6L524.9 557.6L524.1 558.1L523.6 558.6L522.8 559.6L522.7 560.7L522.1 560.7Z" fill="#faefc2"/>
<path d="M522.7 534.6L522.7 541.6L523.5 544.1L525.2 547.1L528.2 551.1L528.9 552.6L529.2 554.1L529.1 554.6L528.8 555.1L528.2 555.6L524.9 557.6L524.1 558.1L523.6 558.6L522.8 559.6L522.7 560.7" fill="none" stroke="#efc63f" stroke-width="0.6" stroke-linejoin="round"/>
<line x1="522.27" y1="534.6" x2="522.27" y2="560.7" stroke="#efc63f" stroke-width="0.3" stroke-opacity="0.5"/>
<path d="M537.5 527.3L536.9 527.3L536.9 542.3L536.2 544.3L534.9 546.3L530.9 550.8L530.3 551.8L530 552.8L529.9 553.8L530.3 554.3L530.9 554.8L534.4 556.8L535.2 557.3L535.8 557.8L536.3 558.3L536.7 558.8L536.9 559.3L536.9 560L537.5 560Z" fill="#d5e8f8"/>
<path d="M536.9 527.3L536.9 542.3L536.2 544.3L534.9 546.3L530.9 550.8L530.3 551.8L530 552.8L529.9 553.8L530.3 554.3L530.9 554.8L534.4 556.8L535.2 557.3L535.8 557.8L536.3 558.3L536.7 558.8L536.9 559.3L536.9 560" fill="none" stroke="#3f8fd6" stroke-width="0.6" stroke-linejoin="round"/>
<line x1="537.33" y1="527.3" x2="537.33" y2="560" stroke="#3f8fd6" stroke-width="0.3" stroke-opacity="0.5"/>
<path d="M537.5 520.7L538 520.7L538 532.2L539.6 538.2L544.2 548.2L544.8 551.2L544.9 552.2L544.8 552.7L544.2 553.7L542.6 555.2L540.3 557.2L539 558.7L538.1 560.2L538 560.7L537.5 560.7Z" fill="#faefc2"/>
<path d="M538 520.7L538 532.2L539.6 538.2L544.2 548.2L544.8 551.2L544.9 552.2L544.8 552.7L544.2 553.7L542.6 555.2L540.3 557.2L539 558.7L538.1 560.2L538 560.7" fill="none" stroke="#efc63f" stroke-width="0.6" stroke-linejoin="round"/>
<line x1="537.63" y1="520.7" x2="537.63" y2="560.7" stroke="#efc63f" stroke-width="0.3" stroke-opacity="0.5"/>
<path d="M552.8 536L552.3 536L552.3 545L551.6 546.5L550.4 548L546.7 551.5L546 552.5L545.8 553L545.7 553.5L545.9 554L546.3 554.5L546.9 555L550.3 557L550.9 557.5L551.5 558L552.3 559L552.3 559.3L552.8 559.3Z" fill="#d5e8f8"/>
<path d="M552.3 536L552.3 545L551.6 546.5L550.4 548L546.7 551.5L546 552.5L545.8 553L545.7 553.5L545.9 554L546.3 554.5L546.9 555L550.3 557L550.9 557.5L551.5 558L552.3 559L552.3 559.3" fill="none" stroke="#3f8fd6" stroke-width="0.6" stroke-linejoin="round"/>
<line x1="552.69" y1="536" x2="552.69" y2="559.3" stroke="#3f8fd6" stroke-width="0.3" stroke-opacity="0.5"/>
<path d="M552.8 522.2L553.4 522.2L553.4 537.2L554.6 541.2L559.6 549.7L560.2 551.7L560.2 552.7L560.1 553.2L559.9 553.7L559.4 554.2L558.2 555.2L555.5 557.2L554.4 558.2L553.7 559.2L553.4 560L552.8 560Z" fill="#faefc2"/>
<path d="M553.4 522.2L553.4 537.2L554.6 541.2L559.6 549.7L560.2 551.7L560.2 552.7L560.1 553.2L559.9 553.7L559.4 554.2L558.2 555.2L555.5 557.2L554.4 558.2L553.7 559.2L553.4 560" fill="none" stroke="#efc63f" stroke-width="0.6" stroke-linejoin="round"/>
<line x1="552.99" y1="522.2" x2="552.99" y2="560" stroke="#efc63f" stroke-width="0.3" stroke-opacity="0.5"/>
<path d="M568.2 511.3L567.7 511.3L567.2 519.3L561.2 538.3L560.8 542.3L561.4 545.3L566.5 556.8L567.4 560L568.2 560Z" fill="#d5e8f8"/>
<path d="M567.7 511.3L567.2 519.3L561.2 538.3L560.8 542.3L561.4 545.3L566.5 556.8L567.4 560" fill="none" stroke="#3f8fd6" stroke-width="0.6" stroke-linejoin="round"/>
<line x1="568.05" y1="511.3" x2="568.05" y2="560" stroke="#3f8fd6" stroke-width="0.3" stroke-opacity="0.5"/>
<path d="M568.2 509.1L568.8 509.1L568.8 513.6L570.6 521.1L575.1 531.6L575.8 535.1L575.5 538.6L569.5 554.6L568.8 558.6L568.8 560.7L568.2 560.7Z" fill="#faefc2"/>
<path d="M568.8 509.1L568.8 513.6L570.6 521.1L575.1 531.6L575.8 535.1L575.5 538.6L569.5 554.6L568.8 558.6L568.8 560.7" fill="none" stroke="#efc63f" stroke-width="0.6" stroke-linejoin="round"/>
<line x1="568.35" y1="509.1" x2="568.35" y2="560.7" stroke="#efc63f" stroke-width="0.3" stroke-opacity="0.5"/>
<path d="M583.6 450.9L583 450.9L582.5 494.9L576.5 521.9L576.6 528.4L582.7 551.4L583 566.2L583.6 566.2Z" fill="#d5e8f8"/>
<path d="M583 450.9L582.5 494.9L576.5 521.9L576.6 528.4L582.7 551.4L583 566.2" fill="none" stroke="#3f8fd6" stroke-width="0.6" stroke-linejoin="round"/>
<line x1="583.41" y1="450.9" x2="583.41" y2="566.2" stroke="#3f8fd6" stroke-width="0.3" stroke-opacity="0.5"/>
<path d="M583.6 461.8L584.1 461.8L584.5 489.8L590.6 515.3L590.5 522.3L584.4 548.3L584.1 557L583.6 557Z" fill="#faefc2"/>
<path d="M584.1 461.8L584.5 489.8L590.6 515.3L590.5 522.3L584.4 548.3L584.1 557" fill="none" stroke="#efc63f" stroke-width="0.6" stroke-linejoin="round"/>
<line x1="583.71" y1="461.8" x2="583.71" y2="557" stroke="#efc63f" stroke-width="0.3" stroke-opacity="0.5"/>
<path d="M598.9 553.6L598.4 553.6L598.4 555.6L596.5 556.1L591.7 556.6L596.5 557.1L598.4 557.4L598.9 557.4Z" fill="#d5e8f8"/>
<path d="M598.4 553.6L598.4 555.6L596.5 556.1L591.7 556.6L596.5 557.1L598.4 557.4" fill="none" stroke="#3f8fd6" stroke-width="0.6" stroke-linejoin="round"/>
<line x1="598.77" y1="553.6" x2="598.77" y2="557.4" stroke="#3f8fd6" stroke-width="0.3" stroke-opacity="0.5"/>
<path d="M598.9 552L599.5 552L599.5 555.5L600.4 556L605.6 556.5L602.4 557L599.5 557.4L598.9 557.4Z" fill="#faefc2"/>
<path d="M599.5 552L599.5 555.5L600.4 556L605.6 556.5L602.4 557L599.5 557.4" fill="none" stroke="#efc63f" stroke-width="0.6" stroke-linejoin="round"/>
<line x1="599.07" y1="552" x2="599.07" y2="557.4" stroke="#efc63f" stroke-width="0.3" stroke-opacity="0.5"/>
<path d="M614.3 498.5L613.7 498.5L613.6 512.5L607.3 533.5L607 537.5L607.6 540.5L612.6 551.5L613.7 556L613.7 562.8L614.3 562.8Z" fill="#d5e8f8"/>
<path d="M613.7 498.5L613.6 512.5L607.3 533.5L607 537.5L607.6 540.5L612.6 551.5L613.7 556L613.7 562.8" fill="none" stroke="#3f8fd6" stroke-width="0.6" stroke-linejoin="round"/>
<line x1="614.13" y1="498.5" x2="614.13" y2="562.8" stroke="#3f8fd6" stroke-width="0.3" stroke-opacity="0.5"/>
<path d="M614.3 504.3L614.8 504.3L616.2 513.3L621 527.8L621.5 532.3L620.8 536.3L615.7 549.8L614.8 554.3L614.8 560.3L614.3 560.3Z" fill="#faefc2"/>
<path d="M614.8 504.3L616.2 513.3L621 527.8L621.5 532.3L620.8 536.3L615.7 549.8L614.8 554.3L614.8 560.3" fill="none" stroke="#efc63f" stroke-width="0.6" stroke-linejoin="round"/>
<line x1="614.43" y1="504.3" x2="614.43" y2="560.3" stroke="#efc63f" stroke-width="0.3" stroke-opacity="0.5"/>
<path d="M629.6 554.5L629.1 554.5L629.1 555L628.8 555.5L623.4 556L624.6 556.5L629.1 557L629.6 557Z" fill="#d5e8f8"/>
<path d="M629.1 554.5L629.1 555L628.8 555.5L623.4 556L624.6 556.5L629.1 557" fill="none" stroke="#3f8fd6" stroke-width="0.6" stroke-linejoin="round"/>
<line x1="629.49" y1="554.5" x2="629.49" y2="557" stroke="#3f8fd6" stroke-width="0.3" stroke-opacity="0.5"/>
<path d="M629.6 548.1L630.2 548.1L630.2 555.1L631.2 555.6L636.7 556.1L633.3 556.6L630.2 557L629.6 557Z" fill="#faefc2"/>
<path d="M630.2 548.1L630.2 555.1L631.2 555.6L636.7 556.1L633.3 556.6L630.2 557" fill="none" stroke="#efc63f" stroke-width="0.6" stroke-linejoin="round"/>
<line x1="629.79" y1="548.1" x2="629.79" y2="557" stroke="#efc63f" stroke-width="0.3" stroke-opacity="0.5"/>
<path d="M645 512.8L644.3 512.8L642 521.3L638.2 530.8L637.6 534.8L637.9 537.8L643.5 550.8L644.5 555.3L644.5 559.3L645 559.3Z" fill="#d5e8f8"/>
<path d="M644.3 512.8L642 521.3L638.2 530.8L637.6 534.8L637.9 537.8L643.5 550.8L644.5 555.3L644.5 559.3" fill="none" stroke="#3f8fd6" stroke-width="0.6" stroke-linejoin="round"/>
<line x1="644.85" y1="512.8" x2="644.85" y2="559.3" stroke="#3f8fd6" stroke-width="0.3" stroke-opacity="0.5"/>
<path d="M645 505.9L645.7 505.9L652.1 528.4L652.3 533.4L646 555.4L645.5 559.3L645 559.3Z" fill="#faefc2"/>
<path d="M645.7 505.9L652.1 528.4L652.3 533.4L646 555.4L645.5 559.3" fill="none" stroke="#efc63f" stroke-width="0.6" stroke-linejoin="round"/>
<line x1="645.15" y1="505.9" x2="645.15" y2="559.3" stroke="#efc63f" stroke-width="0.3" stroke-opacity="0.5"/>
<path d="M660.4 536L659.8 536L659.8 545L659.1 546.5L657.9 548L654.5 551L653.7 552L653.4 552.5L653.3 553L653.3 553.5L653.5 554L653.8 554.5L655 555.5L657.9 557.5L659 558.5L659.5 559.3L660.4 559.3Z" fill="#d5e8f8"/>
<path d="M659.8 536L659.8 545L659.1 546.5L657.9 548L654.5 551L653.7 552L653.4 552.5L653.3 553L653.3 553.5L653.5 554L653.8 554.5L655 555.5L657.9 557.5L659 558.5L659.5 559.3" fill="none" stroke="#3f8fd6" stroke-width="0.6" stroke-linejoin="round"/>
<line x1="660.21" y1="536" x2="660.21" y2="559.3" stroke="#3f8fd6" stroke-width="0.3" stroke-opacity="0.5"/>
<path d="M660.4 522.2L660.9 522.2L660.9 534.2L662.4 540.2L666.9 550.2L667.5 553.2L667.6 554.2L667.4 554.7L667.1 555.2L666.6 555.7L663.1 558.2L662 559.2L661.2 560.2L660.4 560.2Z" fill="#faefc2"/>
<path d="M660.9 522.2L660.9 534.2L662.4 540.2L666.9 550.2L667.5 553.2L667.6 554.2L667.4 554.7L667.1 555.2L666.6 555.7L663.1 558.2L662 559.2L661.2 560.2" fill="none" stroke="#efc63f" stroke-width="0.6" stroke-linejoin="round"/>
<line x1="660.51" y1="522.2" x2="660.51" y2="560.2" stroke="#efc63f" stroke-width="0.3" stroke-opacity="0.5"/>
<path d="M675.7 549L675.2 549L675.2 555L673.9 555.5L669.5 556L669.9 556.5L673.7 557L675.2 557.5L675.2 557.6L675.7 557.6Z" fill="#d5e8f8"/>
<path d="M675.2 549L675.2 555L673.9 555.5L669.5 556L669.9 556.5L673.7 557L675.2 557.5L675.2 557.6" fill="none" stroke="#3f8fd6" stroke-width="0.6" stroke-linejoin="round"/>
<line x1="675.57" y1="549" x2="675.57" y2="557.6" stroke="#3f8fd6" stroke-width="0.3" stroke-opacity="0.5"/>
<path d="M675.7 530.9L676.3 530.9L676.3 548.9L676.8 549.9L677.6 550.9L678.8 551.9L681.5 553.9L682.5 554.9L682.9 555.4L683.1 555.9L682.7 556.4L679.4 556.9L676.7 557.4L676.3 557.8L675.7 557.8Z" fill="#faefc2"/>
<path d="M676.3 530.9L676.3 548.9L676.8 549.9L677.6 550.9L678.8 551.9L681.5 553.9L682.5 554.9L682.9 555.4L683.1 555.9L682.7 556.4L679.4 556.9L676.7 557.4L676.3 557.8" fill="none" stroke="#efc63f" stroke-width="0.6" stroke-linejoin="round"/>
<line x1="675.87" y1="530.9" x2="675.87" y2="557.8" stroke="#efc63f" stroke-width="0.3" stroke-opacity="0.5"/>
<line x1="28.9" y1="544.1" x2="28.9" y2="557.7" stroke="#000" stroke-width="1.0" stroke-opacity="0.9"/>
<circle cx="28.9" cy="550.9" r="1.25" fill="#000"/>
<line x1="31.9" y1="537.9" x2="31.9" y2="557.7" stroke="#000" stroke-width="1.0" stroke-opacity="0.9"/>
<circle cx="31.9" cy="547.8" r="1.25" fill="#000"/>
<line x1="44.26" y1="542.9" x2="44.26" y2="553.7" stroke="#000" stroke-width="1.0" stroke-opacity="0.9"/>
<circle cx="44.26" cy="548.3" r="1.25" fill="#000"/>
<line x1="47.26" y1="539.8" x2="47.26" y2="552.2" stroke="#000" stroke-width="1.0" stroke-opacity="0.9"/>
<circle cx="47.26" cy="546" r="1.25" fill="#000"/>
<line x1="59.62" y1="518.1" x2="59.62" y2="527.1" stroke="#000" stroke-width="1.0" stroke-opacity="0.9"/>
<circle cx="59.62" cy="522.6" r="1.25" fill="#000"/>
<line x1="62.62" y1="517.3" x2="62.62" y2="529.1" stroke="#000" stroke-width="1.0" stroke-opacity="0.9"/>
<circle cx="62.62" cy="523.2" r="1.25" fill="#000"/>
<line x1="74.98" y1="511.9" x2="74.98" y2="531.7" stroke="#000" stroke-width="1.0" stroke-opacity="0.9"/>
<circle cx="74.98" cy="521.8" r="1.25" fill="#000"/>
<line x1="77.98" y1="510.5" x2="77.98" y2="530.9" stroke="#000" stroke-width="1.0" stroke-opacity="0.9"/>
<circle cx="77.98" cy="520.7" r="1.25" fill="#000"/>
<line x1="90.34" y1="551.8" x2="90.34" y2="556.8" stroke="#000" stroke-width="1.0" stroke-opacity="0.9"/>
<circle cx="90.34" cy="554.3" r="1.25" fill="#000"/>
<line x1="93.34" y1="548.1" x2="93.34" y2="557.1" stroke="#000" stroke-width="1.0" stroke-opacity="0.9"/>
<circle cx="93.34" cy="552.6" r="1.25" fill="#000"/>
<line x1="105.7" y1="530.8" x2="105.7" y2="548.8" stroke="#000" stroke-width="1.0" stroke-opacity="0.9"/>
<circle cx="105.7" cy="539.8" r="1.25" fill="#000"/>
<line x1="108.7" y1="527.7" x2="108.7" y2="546.9" stroke="#000" stroke-width="1.0" stroke-opacity="0.9"/>
<circle cx="108.7" cy="537.3" r="1.25" fill="#000"/>
<line x1="121.06" y1="497.2" x2="121.06" y2="513" stroke="#000" stroke-width="1.0" stroke-opacity="0.9"/>
<circle cx="121.06" cy="505.1" r="1.25" fill="#000"/>
<line x1="124.06" y1="498.6" x2="124.06" y2="515.6" stroke="#000" stroke-width="1.0" stroke-opacity="0.9"/>
<circle cx="124.06" cy="507.1" r="1.25" fill="#000"/>
<line x1="136.42" y1="544.1" x2="136.42" y2="557.7" stroke="#000" stroke-width="1.0" stroke-opacity="0.9"/>
<circle cx="136.42" cy="550.9" r="1.25" fill="#000"/>
<line x1="139.42" y1="543.3" x2="139.42" y2="558.5" stroke="#000" stroke-width="1.0" stroke-opacity="0.9"/>
<circle cx="139.42" cy="550.9" r="1.25" fill="#000"/>
<line x1="151.78" y1="528.3" x2="151.78" y2="543.5" stroke="#000" stroke-width="1.0" stroke-opacity="0.9"/>
<circle cx="151.78" cy="535.9" r="1.25" fill="#000"/>
<line x1="154.78" y1="526" x2="154.78" y2="541.8" stroke="#000" stroke-width="1.0" stroke-opacity="0.9"/>
<circle cx="154.78" cy="533.9" r="1.25" fill="#000"/>
<circle cx="167.14" cy="556.2" r="1.25" fill="#000"/>
<circle cx="170.14" cy="556.2" r="1.25" fill="#000"/>
<line x1="182.5" y1="542.9" x2="182.5" y2="554.3" stroke="#000" stroke-width="1.0" stroke-opacity="0.9"/>
<circle cx="182.5" cy="548.6" r="1.25" fill="#000"/>
<line x1="185.5" y1="538.2" x2="185.5" y2="553" stroke="#000" stroke-width="1.0" stroke-opacity="0.9"/>
<circle cx="185.5" cy="545.6" r="1.25" fill="#000"/>
<line x1="197.86" y1="539.6" x2="197.86" y2="553.8" stroke="#000" stroke-width="1.0" stroke-opacity="0.9"/>
<circle cx="197.86" cy="546.7" r="1.25" fill="#000"/>
<line x1="200.86" y1="539.6" x2="200.86" y2="553.8" stroke="#000" stroke-width="1.0" stroke-opacity="0.9"/>
<circle cx="200.86" cy="546.7" r="1.25" fill="#000"/>
<line x1="213.22" y1="538.1" x2="213.22" y2="559.1" stroke="#000" stroke-width="1.0" stroke-opacity="0.9"/>
<circle cx="213.22" cy="548.6" r="1.25" fill="#000"/>
<line x1="216.22" y1="540.9" x2="216.22" y2="557.1" stroke="#000" stroke-width="1.0" stroke-opacity="0.9"/>
<circle cx="216.22" cy="549" r="1.25" fill="#000"/>
<line x1="228.58" y1="545.5" x2="228.58" y2="555.5" stroke="#000" stroke-width="1.0" stroke-opacity="0.9"/>
<circle cx="228.58" cy="550.5" r="1.25" fill="#000"/>
<line x1="231.58" y1="542" x2="231.58" y2="554.4" stroke="#000" stroke-width="1.0" stroke-opacity="0.9"/>
<circle cx="231.58" cy="548.2" r="1.25" fill="#000"/>
<line x1="243.94" y1="548.7" x2="243.94" y2="554.7" stroke="#000" stroke-width="1.0" stroke-opacity="0.9"/>
<circle cx="243.94" cy="551.7" r="1.25" fill="#000"/>
<line x1="246.94" y1="547.8" x2="246.94" y2="553.8" stroke="#000" stroke-width="1.0" stroke-opacity="0.9"/>
<circle cx="246.94" cy="550.8" r="1.25" fill="#000"/>
<line x1="259.3" y1="509.2" x2="259.3" y2="533.4" stroke="#000" stroke-width="1.0" stroke-opacity="0.9"/>
<circle cx="259.3" cy="521.3" r="1.25" fill="#000"/>
<line x1="262.3" y1="503" x2="262.3" y2="530.6" stroke="#000" stroke-width="1.0" stroke-opacity="0.9"/>
<circle cx="262.3" cy="516.8" r="1.25" fill="#000"/>
<line x1="274.66" y1="522" x2="274.66" y2="540.6" stroke="#000" stroke-width="1.0" stroke-opacity="0.9"/>
<circle cx="274.66" cy="531.3" r="1.25" fill="#000"/>
<line x1="277.66" y1="519.5" x2="277.66" y2="540.5" stroke="#000" stroke-width="1.0" stroke-opacity="0.9"/>
<circle cx="277.66" cy="530" r="1.25" fill="#000"/>
<line x1="290.02" y1="532.8" x2="290.02" y2="553.8" stroke="#000" stroke-width="1.0" stroke-opacity="0.9"/>
<circle cx="290.02" cy="543.3" r="1.25" fill="#000"/>
<line x1="293.02" y1="529.3" x2="293.02" y2="553.7" stroke="#000" stroke-width="1.0" stroke-opacity="0.9"/>
<circle cx="293.02" cy="541.5" r="1.25" fill="#000"/>
<line x1="305.38" y1="548" x2="305.38" y2="555.4" stroke="#000" stroke-width="1.0" stroke-opacity="0.9"/>
<circle cx="305.38" cy="551.7" r="1.25" fill="#000"/>
<line x1="308.38" y1="547.2" x2="308.38" y2="555.2" stroke="#000" stroke-width="1.0" stroke-opacity="0.9"/>
<circle cx="308.38" cy="551.2" r="1.25" fill="#000"/>
<line x1="320.74" y1="536.7" x2="320.74" y2="551.5" stroke="#000" stroke-width="1.0" stroke-opacity="0.9"/>
<circle cx="320.74" cy="544.1" r="1.25" fill="#000"/>
<line x1="323.74" y1="534.4" x2="323.74" y2="549.2" stroke="#000" stroke-width="1.0" stroke-opacity="0.9"/>
<circle cx="323.74" cy="541.8" r="1.25" fill="#000"/>
<line x1="336.1" y1="550.9" x2="336.1" y2="556.1" stroke="#000" stroke-width="1.0" stroke-opacity="0.9"/>
<circle cx="336.1" cy="553.5" r="1.25" fill="#000"/>
<line x1="339.1" y1="549.6" x2="339.1" y2="555.6" stroke="#000" stroke-width="1.0" stroke-opacity="0.9"/>
<circle cx="339.1" cy="552.6" r="1.25" fill="#000"/>
<line x1="351.46" y1="504.8" x2="351.46" y2="533.2" stroke="#000" stroke-width="1.0" stroke-opacity="0.9"/>
<circle cx="351.46" cy="519" r="1.25" fill="#000"/>
<line x1="354.46" y1="509.1" x2="354.46" y2="537.5" stroke="#000" stroke-width="1.0" stroke-opacity="0.9"/>
<circle cx="354.46" cy="523.3" r="1.25" fill="#000"/>
<line x1="366.82" y1="525.5" x2="366.82" y2="552.1" stroke="#000" stroke-width="1.0" stroke-opacity="0.9"/>
<circle cx="366.82" cy="538.8" r="1.25" fill="#000"/>
<line x1="369.82" y1="523.5" x2="369.82" y2="550.7" stroke="#000" stroke-width="1.0" stroke-opacity="0.9"/>
<circle cx="369.82" cy="537.1" r="1.25" fill="#000"/>
<line x1="382.18" y1="538.8" x2="382.18" y2="547.8" stroke="#000" stroke-width="1.0" stroke-opacity="0.9"/>
<circle cx="382.18" cy="543.3" r="1.25" fill="#000"/>
<line x1="385.18" y1="536.9" x2="385.18" y2="545.9" stroke="#000" stroke-width="1.0" stroke-opacity="0.9"/>
<circle cx="385.18" cy="541.4" r="1.25" fill="#000"/>
<line x1="397.54" y1="538.1" x2="397.54" y2="553.7" stroke="#000" stroke-width="1.0" stroke-opacity="0.9"/>
<circle cx="397.54" cy="545.9" r="1.25" fill="#000"/>
<line x1="400.54" y1="531.4" x2="400.54" y2="551.4" stroke="#000" stroke-width="1.0" stroke-opacity="0.9"/>
<circle cx="400.54" cy="541.4" r="1.25" fill="#000"/>
<line x1="412.9" y1="527.3" x2="412.9" y2="540.9" stroke="#000" stroke-width="1.0" stroke-opacity="0.9"/>
<circle cx="412.9" cy="534.1" r="1.25" fill="#000"/>
<line x1="415.9" y1="523.6" x2="415.9" y2="538.4" stroke="#000" stroke-width="1.0" stroke-opacity="0.9"/>
<circle cx="415.9" cy="531" r="1.25" fill="#000"/>
<line x1="428.26" y1="547.1" x2="428.26" y2="555.5" stroke="#000" stroke-width="1.0" stroke-opacity="0.9"/>
<circle cx="428.26" cy="551.3" r="1.25" fill="#000"/>
<line x1="431.26" y1="544.8" x2="431.26" y2="555.2" stroke="#000" stroke-width="1.0" stroke-opacity="0.9"/>
<circle cx="431.26" cy="550" r="1.25" fill="#000"/>
<line x1="443.62" y1="553.7" x2="443.62" y2="556.7" stroke="#000" stroke-width="1.0" stroke-opacity="0.9"/>
<circle cx="443.62" cy="555.2" r="1.25" fill="#000"/>
<line x1="446.62" y1="553.5" x2="446.62" y2="556.5" stroke="#000" stroke-width="1.0" stroke-opacity="0.9"/>
<circle cx="446.62" cy="555" r="1.25" fill="#000"/>
<line x1="458.98" y1="522.2" x2="458.98" y2="535.8" stroke="#000" stroke-width="1.0" stroke-opacity="0.9"/>
<circle cx="458.98" cy="529" r="1.25" fill="#000"/>
<line x1="461.98" y1="523.6" x2="461.98" y2="538.4" stroke="#000" stroke-width="1.0" stroke-opacity="0.9"/>
<circle cx="461.98" cy="531" r="1.25" fill="#000"/>
<line x1="474.34" y1="539.4" x2="474.34" y2="549" stroke="#000" stroke-width="1.0" stroke-opacity="0.9"/>
<circle cx="474.34" cy="544.2" r="1.25" fill="#000"/>
<line x1="477.34" y1="539.4" x2="477.34" y2="549" stroke="#000" stroke-width="1.0" stroke-opacity="0.9"/>
<circle cx="477.34" cy="544.2" r="1.25" fill="#000"/>
<line x1="489.7" y1="540.5" x2="489.7" y2="552.7" stroke="#000" stroke-width="1.0" stroke-opacity="0.9"/>
<circle cx="489.7" cy="546.6" r="1.25" fill="#000"/>
<line x1="492.7" y1="535.1" x2="492.7" y2="550.7" stroke="#000" stroke-width="1.0" stroke-opacity="0.9"/>
<circle cx="492.7" cy="542.9" r="1.25" fill="#000"/>
<line x1="505.06" y1="535.5" x2="505.06" y2="551.7" stroke="#000" stroke-width="1.0" stroke-opacity="0.9"/>
<circle cx="505.06" cy="543.6" r="1.25" fill="#000"/>
<line x1="508.06" y1="531.3" x2="508.06" y2="550.7" stroke="#000" stroke-width="1.0" stroke-opacity="0.9"/>
<circle cx="508.06" cy="541" r="1.25" fill="#000"/>
<line x1="520.42" y1="547.3" x2="520.42" y2="556.7" stroke="#000" stroke-width="1.0" stroke-opacity="0.9"/>
<circle cx="520.42" cy="552" r="1.25" fill="#000"/>
<line x1="523.42" y1="546.6" x2="523.42" y2="556" stroke="#000" stroke-width="1.0" stroke-opacity="0.9"/>
<circle cx="523.42" cy="551.3" r="1.25" fill="#000"/>
<line x1="535.78" y1="546.6" x2="535.78" y2="556" stroke="#000" stroke-width="1.0" stroke-opacity="0.9"/>
<circle cx="535.78" cy="551.3" r="1.25" fill="#000"/>
<line x1="538.78" y1="543.6" x2="538.78" y2="554.6" stroke="#000" stroke-width="1.0" stroke-opacity="0.9"/>
<circle cx="538.78" cy="549.1" r="1.25" fill="#000"/>
<line x1="551.14" y1="547.3" x2="551.14" y2="556.1" stroke="#000" stroke-width="1.0" stroke-opacity="0.9"/>
<circle cx="551.14" cy="551.7" r="1.25" fill="#000"/>
<line x1="554.14" y1="545.4" x2="554.14" y2="556.4" stroke="#000" stroke-width="1.0" stroke-opacity="0.9"/>
<circle cx="554.14" cy="550.9" r="1.25" fill="#000"/>
<line x1="566.5" y1="533.1" x2="566.5" y2="547.7" stroke="#000" stroke-width="1.0" stroke-opacity="0.9"/>
<circle cx="566.5" cy="540.4" r="1.25" fill="#000"/>
<line x1="569.5" y1="529.4" x2="569.5" y2="544" stroke="#000" stroke-width="1.0" stroke-opacity="0.9"/>
<circle cx="569.5" cy="536.7" r="1.25" fill="#000"/>
<line x1="581.86" y1="507.7" x2="581.86" y2="537.7" stroke="#000" stroke-width="1.0" stroke-opacity="0.9"/>
<circle cx="581.86" cy="522.7" r="1.25" fill="#000"/>
<line x1="584.86" y1="508.1" x2="584.86" y2="532.3" stroke="#000" stroke-width="1.0" stroke-opacity="0.9"/>
<circle cx="584.86" cy="520.2" r="1.25" fill="#000"/>
<circle cx="597.22" cy="556.5" r="1.25" fill="#000"/>
<circle cx="600.22" cy="556.5" r="1.25" fill="#000"/>
<line x1="612.58" y1="526.9" x2="612.58" y2="544.5" stroke="#000" stroke-width="1.0" stroke-opacity="0.9"/>
<circle cx="612.58" cy="535.7" r="1.25" fill="#000"/>
<line x1="615.58" y1="526.9" x2="615.58" y2="544.5" stroke="#000" stroke-width="1.0" stroke-opacity="0.9"/>
<circle cx="615.58" cy="535.7" r="1.25" fill="#000"/>
<circle cx="627.94" cy="555.9" r="1.25" fill="#000"/>
<circle cx="630.94" cy="555.9" r="1.25" fill="#000"/>
<line x1="643.3" y1="529" x2="643.3" y2="542" stroke="#000" stroke-width="1.0" stroke-opacity="0.9"/>
<circle cx="643.3" cy="535.5" r="1.25" fill="#000"/>
<line x1="646.3" y1="525.6" x2="646.3" y2="542" stroke="#000" stroke-width="1.0" stroke-opacity="0.9"/>
<circle cx="646.3" cy="533.8" r="1.25" fill="#000"/>
<line x1="658.66" y1="549.8" x2="658.66" y2="555.8" stroke="#000" stroke-width="1.0" stroke-opacity="0.9"/>
<circle cx="658.66" cy="552.8" r="1.25" fill="#000"/>
<line x1="661.66" y1="545.5" x2="661.66" y2="555.9" stroke="#000" stroke-width="1.0" stroke-opacity="0.9"/>
<circle cx="661.66" cy="550.7" r="1.25" fill="#000"/>
<circle cx="674.02" cy="555.9" r="1.25" fill="#000"/>
<line x1="677.02" y1="551.5" x2="677.02" y2="557.5" stroke="#000" stroke-width="1.0" stroke-opacity="0.9"/>
<circle cx="677.02" cy="554.5" r="1.25" fill="#000"/>
<ellipse cx="29.65" cy="462" rx="0.7" ry="0.63" fill="#262626"/>
<ellipse cx="31.55" cy="462" rx="0.7" ry="0.63" fill="#262626"/>
<ellipse cx="45.01" cy="462" rx="0.7" ry="0.63" fill="#262626"/>
<ellipse cx="46.91" cy="462" rx="0.7" ry="0.63" fill="#262626"/>
<ellipse cx="89.19" cy="462" rx="0.7" ry="0.63" fill="#262626"/>
<ellipse cx="91.09" cy="462" rx="0.7" ry="0.63" fill="#262626"/>
<ellipse cx="92.99" cy="462" rx="0.7" ry="0.63" fill="#262626"/>
<ellipse cx="94.89" cy="462" rx="0.7" ry="0.63" fill="#262626"/>
<ellipse cx="107.4" cy="462" rx="0.7" ry="0.63" fill="#262626"/>
<ellipse cx="122.76" cy="462" rx="0.7" ry="0.63" fill="#262626"/>
<ellipse cx="153.48" cy="462" rx="0.7" ry="0.63" fill="#262626"/>
<ellipse cx="168.84" cy="462" rx="0.7" ry="0.63" fill="#262626"/>
<ellipse cx="181.35" cy="462" rx="0.7" ry="0.63" fill="#262626"/>
<ellipse cx="183.25" cy="462" rx="0.7" ry="0.63" fill="#262626"/>
<ellipse cx="185.15" cy="462" rx="0.7" ry="0.63" fill="#262626"/>
<ellipse cx="187.05" cy="462" rx="0.7" ry="0.63" fill="#262626"/>
<ellipse cx="228.38" cy="462" rx="0.7" ry="0.63" fill="#262626"/>
<ellipse cx="230.28" cy="462" rx="0.7" ry="0.63" fill="#262626"/>
<ellipse cx="232.18" cy="462" rx="0.7" ry="0.63" fill="#262626"/>
<ellipse cx="260.05" cy="462" rx="0.7" ry="0.63" fill="#262626"/>
<ellipse cx="261.95" cy="462" rx="0.7" ry="0.63" fill="#262626"/>
<ellipse cx="322.44" cy="462" rx="0.7" ry="0.63" fill="#262626"/>
<ellipse cx="336.85" cy="462" rx="0.7" ry="0.63" fill="#262626"/>
<ellipse cx="338.75" cy="462" rx="0.7" ry="0.63" fill="#262626"/>
<ellipse cx="353.16" cy="462" rx="0.7" ry="0.63" fill="#262626"/>
<ellipse cx="381.98" cy="462" rx="0.7" ry="0.63" fill="#262626"/>
<ellipse cx="383.88" cy="462" rx="0.7" ry="0.63" fill="#262626"/>
<ellipse cx="385.78" cy="462" rx="0.7" ry="0.63" fill="#262626"/>
<ellipse cx="396.39" cy="462" rx="0.7" ry="0.63" fill="#262626"/>
<ellipse cx="398.29" cy="462" rx="0.7" ry="0.63" fill="#262626"/>
<ellipse cx="400.19" cy="462" rx="0.7" ry="0.63" fill="#262626"/>
<ellipse cx="402.09" cy="462" rx="0.7" ry="0.63" fill="#262626"/>
<ellipse cx="412.7" cy="462" rx="0.7" ry="0.63" fill="#262626"/>
<ellipse cx="414.6" cy="462" rx="0.7" ry="0.63" fill="#262626"/>
<ellipse cx="416.5" cy="462" rx="0.7" ry="0.63" fill="#262626"/>
<ellipse cx="429.01" cy="462" rx="0.7" ry="0.63" fill="#262626"/>
<ellipse cx="430.91" cy="462" rx="0.7" ry="0.63" fill="#262626"/>
<ellipse cx="460.68" cy="462" rx="0.7" ry="0.63" fill="#262626"/>
<ellipse cx="488.55" cy="462" rx="0.7" ry="0.63" fill="#262626"/>
<ellipse cx="490.45" cy="462" rx="0.7" ry="0.63" fill="#262626"/>
<ellipse cx="492.35" cy="462" rx="0.7" ry="0.63" fill="#262626"/>
<ellipse cx="494.25" cy="462" rx="0.7" ry="0.63" fill="#262626"/>
<ellipse cx="506.76" cy="462" rx="0.7" ry="0.63" fill="#262626"/>
<ellipse cx="522.12" cy="462" rx="0.7" ry="0.63" fill="#262626"/>
<ellipse cx="535.58" cy="462" rx="0.7" ry="0.63" fill="#262626"/>
<ellipse cx="537.48" cy="462" rx="0.7" ry="0.63" fill="#262626"/>
<ellipse cx="539.38" cy="462" rx="0.7" ry="0.63" fill="#262626"/>
<ellipse cx="566.3" cy="462" rx="0.7" ry="0.63" fill="#262626"/>
<ellipse cx="568.2" cy="462" rx="0.7" ry="0.63" fill="#262626"/>
<ellipse cx="570.1" cy="462" rx="0.7" ry="0.63" fill="#262626"/>
<ellipse cx="583.56" cy="462" rx="0.7" ry="0.63" fill="#262626"/>
<ellipse cx="627.74" cy="462" rx="0.7" ry="0.63" fill="#262626"/>
<ellipse cx="629.64" cy="462" rx="0.7" ry="0.63" fill="#262626"/>
<ellipse cx="631.54" cy="462" rx="0.7" ry="0.63" fill="#262626"/>
<ellipse cx="645" cy="462" rx="0.7" ry="0.63" fill="#262626"/>
<ellipse cx="658.46" cy="462" rx="0.7" ry="0.63" fill="#262626"/>
<ellipse cx="660.36" cy="462" rx="0.7" ry="0.63" fill="#262626"/>
<ellipse cx="662.26" cy="462" rx="0.7" ry="0.63" fill="#262626"/>
<ellipse cx="672.87" cy="462" rx="0.7" ry="0.63" fill="#262626"/>
<ellipse cx="674.77" cy="462" rx="0.7" ry="0.63" fill="#262626"/>
<ellipse cx="676.67" cy="462" rx="0.7" ry="0.63" fill="#262626"/>
<ellipse cx="678.57" cy="462" rx="0.7" ry="0.63" fill="#262626"/>
<line x1="30.6" y1="575" x2="30.6" y2="576.8" stroke="#777" stroke-width="0.7"/>
<line x1="45.96" y1="575" x2="45.96" y2="576.8" stroke="#777" stroke-width="0.7"/>
<line x1="61.32" y1="575" x2="61.32" y2="576.8" stroke="#777" stroke-width="0.7"/>
<line x1="76.68" y1="575" x2="76.68" y2="576.8" stroke="#777" stroke-width="0.7"/>
<line x1="92.04" y1="575" x2="92.04" y2="576.8" stroke="#777" stroke-width="0.7"/>
<line x1="107.4" y1="575" x2="107.4" y2="576.8" stroke="#777" stroke-width="0.7"/>
<line x1="122.76" y1="575" x2="122.76" y2="576.8" stroke="#777" stroke-width="0.7"/>
<line x1="138.12" y1="575" x2="138.12" y2="576.8" stroke="#777" stroke-width="0.7"/>
<line x1="153.48" y1="575" x2="153.48" y2="576.8" stroke="#777" stroke-width="0.7"/>
<line x1="168.84" y1="575" x2="168.84" y2="576.8" stroke="#777" stroke-width="0.7"/>
<line x1="184.2" y1="575" x2="184.2" y2="576.8" stroke="#777" stroke-width="0.7"/>
<line x1="199.56" y1="575" x2="199.56" y2="576.8" stroke="#777" stroke-width="0.7"/>
<line x1="214.92" y1="575" x2="214.92" y2="576.8" stroke="#777" stroke-width="0.7"/>
<line x1="230.28" y1="575" x2="230.28" y2="576.8" stroke="#777" stroke-width="0.7"/>
<line x1="245.64" y1="575" x2="245.64" y2="576.8" stroke="#777" stroke-width="0.7"/>
<line x1="261" y1="575" x2="261" y2="576.8" stroke="#777" stroke-width="0.7"/>
<line x1="276.36" y1="575" x2="276.36" y2="576.8" stroke="#777" stroke-width="0.7"/>
<line x1="291.72" y1="575" x2="291.72" y2="576.8" stroke="#777" stroke-width="0.7"/>
<line x1="307.08" y1="575" x2="307.08" y2="576.8" stroke="#777" stroke-width="0.7"/>
<line x1="322.44" y1="575" x2="322.44" y2="576.8" stroke="#777" stroke-width="0.7"/>
<line x1="337.8" y1="575" x2="337.8" y2="576.8" stroke="#777" stroke-width="0.7"/>
<line x1="353.16" y1="575" x2="353.16" y2="576.8" stroke="#777" stroke-width="0.7"/>
<line x1="368.52" y1="575" x2="368.52" y2="576.8" stroke="#777" stroke-width="0.7"/>
<line x1="383.88" y1="575" x2="383.88" y2="576.8" stroke="#777" stroke-width="0.7"/>
<line x1="399.24" y1="575" x2="399.24" y2="576.8" stroke="#777" stroke-width="0.7"/>
<line x1="414.6" y1="575" x2="414.6" y2="576.8" stroke="#777" stroke-width="0.7"/>
<line x1="429.96" y1="575" x2="429.96" y2="576.8" stroke="#777" stroke-width="0.7"/>
<line x1="445.32" y1="575" x2="445.32" y2="576.8" stroke="#777" stroke-width="0.7"/>
<line x1="460.68" y1="575" x2="460.68" y2="576.8" stroke="#777" stroke-width="0.7"/>
<line x1="476.04" y1="575" x2="476.04" y2="576.8" stroke="#777" stroke-width="0.7"/>
<line x1="491.4" y1="575" x2="491.4" y2="576.8" stroke="#777" stroke-width="0.7"/>
<line x1="506.76" y1="575" x2="506.76" y2="576.8" stroke="#777" stroke-width="0.7"/>
<line x1="522.12" y1="575" x2="522.12" y2="576.8" stroke="#777" stroke-width="0.7"/>
<line x1="537.48" y1="575" x2="537.48" y2="576.8" stroke="#777" stroke-width="0.7"/>
<line x1="552.84" y1="575" x2="552.84" y2="576.8" stroke="#777" stroke-width="0.7"/>
<line x1="568.2" y1="575" x2="568.2" y2="576.8" stroke="#777" stroke-width="0.7"/>
<line x1="583.56" y1="575" x2="583.56" y2="576.8" stroke="#777" stroke-width="0.7"/>
<line x1="598.92" y1="575" x2="598.92" y2="576.8" stroke="#777" stroke-width="0.7"/>
<line x1="614.28" y1="575" x2="614.28" y2="576.8" stroke="#777" stroke-width="0.7"/>
<line x1="629.64" y1="575" x2="629.64" y2="576.8" stroke="#777" stroke-width="0.7"/>
<line x1="645" y1="575" x2="645" y2="576.8" stroke="#777" stroke-width="0.7"/>
<line x1="660.36" y1="575" x2="660.36" y2="576.8" stroke="#777" stroke-width="0.7"/>
<line x1="675.72" y1="575" x2="675.72" y2="576.8" stroke="#777" stroke-width="0.7"/>
<line x1="44.3" y1="889.1" x2="292.6" y2="889.1" stroke="#ebebeb" stroke-width="0.6"/>
<line x1="44.3" y1="877.8" x2="292.6" y2="877.8" stroke="#f3f3f3" stroke-width="0.6"/>
<line x1="44.3" y1="866.49" x2="292.6" y2="866.49" stroke="#ebebeb" stroke-width="0.6"/>
<line x1="44.3" y1="855.19" x2="292.6" y2="855.19" stroke="#f3f3f3" stroke-width="0.6"/>
<line x1="44.3" y1="843.88" x2="292.6" y2="843.88" stroke="#ebebeb" stroke-width="0.6"/>
<line x1="44.3" y1="832.58" x2="292.6" y2="832.58" stroke="#f3f3f3" stroke-width="0.6"/>
<line x1="44.3" y1="821.27" x2="292.6" y2="821.27" stroke="#ebebeb" stroke-width="0.6"/>
<line x1="44.3" y1="809.97" x2="292.6" y2="809.97" stroke="#f3f3f3" stroke-width="0.6"/>
<line x1="44.3" y1="798.66" x2="292.6" y2="798.66" stroke="#ebebeb" stroke-width="0.6"/>
<line x1="44.3" y1="787.36" x2="292.6" y2="787.36" stroke="#f3f3f3" stroke-width="0.6"/>
<line x1="44.3" y1="776.05" x2="292.6" y2="776.05" stroke="#ebebeb" stroke-width="0.6"/>
<line x1="44.3" y1="764.75" x2="292.6" y2="764.75" stroke="#f3f3f3" stroke-width="0.6"/>
<line x1="44.3" y1="753.44" x2="292.6" y2="753.44" stroke="#ebebeb" stroke-width="0.6"/>
<line x1="44.3" y1="742.13" x2="292.6" y2="742.13" stroke="#f3f3f3" stroke-width="0.6"/>
<line x1="44.3" y1="730.83" x2="292.6" y2="730.83" stroke="#ebebeb" stroke-width="0.6"/>
<line x1="44.3" y1="719.52" x2="292.6" y2="719.52" stroke="#f3f3f3" stroke-width="0.6"/>
<line x1="44.3" y1="708.22" x2="292.6" y2="708.22" stroke="#ebebeb" stroke-width="0.6"/>
<line x1="44.3" y1="696.91" x2="292.6" y2="696.91" stroke="#f3f3f3" stroke-width="0.6"/>
<line x1="44.3" y1="685.61" x2="292.6" y2="685.61" stroke="#ebebeb" stroke-width="0.6"/>
<line x1="44.3" y1="674.31" x2="292.6" y2="674.31" stroke="#f3f3f3" stroke-width="0.6"/>
<line x1="44.3" y1="663" x2="292.6" y2="663" stroke="#ebebeb" stroke-width="0.6"/>
<line x1="42.7" y1="889.1" x2="44.3" y2="889.1" stroke="#555" stroke-width="0.5"/>
<line x1="42.7" y1="866.49" x2="44.3" y2="866.49" stroke="#555" stroke-width="0.5"/>
<line x1="42.7" y1="843.88" x2="44.3" y2="843.88" stroke="#555" stroke-width="0.5"/>
<line x1="42.7" y1="821.27" x2="44.3" y2="821.27" stroke="#555" stroke-width="0.5"/>
<line x1="42.7" y1="798.66" x2="44.3" y2="798.66" stroke="#555" stroke-width="0.5"/>
<line x1="42.7" y1="776.05" x2="44.3" y2="776.05" stroke="#555" stroke-width="0.5"/>
<line x1="42.7" y1="753.44" x2="44.3" y2="753.44" stroke="#555" stroke-width="0.5"/>
<line x1="42.7" y1="730.83" x2="44.3" y2="730.83" stroke="#555" stroke-width="0.5"/>
<line x1="42.7" y1="708.22" x2="44.3" y2="708.22" stroke="#555" stroke-width="0.5"/>
<line x1="42.7" y1="685.61" x2="44.3" y2="685.61" stroke="#555" stroke-width="0.5"/>
<line x1="42.7" y1="663" x2="44.3" y2="663" stroke="#555" stroke-width="0.5"/>
<rect x="61.2" y="663" width="101.6" height="132.49" fill="#1b9e77"/>
<rect x="61.2" y="795.49" width="101.6" height="93.61" fill="#d95f02"/>
<rect x="61.2" y="663" width="101.6" height="226.1" fill="none" stroke="#111" stroke-width="0.9"/>
<line x1="61.2" y1="795.49" x2="162.8" y2="795.49" stroke="#111" stroke-width="0.9"/>
<rect x="104.5" y="725.55" width="15" height="7.4" fill="#fff" stroke="#222" stroke-width="0.5" rx="0.6"/>
<rect x="104.5" y="838.6" width="15" height="7.4" fill="#fff" stroke="#222" stroke-width="0.5" rx="0.6"/>
<rect x="173.9" y="663" width="101.9" height="93.38" fill="#1b9e77"/>
<rect x="173.9" y="756.38" width="101.9" height="132.72" fill="#d95f02"/>
<rect x="173.9" y="663" width="101.9" height="226.1" fill="none" stroke="#111" stroke-width="0.9"/>
<line x1="173.9" y1="756.38" x2="275.8" y2="756.38" stroke="#111" stroke-width="0.9"/>
<rect x="217.35" y="705.99" width="15" height="7.4" fill="#fff" stroke="#222" stroke-width="0.5" rx="0.6"/>
<rect x="217.35" y="819.04" width="15" height="7.4" fill="#fff" stroke="#222" stroke-width="0.5" rx="0.6"/>
<rect x="300.6" y="771" width="8.3" height="8.6" fill="#1b9e77" stroke="#222" stroke-width="0.6"/>
<rect x="300.6" y="779.6" width="8.3" height="8.8" fill="#d95f02" stroke="#222" stroke-width="0.6"/>
<line x1="394.5" y1="889.1" x2="642.8" y2="889.1" stroke="#ebebeb" stroke-width="0.6"/>
<line x1="394.5" y1="877.8" x2="642.8" y2="877.8" stroke="#f3f3f3" stroke-width="0.6"/>
<line x1="394.5" y1="866.49" x2="642.8" y2="866.49" stroke="#ebebeb" stroke-width="0.6"/>
<line x1="394.5" y1="855.19" x2="642.8" y2="855.19" stroke="#f3f3f3" stroke-width="0.6"/>
<line x1="394.5" y1="843.88" x2="642.8" y2="843.88" stroke="#ebebeb" stroke-width="0.6"/>
<line x1="394.5" y1="832.58" x2="642.8" y2="832.58" stroke="#f3f3f3" stroke-width="0.6"/>
<line x1="394.5" y1="821.27" x2="642.8" y2="821.27" stroke="#ebebeb" stroke-width="0.6"/>
<line x1="394.5" y1="809.97" x2="642.8" y2="809.97" stroke="#f3f3f3" stroke-width="0.6"/>
<line x1="394.5" y1="798.66" x2="642.8" y2="798.66" stroke="#ebebeb" stroke-width="0.6"/>
<line x1="394.5" y1="787.36" x2="642.8" y2="787.36" stroke="#f3f3f3" stroke-width="0.6"/>
<line x1="394.5" y1="776.05" x2="642.8" y2="776.05" stroke="#ebebeb" stroke-width="0.6"/>
<line x1="394.5" y1="764.75" x2="642.8" y2="764.75" stroke="#f3f3f3" stroke-width="0.6"/>
<line x1="394.5" y1="753.44" x2="642.8" y2="753.44" stroke="#ebebeb" stroke-width="0.6"/>
<line x1="394.5" y1="742.13" x2="642.8" y2="742.13" stroke="#f3f3f3" stroke-width="0.6"/>
<line x1="394.5" y1="730.83" x2="642.8" y2="730.83" stroke="#ebebeb" stroke-width="0.6"/>
<line x1="394.5" y1="719.52" x2="642.8" y2="719.52" stroke="#f3f3f3" stroke-width="0.6"/>
<line x1="394.5" y1="708.22" x2="642.8" y2="708.22" stroke="#ebebeb" stroke-width="0.6"/>
<line x1="394.5" y1="696.91" x2="642.8" y2="696.91" stroke="#f3f3f3" stroke-width="0.6"/>
<line x1="394.5" y1="685.61" x2="642.8" y2="685.61" stroke="#ebebeb" stroke-width="0.6"/>
<line x1="394.5" y1="674.31" x2="642.8" y2="674.31" stroke="#f3f3f3" stroke-width="0.6"/>
<line x1="394.5" y1="663" x2="642.8" y2="663" stroke="#ebebeb" stroke-width="0.6"/>
<line x1="392.9" y1="889.1" x2="394.5" y2="889.1" stroke="#555" stroke-width="0.5"/>
<line x1="392.9" y1="866.49" x2="394.5" y2="866.49" stroke="#555" stroke-width="0.5"/>
<line x1="392.9" y1="843.88" x2="394.5" y2="843.88" stroke="#555" stroke-width="0.5"/>
<line x1="392.9" y1="821.27" x2="394.5" y2="821.27" stroke="#555" stroke-width="0.5"/>
<line x1="392.9" y1="798.66" x2="394.5" y2="798.66" stroke="#555" stroke-width="0.5"/>
<line x1="392.9" y1="776.05" x2="394.5" y2="776.05" stroke="#555" stroke-width="0.5"/>
<line x1="392.9" y1="753.44" x2="394.5" y2="753.44" stroke="#555" stroke-width="0.5"/>
<line x1="392.9" y1="730.83" x2="394.5" y2="730.83" stroke="#555" stroke-width="0.5"/>
<line x1="392.9" y1="708.22" x2="394.5" y2="708.22" stroke="#555" stroke-width="0.5"/>
<line x1="392.9" y1="685.61" x2="394.5" y2="685.61" stroke="#555" stroke-width="0.5"/>
<line x1="392.9" y1="663" x2="394.5" y2="663" stroke="#555" stroke-width="0.5"/>
<rect x="411.4" y="663" width="101.6" height="96.32" fill="#1b9e77"/>
<rect x="411.4" y="759.32" width="101.6" height="129.78" fill="#d95f02"/>
<rect x="411.4" y="663" width="101.6" height="226.1" fill="none" stroke="#111" stroke-width="0.9"/>
<line x1="411.4" y1="759.32" x2="513" y2="759.32" stroke="#111" stroke-width="0.9"/>
<rect x="454.7" y="707.46" width="15" height="7.4" fill="#fff" stroke="#222" stroke-width="0.5" rx="0.6"/>
<rect x="454.7" y="820.51" width="15" height="7.4" fill="#fff" stroke="#222" stroke-width="0.5" rx="0.6"/>
<rect x="524.1" y="663" width="101.9" height="131.14" fill="#1b9e77"/>
<rect x="524.1" y="794.14" width="101.9" height="94.96" fill="#d95f02"/>
<rect x="524.1" y="663" width="101.9" height="226.1" fill="none" stroke="#111" stroke-width="0.9"/>
<line x1="524.1" y1="794.14" x2="626" y2="794.14" stroke="#111" stroke-width="0.9"/>
<rect x="567.55" y="724.87" width="15" height="7.4" fill="#fff" stroke="#222" stroke-width="0.5" rx="0.6"/>
<rect x="567.55" y="837.92" width="15" height="7.4" fill="#fff" stroke="#222" stroke-width="0.5" rx="0.6"/>
<rect x="650.8" y="771" width="8.3" height="8.6" fill="#1b9e77" stroke="#222" stroke-width="0.6"/>
<rect x="650.8" y="779.6" width="8.3" height="8.8" fill="#d95f02" stroke="#222" stroke-width="0.6"/>
<defs><filter id="gs" x="0" y="0" width="100%" height="100%" filterUnits="userSpaceOnUse"><feColorMatrix type="saturate" values="0"/></filter></defs>
<g filter="url(#gs)">
<text x="-0.5" y="21.2" font-family='Liberation Serif', serif font-size="32" fill="#000">A</text>
<text x="236.1" y="18.2" font-size="12.8" fill="#000">RiskGroup</text>
<text x="331.7" y="17.18" font-size="10.5" fill="#000">HRisk</text>
<text x="393.7" y="17.18" font-size="10.5" fill="#000">LRisk</text>
<text x="14.4" y="163.45" font-size="8.2" text-anchor="end" fill="#000" stroke="#000" stroke-width="0.12">0</text>
<text x="14.4" y="122.95" font-size="8.2" text-anchor="end" fill="#000" stroke="#000" stroke-width="0.12">5</text>
<text x="14.4" y="82.45" font-size="8.2" text-anchor="end" fill="#000" stroke="#000" stroke-width="0.12">10</text>
<text x="14.4" y="41.85" font-size="8.2" text-anchor="end" fill="#000" stroke="#000" stroke-width="0.12">15</text>
<text transform="translate(31.6 192.8) rotate(-45)" font-size="8.4" text-anchor="end" fill="#000" stroke="#000" stroke-width="0.12">CX3CL1</text>
<text transform="translate(48.63 192.8) rotate(-45)" font-size="8.4" text-anchor="end" fill="#000" stroke="#000" stroke-width="0.12">CCL26</text>
<text transform="translate(65.66 192.8) rotate(-45)" font-size="8.4" text-anchor="end" fill="#000" stroke="#000" stroke-width="0.12">CXCL2</text>
<text transform="translate(82.69 192.8) rotate(-45)" font-size="8.4" text-anchor="end" fill="#000" stroke="#000" stroke-width="0.12">CCL22</text>
<text transform="translate(99.72 192.8) rotate(-45)" font-size="8.4" text-anchor="end" fill="#000" stroke="#000" stroke-width="0.12">CCL17</text>
<text transform="translate(116.75 192.8) rotate(-45)" font-size="8.4" text-anchor="end" fill="#000" stroke="#000" stroke-width="0.12">CCL24</text>
<text transform="translate(133.78 192.8) rotate(-45)" font-size="8.4" text-anchor="end" fill="#000" stroke="#000" stroke-width="0.12">CXCL12</text>
<text transform="translate(150.81 192.8) rotate(-45)" font-size="8.4" text-anchor="end" fill="#000" stroke="#000" stroke-width="0.12">CCL7</text>
<text transform="translate(167.84 192.8) rotate(-45)" font-size="8.4" text-anchor="end" fill="#000" stroke="#000" stroke-width="0.12">CCL2</text>
<text transform="translate(184.87 192.8) rotate(-45)" font-size="8.4" text-anchor="end" fill="#000" stroke="#000" stroke-width="0.12">CCL8</text>
<text transform="translate(201.9 192.8) rotate(-45)" font-size="8.4" text-anchor="end" fill="#000" stroke="#000" stroke-width="0.12">CCL1</text>
<text transform="translate(218.93 192.8) rotate(-45)" font-size="8.4" text-anchor="end" fill="#000" stroke="#000" stroke-width="0.12">CCL20</text>
<text transform="translate(235.96 192.8) rotate(-45)" font-size="8.4" text-anchor="end" fill="#000" stroke="#000" stroke-width="0.12">CXCL6</text>
<text transform="translate(252.99 192.8) rotate(-45)" font-size="8.4" text-anchor="end" fill="#000" stroke="#000" stroke-width="0.12">CCL25</text>
<text transform="translate(270.02 192.8) rotate(-45)" font-size="8.4" text-anchor="end" fill="#000" stroke="#000" stroke-width="0.12">CCL21</text>
<text transform="translate(287.05 192.8) rotate(-45)" font-size="8.4" text-anchor="end" fill="#000" stroke="#000" stroke-width="0.12">CXCL9</text>
<text transform="translate(304.08 192.8) rotate(-45)" font-size="8.4" text-anchor="end" fill="#000" stroke="#000" stroke-width="0.12">XCL1</text>
<text transform="translate(321.11 192.8) rotate(-45)" font-size="8.4" text-anchor="end" fill="#000" stroke="#000" stroke-width="0.12">XCL2</text>
<text transform="translate(338.14 192.8) rotate(-45)" font-size="8.4" text-anchor="end" fill="#000" stroke="#000" stroke-width="0.12">CXCL14</text>
<text transform="translate(355.17 192.8) rotate(-45)" font-size="8.4" text-anchor="end" fill="#000" stroke="#000" stroke-width="0.12">CCL28</text>
<text transform="translate(372.2 192.8) rotate(-45)" font-size="8.4" text-anchor="end" fill="#000" stroke="#000" stroke-width="0.12">CXCL13</text>
<text transform="translate(389.23 192.8) rotate(-45)" font-size="8.4" text-anchor="end" fill="#000" stroke="#000" stroke-width="0.12">CXCL16</text>
<text transform="translate(406.26 192.8) rotate(-45)" font-size="8.4" text-anchor="end" fill="#000" stroke="#000" stroke-width="0.12">CXCL3</text>
<text transform="translate(423.29 192.8) rotate(-45)" font-size="8.4" text-anchor="end" fill="#000" stroke="#000" stroke-width="0.12">CXCL5</text>
<text transform="translate(440.32 192.8) rotate(-45)" font-size="8.4" text-anchor="end" fill="#000" stroke="#000" stroke-width="0.12">CXCL1</text>
<text transform="translate(457.35 192.8) rotate(-45)" font-size="8.4" text-anchor="end" fill="#000" stroke="#000" stroke-width="0.12">CXCL10</text>
<text transform="translate(474.38 192.8) rotate(-45)" font-size="8.4" text-anchor="end" fill="#000" stroke="#000" stroke-width="0.12">CXCL11</text>
<text transform="translate(491.41 192.8) rotate(-45)" font-size="8.4" text-anchor="end" fill="#000" stroke="#000" stroke-width="0.12">CXCL8</text>
<text transform="translate(508.44 192.8) rotate(-45)" font-size="8.4" text-anchor="end" fill="#000" stroke="#000" stroke-width="0.12">CCL11</text>
<text transform="translate(525.47 192.8) rotate(-45)" font-size="8.4" text-anchor="end" fill="#000" stroke="#000" stroke-width="0.12">CCL19</text>
<text transform="translate(542.5 192.8) rotate(-45)" font-size="8.4" text-anchor="end" fill="#000" stroke="#000" stroke-width="0.12">CCL13</text>
<text transform="translate(559.53 192.8) rotate(-45)" font-size="8.4" text-anchor="end" fill="#000" stroke="#000" stroke-width="0.12">CXCL17</text>
<text transform="translate(576.56 192.8) rotate(-45)" font-size="8.4" text-anchor="end" fill="#000" stroke="#000" stroke-width="0.12">CCL5</text>
<text transform="translate(593.59 192.8) rotate(-45)" font-size="8.4" text-anchor="end" fill="#000" stroke="#000" stroke-width="0.12">CCL23</text>
<text transform="translate(610.62 192.8) rotate(-45)" font-size="8.4" text-anchor="end" fill="#000" stroke="#000" stroke-width="0.12">CCL16</text>
<text transform="translate(627.65 192.8) rotate(-45)" font-size="8.4" text-anchor="end" fill="#000" stroke="#000" stroke-width="0.12">CCL4</text>
<text transform="translate(644.68 192.8) rotate(-45)" font-size="8.4" text-anchor="end" fill="#000" stroke="#000" stroke-width="0.12">CCL18</text>
<text transform="translate(661.71 192.8) rotate(-45)" font-size="8.4" text-anchor="end" fill="#000" stroke="#000" stroke-width="0.12">CCL14</text>
<text transform="translate(678.74 192.8) rotate(-45)" font-size="8.4" text-anchor="end" fill="#000" stroke="#000" stroke-width="0.12">CCL3</text>
<text x="0.8" y="250.9" font-family='Liberation Serif', serif font-size="32" fill="#000">B</text>
<text x="248.2" y="236.9" font-size="11.3" fill="#000">RiskGroup</text>
<text x="332.8" y="236.34" font-size="9.0" fill="#000">HRisk</text>
<text x="387.4" y="236.34" font-size="9.0" fill="#000">LRisk</text>
<text x="93.4" y="363.13" font-size="8.7" text-anchor="end" fill="#000" stroke="#000" stroke-width="0.12">0.0</text>
<text x="93.4" y="336.43" font-size="8.7" text-anchor="end" fill="#000" stroke="#000" stroke-width="0.12">2.5</text>
<text x="93.4" y="309.73" font-size="8.7" text-anchor="end" fill="#000" stroke="#000" stroke-width="0.12">5.0</text>
<text x="93.4" y="283.03" font-size="8.7" text-anchor="end" fill="#000" stroke="#000" stroke-width="0.12">7.5</text>
<text x="93.4" y="256.33" font-size="8.7" text-anchor="end" fill="#000" stroke="#000" stroke-width="0.12">10.0</text>
<text transform="translate(113.6 391.6) rotate(-45)" font-size="8.5" text-anchor="end" fill="#000" stroke="#000" stroke-width="0.12">LAG3</text>
<text transform="translate(136.06 391.6) rotate(-45)" font-size="8.5" text-anchor="end" fill="#000" stroke="#000" stroke-width="0.12">TGFB1</text>
<text transform="translate(158.52 391.6) rotate(-45)" font-size="8.5" text-anchor="end" fill="#000" stroke="#000" stroke-width="0.12">TGFBR1</text>
<text transform="translate(180.98 391.6) rotate(-45)" font-size="8.5" text-anchor="end" fill="#000" stroke="#000" stroke-width="0.12">CD160</text>
<text transform="translate(203.44 391.6) rotate(-45)" font-size="8.5" text-anchor="end" fill="#000" stroke="#000" stroke-width="0.12">CD274</text>
<text transform="translate(225.9 391.6) rotate(-45)" font-size="8.5" text-anchor="end" fill="#000" stroke="#000" stroke-width="0.12">CD244</text>
<text transform="translate(248.36 391.6) rotate(-45)" font-size="8.5" text-anchor="end" fill="#000" stroke="#000" stroke-width="0.12">KIR2DL1</text>
<text transform="translate(270.82 391.6) rotate(-45)" font-size="8.5" text-anchor="end" fill="#000" stroke="#000" stroke-width="0.12">KDR</text>
<text transform="translate(293.28 391.6) rotate(-45)" font-size="8.5" text-anchor="end" fill="#000" stroke="#000" stroke-width="0.12">ADORA2A</text>
<text transform="translate(315.74 391.6) rotate(-45)" font-size="8.5" text-anchor="end" fill="#000" stroke="#000" stroke-width="0.12">IDO1</text>
<text transform="translate(338.2 391.6) rotate(-45)" font-size="8.5" text-anchor="end" fill="#000" stroke="#000" stroke-width="0.12">VTCN1</text>
<text transform="translate(360.66 391.6) rotate(-45)" font-size="8.5" text-anchor="end" fill="#000" stroke="#000" stroke-width="0.12">HAVCR2</text>
<text transform="translate(383.12 391.6) rotate(-45)" font-size="8.5" text-anchor="end" fill="#000" stroke="#000" stroke-width="0.12">IL10</text>
<text transform="translate(405.58 391.6) rotate(-45)" font-size="8.5" text-anchor="end" fill="#000" stroke="#000" stroke-width="0.12">CD96</text>
<text transform="translate(428.04 391.6) rotate(-45)" font-size="8.5" text-anchor="end" fill="#000" stroke="#000" stroke-width="0.12">CTLA4</text>
<text transform="translate(450.5 391.6) rotate(-45)" font-size="8.5" text-anchor="end" fill="#000" stroke="#000" stroke-width="0.12">LGALS9</text>
<text transform="translate(472.96 391.6) rotate(-45)" font-size="8.5" text-anchor="end" fill="#000" stroke="#000" stroke-width="0.12">TIGIT</text>
<text transform="translate(495.42 391.6) rotate(-45)" font-size="8.5" text-anchor="end" fill="#000" stroke="#000" stroke-width="0.12">CSF1R</text>
<text transform="translate(517.88 391.6) rotate(-45)" font-size="8.5" text-anchor="end" fill="#000" stroke="#000" stroke-width="0.12">BTLA</text>
<text transform="translate(540.34 391.6) rotate(-45)" font-size="8.5" text-anchor="end" fill="#000" stroke="#000" stroke-width="0.12">PDCD1</text>
<text transform="translate(562.8 391.6) rotate(-45)" font-size="8.5" text-anchor="end" fill="#000" stroke="#000" stroke-width="0.12">PDCD1LG2</text>
<text transform="translate(585.26 391.6) rotate(-45)" font-size="8.5" text-anchor="end" fill="#000" stroke="#000" stroke-width="0.12">IL10RB</text>
<text transform="translate(607.72 391.6) rotate(-45)" font-size="8.5" text-anchor="end" fill="#000" stroke="#000" stroke-width="0.12">KIR2DL3</text>
<text x="1.2" y="433.7" font-family='Liberation Serif', serif font-size="32" fill="#000">C</text>
<text x="265.2" y="433.5" font-size="10.2" fill="#000">RiskGroup</text>
<text x="341.1" y="433.15" font-size="8.2" fill="#000">HRisk</text>
<text x="389.6" y="433.15" font-size="8.2" fill="#000">LRisk</text>
<text x="18.8" y="559.86" font-size="7.4" text-anchor="end" fill="#000" stroke="#000" stroke-width="0.12">0.0</text>
<text x="18.8" y="533.36" font-size="7.4" text-anchor="end" fill="#000" stroke="#000" stroke-width="0.12">2.5</text>
<text x="18.8" y="506.86" font-size="7.4" text-anchor="end" fill="#000" stroke="#000" stroke-width="0.12">5.0</text>
<text x="18.8" y="480.26" font-size="7.4" text-anchor="end" fill="#000" stroke="#000" stroke-width="0.12">7.5</text>
<text x="18.8" y="453.66" font-size="7.4" text-anchor="end" fill="#000" stroke="#000" stroke-width="0.12">10.0</text>
<text transform="translate(34.4 581.6) rotate(-45)" font-size="7.6" text-anchor="end" fill="#000" stroke="#000" stroke-width="0.12">TNFRSF17</text>
<text transform="translate(49.76 581.6) rotate(-45)" font-size="7.6" text-anchor="end" fill="#000" stroke="#000" stroke-width="0.12">TNFRSF9</text>
<text transform="translate(65.12 581.6) rotate(-45)" font-size="7.6" text-anchor="end" fill="#000" stroke="#000" stroke-width="0.12">PVR</text>
<text transform="translate(80.48 581.6) rotate(-45)" font-size="7.6" text-anchor="end" fill="#000" stroke="#000" stroke-width="0.12">CD40</text>
<text transform="translate(95.84 581.6) rotate(-45)" font-size="7.6" text-anchor="end" fill="#000" stroke="#000" stroke-width="0.12">CD40LG</text>
<text transform="translate(111.2 581.6) rotate(-45)" font-size="7.6" text-anchor="end" fill="#000" stroke="#000" stroke-width="0.12">TNFSF13B</text>
<text transform="translate(126.56 581.6) rotate(-45)" font-size="7.6" text-anchor="end" fill="#000" stroke="#000" stroke-width="0.12">CD276</text>
<text transform="translate(141.92 581.6) rotate(-45)" font-size="7.6" text-anchor="end" fill="#000" stroke="#000" stroke-width="0.12">ULBP1</text>
<text transform="translate(157.28 581.6) rotate(-45)" font-size="7.6" text-anchor="end" fill="#000" stroke="#000" stroke-width="0.12">CD86</text>
<text transform="translate(172.64 581.6) rotate(-45)" font-size="7.6" text-anchor="end" fill="#000" stroke="#000" stroke-width="0.12">HHLA2</text>
<text transform="translate(188 581.6) rotate(-45)" font-size="7.6" text-anchor="end" fill="#000" stroke="#000" stroke-width="0.12">CD48</text>
<text transform="translate(203.36 581.6) rotate(-45)" font-size="7.6" text-anchor="end" fill="#000" stroke="#000" stroke-width="0.12">TNFSF4</text>
<text transform="translate(218.72 581.6) rotate(-45)" font-size="7.6" text-anchor="end" fill="#000" stroke="#000" stroke-width="0.12">TNFSF18</text>
<text transform="translate(234.08 581.6) rotate(-45)" font-size="7.6" text-anchor="end" fill="#000" stroke="#000" stroke-width="0.12">TNFRSF8</text>
<text transform="translate(249.44 581.6) rotate(-45)" font-size="7.6" text-anchor="end" fill="#000" stroke="#000" stroke-width="0.12">CD80</text>
<text transform="translate(264.8 581.6) rotate(-45)" font-size="7.6" text-anchor="end" fill="#000" stroke="#000" stroke-width="0.12">CXCR4</text>
<text transform="translate(280.16 581.6) rotate(-45)" font-size="7.6" text-anchor="end" fill="#000" stroke="#000" stroke-width="0.12">TNFSF9</text>
<text transform="translate(295.52 581.6) rotate(-45)" font-size="7.6" text-anchor="end" fill="#000" stroke="#000" stroke-width="0.12">CD70</text>
<text transform="translate(310.88 581.6) rotate(-45)" font-size="7.6" text-anchor="end" fill="#000" stroke="#000" stroke-width="0.12">TNFSF14</text>
<text transform="translate(326.24 581.6) rotate(-45)" font-size="7.6" text-anchor="end" fill="#000" stroke="#000" stroke-width="0.12">IL2RA</text>
<text transform="translate(341.6 581.6) rotate(-45)" font-size="7.6" text-anchor="end" fill="#000" stroke="#000" stroke-width="0.12">KLRC1</text>
<text transform="translate(356.96 581.6) rotate(-45)" font-size="7.6" text-anchor="end" fill="#000" stroke="#000" stroke-width="0.12">NT5E</text>
<text transform="translate(372.32 581.6) rotate(-45)" font-size="7.6" text-anchor="end" fill="#000" stroke="#000" stroke-width="0.12">IL6</text>
<text transform="translate(387.68 581.6) rotate(-45)" font-size="7.6" text-anchor="end" fill="#000" stroke="#000" stroke-width="0.12">ENTPD1</text>
<text transform="translate(403.04 581.6) rotate(-45)" font-size="7.6" text-anchor="end" fill="#000" stroke="#000" stroke-width="0.12">CD27</text>
<text transform="translate(418.4 581.6) rotate(-45)" font-size="7.6" text-anchor="end" fill="#000" stroke="#000" stroke-width="0.12">TNFRSF14</text>
<text transform="translate(433.76 581.6) rotate(-45)" font-size="7.6" text-anchor="end" fill="#000" stroke="#000" stroke-width="0.12">TNFRSF13C</text>
<text transform="translate(449.12 581.6) rotate(-45)" font-size="7.6" text-anchor="end" fill="#000" stroke="#000" stroke-width="0.12">ICOSLG</text>
<text transform="translate(464.48 581.6) rotate(-45)" font-size="7.6" text-anchor="end" fill="#000" stroke="#000" stroke-width="0.12">IL6R</text>
<text transform="translate(479.84 581.6) rotate(-45)" font-size="7.6" text-anchor="end" fill="#000" stroke="#000" stroke-width="0.12">TNFSF13</text>
<text transform="translate(495.2 581.6) rotate(-45)" font-size="7.6" text-anchor="end" fill="#000" stroke="#000" stroke-width="0.12">ICOS</text>
<text transform="translate(510.56 581.6) rotate(-45)" font-size="7.6" text-anchor="end" fill="#000" stroke="#000" stroke-width="0.12">RAET1E</text>
<text transform="translate(525.92 581.6) rotate(-45)" font-size="7.6" text-anchor="end" fill="#000" stroke="#000" stroke-width="0.12">TMIGD2</text>
<text transform="translate(541.28 581.6) rotate(-45)" font-size="7.6" text-anchor="end" fill="#000" stroke="#000" stroke-width="0.12">CD28</text>
<text transform="translate(556.64 581.6) rotate(-45)" font-size="7.6" text-anchor="end" fill="#000" stroke="#000" stroke-width="0.12">TNFSF15</text>
<text transform="translate(572 581.6) rotate(-45)" font-size="7.6" text-anchor="end" fill="#000" stroke="#000" stroke-width="0.12">TNFRSF4</text>
<text transform="translate(587.36 581.6) rotate(-45)" font-size="7.6" text-anchor="end" fill="#000" stroke="#000" stroke-width="0.12">TNFRSF18</text>
<text transform="translate(602.72 581.6) rotate(-45)" font-size="7.6" text-anchor="end" fill="#000" stroke="#000" stroke-width="0.12">BTNL2</text>
<text transform="translate(618.08 581.6) rotate(-45)" font-size="7.6" text-anchor="end" fill="#000" stroke="#000" stroke-width="0.12">MICB</text>
<text transform="translate(633.44 581.6) rotate(-45)" font-size="7.6" text-anchor="end" fill="#000" stroke="#000" stroke-width="0.12">KLRK1</text>
<text transform="translate(648.8 581.6) rotate(-45)" font-size="7.6" text-anchor="end" fill="#000" stroke="#000" stroke-width="0.12">TNFRSF25</text>
<text transform="translate(664.16 581.6) rotate(-45)" font-size="7.6" text-anchor="end" fill="#000" stroke="#000" stroke-width="0.12">LTA</text>
<text transform="translate(679.52 581.6) rotate(-45)" font-size="7.6" text-anchor="end" fill="#000" stroke="#000" stroke-width="0.12">TNFRSF13B</text>
<text x="0.5" y="659.6" font-family='Liberation Serif', serif font-size="31" fill="#000">D</text>
<text x="42.1" y="890.6" font-size="4.3" text-anchor="end" fill="#333">0%</text>
<text x="42.1" y="867.99" font-size="4.3" text-anchor="end" fill="#333">10%</text>
<text x="42.1" y="845.38" font-size="4.3" text-anchor="end" fill="#333">20%</text>
<text x="42.1" y="822.77" font-size="4.3" text-anchor="end" fill="#333">30%</text>
<text x="42.1" y="800.16" font-size="4.3" text-anchor="end" fill="#333">40%</text>
<text x="42.1" y="777.55" font-size="4.3" text-anchor="end" fill="#333">50%</text>
<text x="42.1" y="754.94" font-size="4.3" text-anchor="end" fill="#333">60%</text>
<text x="42.1" y="732.33" font-size="4.3" text-anchor="end" fill="#333">70%</text>
<text x="42.1" y="709.72" font-size="4.3" text-anchor="end" fill="#333">80%</text>
<text x="42.1" y="687.11" font-size="4.3" text-anchor="end" fill="#333">90%</text>
<text x="42.1" y="664.5" font-size="4.3" text-anchor="end" fill="#333">100%</text>
<text x="112" y="731.35" font-size="5.9" text-anchor="middle" fill="#111">59%</text>
<text x="112" y="844.4" font-size="5.9" text-anchor="middle" fill="#111">41%</text>
<text x="224.85" y="711.79" font-size="5.9" text-anchor="middle" fill="#111">41%</text>
<text x="224.85" y="824.84" font-size="5.9" text-anchor="middle" fill="#111">59%</text>
<text x="170.9" y="655.2" font-size="12.8" text-anchor="middle" fill="#111">Dysfunction</text>
<text x="112.5" y="652.6" font-size="4.2" text-anchor="middle" fill="#222"><tspan font-style="italic">p</tspan> = 0.03</text>
<text x="225.5" y="652.6" font-size="4.2" text-anchor="middle" fill="#222"><tspan font-style="italic">p</tspan> = 0.03</text>
<text x="44" y="633.7" font-size="5.2" fill="#222"><tspan font-style="italic">&#967;</tspan><tspan font-size="3.4" dy="-1.8">2</tspan><tspan font-size="3.4" dy="2.7">Pearson</tspan><tspan dy="-0.9">(1) = 9.95, </tspan><tspan font-style="italic">p</tspan> = 1.61e-03, <tspan font-style="italic">V&#770;</tspan><tspan font-size="3.4" dy="0.9">Cramer</tspan><tspan dy="-0.9"> = 0.16, CI</tspan><tspan font-size="3.4" dy="0.9">95%</tspan><tspan dy="-0.9"> [0.06, 1.00], </tspan><tspan font-style="italic">n</tspan><tspan font-size="3.4" dy="0.9">obs</tspan><tspan dy="-0.9"> = 338</tspan></text>
<text x="112" y="902.3" font-size="5.6" text-anchor="middle" fill="#222">(n = 169)</text>
<text x="224.8" y="902.3" font-size="5.6" text-anchor="middle" fill="#222">(n = 169)</text>
<text x="107.3" y="919.4" font-size="13" text-anchor="middle" fill="#111">Hrisk</text>
<text x="223.1" y="919.4" font-size="13" text-anchor="middle" fill="#111">Lrisk</text>
<text x="168.4" y="924.0" font-size="4.8" font-weight="bold" text-anchor="middle" fill="#111">Group</text>
<text x="300.6" y="767.8" font-size="4.8" font-weight="bold" fill="#111">status</text>
<text x="311.8" y="776.9" font-size="4.4" fill="#222">LIscore</text>
<text x="311.8" y="785.8" font-size="4.4" fill="#222">HIscore</text>
<text x="339.2" y="659.6" font-family='Liberation Serif', serif font-size="31" fill="#000">E</text>
<text x="392.3" y="890.6" font-size="4.3" text-anchor="end" fill="#333">0%</text>
<text x="392.3" y="867.99" font-size="4.3" text-anchor="end" fill="#333">10%</text>
<text x="392.3" y="845.38" font-size="4.3" text-anchor="end" fill="#333">20%</text>
<text x="392.3" y="822.77" font-size="4.3" text-anchor="end" fill="#333">30%</text>
<text x="392.3" y="800.16" font-size="4.3" text-anchor="end" fill="#333">40%</text>
<text x="392.3" y="777.55" font-size="4.3" text-anchor="end" fill="#333">50%</text>
<text x="392.3" y="754.94" font-size="4.3" text-anchor="end" fill="#333">60%</text>
<text x="392.3" y="732.33" font-size="4.3" text-anchor="end" fill="#333">70%</text>
<text x="392.3" y="709.72" font-size="4.3" text-anchor="end" fill="#333">80%</text>
<text x="392.3" y="687.11" font-size="4.3" text-anchor="end" fill="#333">90%</text>
<text x="392.3" y="664.5" font-size="4.3" text-anchor="end" fill="#333">100%</text>
<text x="462.2" y="713.26" font-size="5.9" text-anchor="middle" fill="#111">43%</text>
<text x="462.2" y="826.31" font-size="5.9" text-anchor="middle" fill="#111">57%</text>
<text x="575.05" y="730.67" font-size="5.9" text-anchor="middle" fill="#111">58%</text>
<text x="575.05" y="843.72" font-size="5.9" text-anchor="middle" fill="#111">42%</text>
<text x="521.1" y="655.2" font-size="12.8" text-anchor="middle" fill="#111">Exclusion</text>
<text x="462.7" y="652.6" font-size="4.2" text-anchor="middle" fill="#222"><tspan font-style="italic">p</tspan> = 0.05</text>
<text x="575.7" y="652.6" font-size="4.2" text-anchor="middle" fill="#222"><tspan font-style="italic">p</tspan> = 0.04</text>
<text x="394.2" y="633.7" font-size="5.2" fill="#222"><tspan font-style="italic">&#967;</tspan><tspan font-size="3.4" dy="-1.8">2</tspan><tspan font-size="3.4" dy="2.7">Pearson</tspan><tspan dy="-0.9">(1) = 8.00, </tspan><tspan font-style="italic">p</tspan> = 4.68e-03, <tspan font-style="italic">V&#770;</tspan><tspan font-size="3.4" dy="0.9">Cramer</tspan><tspan dy="-0.9"> = 0.14, CI</tspan><tspan font-size="3.4" dy="0.9">95%</tspan><tspan dy="-0.9"> [0.03, 1.00], </tspan><tspan font-style="italic">n</tspan><tspan font-size="3.4" dy="0.9">obs</tspan><tspan dy="-0.9"> = 338</tspan></text>
<text x="462.2" y="902.3" font-size="5.6" text-anchor="middle" fill="#222">(n = 169)</text>
<text x="575" y="902.3" font-size="5.6" text-anchor="middle" fill="#222">(n = 169)</text>
<text x="463.1" y="919.4" font-size="13" text-anchor="middle" fill="#111">Hrisk</text>
<text x="579.1" y="919.4" font-size="13" text-anchor="middle" fill="#111">Lrisk</text>
<text x="518.6" y="924.0" font-size="4.8" font-weight="bold" text-anchor="middle" fill="#111">Group</text>
<text x="650.8" y="767.8" font-size="4.8" font-weight="bold" fill="#111">status</text>
<text x="662" y="776.9" font-size="4.4" fill="#222">LIscore</text>
<text x="662" y="785.8" font-size="4.4" fill="#222">HIscore</text>
</g>
</svg></body></html>
